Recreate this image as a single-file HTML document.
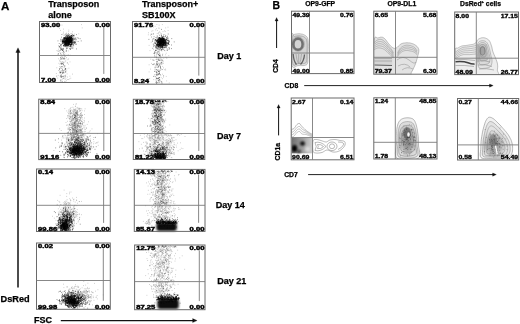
<!DOCTYPE html>
<html><head><meta charset="utf-8"><title>Figure</title>
<style>html,body{margin:0;padding:0;background:#fff;width:520px;height:324px;overflow:hidden}svg{display:block}</style>
</head><body>
<svg width="520" height="324" viewBox="0 0 520 324">
<defs><filter id="soft" x="-5%" y="-5%" width="110%" height="110%"><feGaussianBlur stdDeviation="0.35"/></filter><filter id="soft3" x="-30%" y="-30%" width="160%" height="160%"><feGaussianBlur stdDeviation="0.6"/></filter><filter id="soft4" x="-50%" y="-50%" width="200%" height="200%"><feGaussianBlur stdDeviation="2.5"/></filter><filter id="soft5" x="-50%" y="-50%" width="200%" height="200%"><feGaussianBlur stdDeviation="1.2"/></filter><filter id="soft2" x="-20%" y="-20%" width="140%" height="140%"><feGaussianBlur stdDeviation="0.8"/></filter></defs>
<rect width="520" height="324" fill="#fff"/>
<g font-family="'Liberation Sans', Arial, Helvetica, sans-serif" font-weight="bold" fill="#000">
<g filter="url(#soft)">
<path d="M62.1 81.4h.8M64.2 46.4h.8M65.3 71.9h.8M67.5 55.1h.8M59.5 60.1h.8M68.5 68.2h.8M59.7 45.7h.8M64 52.5h.8M67.1 48h.8M65.5 72.1h.8M59.7 52.4h.8M60.5 62.9h.8M61.4 56.5h.8M62.8 53h.8M67 79.5h.8M58.5 63.3h.8M64.6 68.7h.8M65.1 70.8h.8M65 75.2h.8M64.6 54h.8M68.3 47h.8M64.7 61.8h.8M66 50.5h.8M65 44.8h.8M69.3 78.9h.8M56.4 67.8h.8M67.5 59.7h.8M62.1 49.2h.8M62 72.9h.8M59.6 64.3h.8M56.5 50.6h.8M61.7 81.3h.8M60.6 80.1h.8M64.7 79.2h.8M57.8 75.4h.8M68 64.2h.8M64 55.4h.8M62.1 68.8h.8M60.5 49.8h.8M60.2 67.4h.8M59 46.5h.8M61.1 44.5h.8M63 71.2h.8M62.4 57h.8M58 70.5h.8M62.1 73.6h.8M59.9 75.7h.8M63.6 67.4h.8M69.5 76.2h.8M65.2 69h.8M61.9 79.2h.8M57.3 78.1h.8M58 45.6h.8M57.1 54.2h.8M65.5 58.8h.8M60.3 53.6h.8M63.2 50.7h.8M60.8 77.2h.8M63.3 45h.8M67.9 50.9h.8M60.6 72.9h.8M61.8 52.5h.8M60.2 53.8h.8M66.1 80.8h.8M59.4 73h.8M59 61h.8M58.1 49.2h.8M58.1 54.2h.8M64.6 81.3h.8M72 74.1h.8M59.5 46.7h.8M66.3 70.9h.8M63.9 58.3h.8M59.1 71.4h.8M62 55.2h.8M62.2 48.9h.8M60.6 44.7h.8M69.8 55.2h.8M56.3 76.7h.8M64.3 77.9h.8M64.2 70h.8M61 72.4h.8M63.5 51.4h.8M66.1 57.5h.8M63.5 78.2h.8M64.5 81.5h.8M65.4 60.8h.8M55.9 73.5h.8M68.2 79.5h.8M66.4 55.2h.8M66.5 68.9h.8M58.1 58.8h.8M62.6 61.7h.8M60.2 61.6h.8M60.9 54.6h.8M66.4 44.7h.8M60.2 73.1h.8M62.5 70.4h.8M56.3 75.9h.8M62.4 49.8h.8M63.3 53h.8M60.5 66.7h.8M60.5 79.6h.8M69.6 61.9h.8M58.8 51.6h.8M59.3 66.6h.8M60.2 80.4h.8M67.2 77h.8M70.4 78.2h.8M64.2 59.6h.8M60.5 54h.8M61.5 77.1h.8M66.7 73.9h.8M59.8 76.4h.8M68.1 58.9h.8M68 54.9h.8M63.2 53.1h.8M65.3 77.1h.8M65.6 78.9h.8M66 33.2h.8M81.2 24.6h.8M66.4 33.8h.8M68.4 30.1h.8M72 31.8h.8M61.6 25.1h.8M63 29.1h.8M63 32.1h.8M62.8 33.4h.8M70.5 33.5h.8M58 25.8h.8M78.4 33.8h.8M60.2 30.4h.8M68.3 31.7h.8M74.3 34.1h.8M59.1 28.3h.8M67.3 35h.8M71.9 34.5h.8M71.5 33.5h.8M81.8 27.9h.8" stroke="#000" stroke-opacity="0.3" stroke-width="0.75" fill="none"/>
<path d="M63.8 43.4h.8M57.6 40.9h.8M67.2 38.4h.8M77.7 41.5h.8M70.3 45.2h.8M65.1 42.1h.8M69.8 36h.8M71.6 46.1h.8M66.1 43.7h.8M63.3 39.9h.8M66.3 48.3h.8M78 38.2h.8M67 45h.8M68.6 44.6h.8M70 41.7h.8M69.8 38.5h.8M64.6 38.1h.8M66.4 38.9h.8M69.6 42.6h.8M61.9 41.9h.8M69.6 46.6h.8M61.5 34.5h.8M80.8 40.9h.8M65 44.1h.8M67.9 42.2h.8M61.9 42.5h.8M70.6 41.2h.8M73.1 39.3h.8M76 34.6h.8M66.3 35.3h.8M66 48h.8M65.9 45h.8M66.6 38.5h.8M67.9 44.7h.8M70 38.5h.8M65.6 44.2h.8M69.8 44.8h.8M79.7 38.7h.8M64.2 42.3h.8M68.1 44.6h.8M73.3 45.8h.8M68.8 44.1h.8M75.6 44.2h.8M71.3 42.9h.8M72.1 36.9h.8M68.6 38h.8M64.9 41h.8M68.2 42.2h.8M67.8 36.2h.8M70.6 38.9h.8M67.2 35.5h.8M76.2 48.9h.8M63.2 48.4h.8M69.7 40.4h.8M71.7 35h.8M67.1 40.6h.8M72.8 35.5h.8M58.7 46.8h.8M63.7 42.3h.8M72.5 34.9h.8M66.9 48.1h.8M71.5 46h.8M68.2 38.1h.8M70.3 45.4h.8M72.1 39.6h.8M68.5 41.1h.8M69.5 48.6h.8M67.9 44.7h.8M70.7 39.8h.8M66 43h.8M60 41h.8M70.7 38.4h.8M68.6 38h.8M68.5 40.8h.8M66.7 40.7h.8M61.7 43.8h.8M68.5 41.9h.8M63.5 43.3h.8M72.3 36.7h.8M68.4 45.8h.8M71.1 44.3h.8M58.8 43.5h.8M62.9 40.3h.8M63.9 40.7h.8M69.6 42.5h.8M66 43.4h.8M66 42.6h.8M65.5 44.2h.8M70.4 37.2h.8M69.6 45.3h.8M66.9 43.1h.8M63.3 41.1h.8M70.1 49h.8M71.2 40.7h.8M68.4 36h.8M67.9 41.6h.8M71.1 38.6h.8M66.5 41.6h.8M68.3 43.2h.8M62.3 41.3h.8M69.8 41.3h.8M66.2 40.5h.8M65.3 43h.8M71.1 36h.8M75.5 41h.8M68.1 44.7h.8M60.3 39.3h.8M63.1 42.9h.8M66.5 40.6h.8M68 36.3h.8M62 39.7h.8M71.6 42h.8M63.5 41.1h.8M63 49.3h.8M71.4 43.9h.8M71.5 44h.8M72.9 38.7h.8M74.1 39.1h.8M68.7 44.4h.8M70.2 41.6h.8M60.2 45.6h.8M69.6 37.9h.8M65 34.2h.8M69.9 38.2h.8M70.7 39.4h.8M70 37.1h.8M69.9 49.4h.8M64.3 41.1h.8M65.8 39h.8M75.7 44.2h.8M63.1 37.8h.8M74.6 42.4h.8M73.4 43.3h.8M65 42.7h.8M71 37.5h.8M67.4 45.2h.8M75.9 39.3h.8M64.6 45.1h.8M72.8 37.3h.8M67.3 46.1h.8M67.2 37.9h.8M65.9 40h.8M69.8 41.2h.8M73.9 41.3h.8M63.4 45.9h.8M72.5 41.1h.8M66.5 46.2h.8M61.1 37.2h.8M71.1 37.3h.8M65.1 37.9h.8M61.7 40.7h.8M67.8 43.3h.8M61.3 48.4h.8M70.9 39.9h.8M65.8 50.1h.8M65.7 44h.8M68.5 45.4h.8M67.6 46.3h.8M65.1 42h.8M72.6 48h.8M68.5 38.3h.8M69.3 36.5h.8M74.6 42.8h.8M65.4 40.8h.8M65.8 45.2h.8M60.3 44.3h.8M63.9 38.7h.8M64.7 45h.8M65.1 43.6h.8M74.1 42.4h.8M70.5 45h.8M72.8 41.9h.8M71 41.7h.8M69.7 41.7h.8M71.3 38h.8M74.7 37.7h.8M72 39.2h.8M70.9 48.1h.8M65.3 38.3h.8M65.4 42h.8M76.8 37.8h.8M70.3 36.6h.8M70.9 42.8h.8M74 35.8h.8M71.2 41.2h.8M64.7 43.5h.8M63.7 35.1h.8M71.6 41.9h.8M64.7 38.4h.8M74.4 39.3h.8M74.5 43.7h.8M67.9 45h.8M67.5 41.8h.8M68.2 41.7h.8M72.8 39.6h.8M67.5 41h.8M66.6 42.4h.8M66.2 42.3h.8M69.5 48.7h.8M71.9 48.1h.8M69.5 40.6h.8M73.7 38.6h.8M69.4 37.1h.8M69.8 44.4h.8M71.3 35.7h.8M68.8 40.9h.8M66.1 40.2h.8M65.9 40h.8M72.9 45h.8M61.2 45h.8M67.8 43.8h.8M65.8 45.7h.8M68.6 40.8h.8M63.7 46.4h.8M74.1 43.2h.8M60 72.1h.8M60.6 75.7h.8M64.8 69.4h.8M64.6 56.4h.8M60.7 68.4h.8M61.1 63.3h.8M59.1 46.8h.8M62.1 76.4h.8M59.8 47.7h.8M63.6 72.8h.8M60.8 70.9h.8M61.9 50.5h.8M63.1 64.9h.8M63.5 70.8h.8M61.4 58.1h.8M60.5 81.1h.8M65.1 68.9h.8M63.2 64.1h.8M60 48.4h.8M62 50.4h.8M63.3 76.6h.8M62.9 72.7h.8M65.3 76.1h.8M61 66.7h.8M59.7 72.5h.8M62.4 57.9h.8M62.3 63.9h.8M66.9 62.9h.8M62.2 69.8h.8M58.2 53.8h.8M60.8 46.9h.8M62.2 49.2h.8M60.4 76.9h.8M61.7 62h.8M60.4 49.7h.8M63.4 62.7h.8M61 77.1h.8M61.1 64.3h.8M60.6 59.5h.8M63.2 51.4h.8M59.1 68.6h.8M61.9 63.5h.8M63.3 58.4h.8M62.4 71.1h.8M60 57.4h.8M64.4 66.7h.8M64 55.4h.8M62.4 73.1h.8M65.1 71.9h.8M62.5 72.5h.8M64.2 58.2h.8M60.9 76.3h.8M62.8 78.3h.8M59.2 69.7h.8M63.7 75.9h.8M64.4 65.6h.8M59.9 72.4h.8M59.6 50.5h.8M60.8 74.8h.8M57.7 51.1h.8M63.5 54.7h.8M62.3 66.7h.8M65.8 51.4h.8M60.6 58.5h.8M60.6 63.5h.8M62.7 59.1h.8M61 49.5h.8M61.2 49.2h.8M65 68.7h.8" stroke="#000" stroke-opacity="0.6" stroke-width="0.8" fill="none"/>
<path d="M68.1 41.8h.8M66.2 39.8h.8M69.3 41.3h.8M67.1 39.3h.8M68.5 42.6h.8M64.1 42.1h.8M61.9 41.2h.8M68 40.6h.8M67.8 41.5h.8M68.1 41.2h.8M65 42.9h.8M70 40.3h.8M68.3 37.9h.8M68.6 42.2h.8M68.1 42.8h.8M68.3 42.6h.8M70.5 38h.8M67.8 40h.8M66.2 41.6h.8M71.1 42.2h.8M67.2 36.5h.8M66.6 41.6h.8M71.5 40.9h.8M68.8 44.5h.8M66.5 41.2h.8M66.2 39.3h.8M67.3 40.4h.8M71.3 41h.8M68.1 43.7h.8M68.4 42.3h.8M65.1 43.5h.8M66.1 39.9h.8M70.6 45.3h.8M65.2 41.1h.8M70 41.3h.8M67.5 39.2h.8M67.4 39.9h.8M65.5 43.4h.8M63.6 45.6h.8M64.5 44.9h.8M72.3 42.4h.8M67.4 40.8h.8M66.4 39.5h.8M69.8 38.7h.8M70.6 39.3h.8M70.1 40h.8M66.5 41.9h.8M71 37.8h.8M69.6 36.6h.8M66.6 40.2h.8M64.4 44.9h.8M67.8 41.4h.8M66.5 43.1h.8M66.4 41.6h.8M70.4 38.5h.8M68.5 40.8h.8M68.1 39.6h.8M65.5 44.8h.8M69.9 42h.8M70.7 41.9h.8M68.3 44.7h.8M65.8 44.5h.8M69.9 42.2h.8M63.3 39.4h.8M68.7 38.2h.8M61.7 39.3h.8M64.2 39.4h.8M66.4 39.5h.8M68.1 42.1h.8M64.8 41.2h.8M64.5 40.8h.8M67.4 39.4h.8M69 41.4h.8M71.1 35.9h.8M69.8 39.9h.8M67.7 41.5h.8M65.4 37h.8M64 40.9h.8M67.9 41h.8M68.7 42.7h.8M69.3 40.9h.8M65.9 43.5h.8M64.6 42.6h.8M66.4 38.7h.8M67.5 43.3h.8M68.3 40.8h.8M71 40.3h.8M69.4 44.2h.8M66.1 41.2h.8M65.2 46.6h.8M71.1 41.7h.8M68 40.4h.8M67.1 40.2h.8M68 45.1h.8M65.8 39.5h.8M68.6 43h.8M66.6 41.3h.8M67.4 41.7h.8M63.8 42.8h.8M66.7 44h.8M66.6 43.3h.8M66.7 39.3h.8M71 44.5h.8M67 41.1h.8M65.7 43.2h.8M69.9 37.8h.8M69 41.9h.8M65.2 41.3h.8M68.6 41.5h.8M71 44.2h.8M69.3 40.5h.8M64.2 44.1h.8M61.7 41h.8M70.6 41.5h.8M65.6 38.1h.8M66.2 40.4h.8M66.2 39.2h.8M66.9 38.8h.8M69.9 38.9h.8M66.5 41h.8M63.2 40.1h.8M69.5 39.8h.8M69.4 42.9h.8M62.9 41.9h.8M68.6 41.7h.8M67 38.6h.8M66.4 44h.8M66.9 36.9h.8M71.6 40.6h.8M70.6 38.7h.8M65.9 39.4h.8M70.9 37.9h.8M66.4 37.8h.8M66 44.9h.8M67.1 40.2h.8M65.5 41.7h.8M68.6 43h.8M70.5 37.8h.8M66.6 43.3h.8M68.1 42.6h.8M66.5 39.2h.8M67.6 41.4h.8M68.2 38.3h.8M68.8 36.8h.8M64.4 41.2h.8M65.5 43.4h.8M65.1 40.9h.8M68.4 39h.8M68.3 40.8h.8M63 41.3h.8M65.4 44.4h.8M64.1 42.3h.8M68.1 34h.8M69.1 37.8h.8M65.5 38.7h.8M66.9 45.1h.8M63.7 38.7h.8M66.8 41.6h.8M65.1 42.5h.8M72.1 38.5h.8M69.1 40.2h.8M68.2 40.5h.8M68.3 40.9h.8M64.6 43.1h.8M64 41.7h.8M68.2 41.4h.8M67 40.6h.8M65.9 39.8h.8M66.7 38.8h.8M67.4 37.3h.8M68.9 41.6h.8M66 41.5h.8M69.8 41.2h.8M66.7 38h.8M70.3 42.8h.8M70.4 40.3h.8M65.1 45h.8M67.1 37.8h.8M64.1 41.7h.8M70.3 44.2h.8M71.5 38.9h.8M65.9 39.1h.8M68.9 40.9h.8M70.3 42.5h.8M67.6 38.8h.8M64.5 44.4h.8M63.4 42.7h.8M65.5 40.3h.8M62.1 43.5h.8M66.7 34.9h.8M68.1 42.4h.8M71.2 43.6h.8M70.8 40.3h.8M69.3 42.3h.8M72 43.8h.8M67.4 41.3h.8M69.3 44.1h.8M66 43h.8M70.8 40.8h.8M68.5 39.6h.8M69.4 38h.8M66 42.7h.8M67.4 39.1h.8M67.6 40.4h.8M68 44.1h.8M75.2 42.2h.8M71.3 39h.8M65.6 42.7h.8M62.4 40.6h.8M68 38.8h.8M65.9 39.7h.8M68 42.8h.8M62.9 41.3h.8M69.6 46.6h.8M69.9 39.7h.8M71.7 44.3h.8M66.9 40.8h.8M68.9 39.3h.8M74.2 42h.8M69.9 41.8h.8M63.7 45.1h.8M67.8 42.3h.8M64.2 44.1h.8M65.7 41.5h.8M62.6 41.8h.8M64.4 41.8h.8M65.9 37.2h.8M67 41.5h.8M71.7 40.9h.8M67.7 44.9h.8M67.6 41.1h.8M68.3 38.1h.8M68.6 41.1h.8M67.4 40.1h.8M70 41.5h.8M66.8 43.1h.8M63.4 38.4h.8M65.3 38.8h.8M65 40.4h.8M65.4 43.6h.8M64.2 38.2h.8M69.3 40.1h.8M68.8 40.9h.8M69.3 40.5h.8M71.2 40.4h.8M69.2 41.5h.8M66.3 46.1h.8M68.3 39.1h.8M72.8 35.9h.8M65.8 40.2h.8M68.4 38h.8M66.6 41.8h.8M64.5 37.8h.8M70.3 41.2h.8M66.7 39.6h.8M68.7 39.3h.8M71.5 39.8h.8M70 38.8h.8M69.4 38.8h.8M70 46.2h.8M69.1 39.2h.8M67.9 41.9h.8M63.4 42.9h.8M68.6 38h.8M69.9 40.7h.8M70 44.5h.8M67.1 42.4h.8M66.3 39.2h.8M68.7 42.9h.8M65.3 42h.8M68.2 38.3h.8M67.1 38.9h.8M72.9 44.2h.8M72.4 38.2h.8M65.8 44.9h.8M69.2 44h.8M69.2 42.3h.8M68.4 42.1h.8M70.7 41.4h.8M65.9 41.8h.8M69.2 37h.8M69.9 38.4h.8M66.5 45.1h.8M67.9 43.5h.8M70.2 38.8h.8M67.2 40.2h.8M66.7 42h.8M67.3 40.1h.8M69.2 42.6h.8M71.3 40.8h.8M69.4 39.5h.8M62.1 41.9h.8M70.2 41.9h.8M69.5 40.1h.8M68.7 43.3h.8M63.1 45.3h.8M66.4 44.4h.8M66.3 39.8h.8M67.7 39h.8M64 39.4h.8M70.1 39.6h.8M70.3 39.9h.8M68.2 42.4h.8M69.9 39.2h.8M67 39.4h.8M68 39h.8M70.6 44.2h.8M68 41.2h.8M64.9 37.2h.8M67.9 39.3h.8M62.5 41.4h.8M61.9 42h.8M70.5 37.1h.8M68.2 40.2h.8M68.9 40h.8M68 43.3h.8M66.1 40.1h.8M65.7 38.9h.8M69.3 37.6h.8M69.3 38.3h.8M68.9 39h.8M69.4 37.5h.8M71.1 42.3h.8M64.9 42.1h.8M68.2 35.6h.8M67 39.8h.8M65 41.1h.8M66.7 40.4h.8M69.1 39.5h.8M69.2 41.7h.8M68.7 40.9h.8M67.2 40.8h.8M65.5 41.2h.8M66.4 42.4h.8M67.3 44.3h.8M63.6 37.8h.8M63.9 38.3h.8M68.8 43.3h.8M67.9 37.8h.8M68.6 40.8h.8M71 39.8h.8M69.3 41.9h.8M66.9 39.3h.8M69.9 42.7h.8M65 41.8h.8M68.4 42.1h.8M62.3 41.3h.8M69.3 34.9h.8M67.2 42.1h.8M67.7 41.3h.8M66.7 42.3h.8M68.3 43h.8M64.8 43.4h.8M62.7 41.7h.8M68.7 42.9h.8M66.1 38.4h.8M66.3 45.3h.8M66.7 38h.8M70.6 42.7h.8M71.9 41.9h.8M68.1 40.1h.8M67.1 45.2h.8M69.6 40.8h.8M66 36h.8M70.1 38.7h.8M65.4 39.4h.8M68.8 41.7h.8M67 43.6h.8M65.7 40h.8M70.6 46.8h.8M67.6 44.8h.8M70.5 42h.8M65.8 40.9h.8M71.6 40.2h.8M71.9 42.8h.8M66.6 38.1h.8M70.7 37.5h.8M71.3 40.7h.8M72.9 40.9h.8M68.2 41.4h.8M66.5 41.8h.8M69.8 35.8h.8M68.5 42.8h.8M65.2 45.4h.8M67 43.2h.8M65.5 36h.8M66.2 42.6h.8M71.8 39.7h.8M66.9 38.1h.8M67.6 40.7h.8M64.9 45h.8M71.4 40.6h.8M66.9 45.1h.8M69.4 42.5h.8M69.2 41.4h.8M64.7 38.3h.8M71 35.7h.8M66.9 40.8h.8M63.7 40.2h.8M68.9 41.4h.8M63.5 41.1h.8M66.9 43.2h.8M67.5 42.4h.8M64.2 37.8h.8M67.9 43h.8M72.8 35.6h.8M70.3 40.2h.8M75.2 38.9h.8M71.1 37.1h.8M73 42.4h.8M71.5 39.1h.8" stroke="#000" stroke-opacity="0.9" stroke-width="0.8" fill="none"/>
</g>
<rect x="39.5" y="21.5" width="71" height="61" fill="none" stroke="#6a6a6a" stroke-width="1"/>
<line x1="103.8" y1="26.8" x2="103.8" y2="73.9" stroke="#7a7a7a" stroke-width=".9"/>
<line x1="39.5" y1="55.5" x2="110.5" y2="55.5" stroke="#7a7a7a" stroke-width=".9"/>
<text transform="translate(41.1 26.5) scale(1 0.64)" font-size="7.6" text-anchor="start" stroke="#000" stroke-width="0.6">93.00</text>
<text transform="translate(109.9 26.5) scale(1 0.64)" font-size="7.6" text-anchor="end" stroke="#000" stroke-width="0.6">0.00</text>
<text transform="translate(41.1 81.7) scale(1 0.64)" font-size="7.6" text-anchor="start" stroke="#000" stroke-width="0.6">7.00</text>
<text transform="translate(109.9 81.7) scale(1 0.64)" font-size="7.6" text-anchor="end" stroke="#000" stroke-width="0.6">0.00</text>
<g filter="url(#soft)">
<path d="M148.7 71.9h.8M167.6 27.2h.8M162.3 66.4h.8M159.2 49.9h.8M159.5 47.4h.8M155.7 53h.8M153.5 45.1h.8M156.5 75.7h.8M157 64.2h.8M155.2 47.3h.8M151.4 31.2h.8M156.6 54.3h.8M155.8 77.5h.8M158.1 28.1h.8M148.7 45.4h.8M157.1 52.2h.8M157.5 48.3h.8M152.5 30.7h.8M150.2 35.2h.8M159.9 56.1h.8M154.4 67.3h.8M160.2 67h.8M156.1 64.3h.8M160.8 64.4h.8M156.5 24.5h.8M151.2 37.1h.8M157.6 44.2h.8M156.5 39.4h.8M161 47.3h.8M156 48h.8M156.2 44.4h.8M161.9 24.6h.8M163.2 75.9h.8M161.4 81.4h.8M162.7 60.9h.8M160 40.4h.8M161.5 51h.8M162 78.7h.8M159.8 60h.8M158.3 65.8h.8M158.6 66h.8M168.8 82.9h.8M158.1 63.3h.8M156.9 30.5h.8M156.4 54.3h.8M157.8 79.3h.8M159.1 31.8h.8M152.9 27.1h.8M149.1 27h.8M159.3 28.2h.8M150.8 33.8h.8M159.2 70.3h.8M158.6 60h.8M163.2 67.9h.8M165.5 57.4h.8M159.7 45.2h.8M155.5 71.2h.8M152.7 34.2h.8M154.4 45.6h.8M158.2 48.9h.8M148.7 64.8h.8M158.3 69.7h.8M157.9 58h.8M160.9 60.5h.8M156.5 40.9h.8M158.5 59.6h.8M154.7 74.6h.8M155.9 50.4h.8M150 69.1h.8M158.6 54.5h.8M165 54.8h.8M158.7 60.5h.8M159.6 32.4h.8M153.6 36.9h.8M164.4 34.5h.8M154.5 56.1h.8M161.6 64.1h.8M158.5 66.5h.8M153.7 36.5h.8M162.6 44h.8M158.1 32.7h.8M158.8 63.2h.8M160 49.2h.8M157.9 40.4h.8M156.3 37.5h.8M160.1 80.9h.8M156.2 52.9h.8M155 43.3h.8M151.3 36.9h.8M155 67h.8M155.8 78.7h.8M158.1 33.8h.8M163.3 75.7h.8M150.4 59.2h.8M158.6 78.3h.8M148 80.8h.8M153.3 49.6h.8M155.7 80.5h.8M147.9 34.8h.8M149.6 50.6h.8M158.7 50.6h.8M158.3 38.7h.8M157.5 53h.8M154.4 69.2h.8M167.7 30.5h.8M157.3 52.9h.8M154.1 55.5h.8M165.6 35.8h.8M160.8 62.5h.8M156.3 39.2h.8M163.4 58.3h.8M158.7 58.3h.8M160.9 68.9h.8M159.1 80.1h.8M153.4 79.6h.8M162.4 54.1h.8M158.7 39.8h.8M153.5 38.5h.8M154.6 71.2h.8M162.3 69.6h.8M156.3 71.6h.8M158.2 74h.8M160.9 57.9h.8M158.6 77.8h.8M151.1 63.4h.8M160.9 61.9h.8M162.2 74.2h.8M161.9 63.1h.8M165.3 70.1h.8M159.6 79.8h.8M161.5 47.7h.8M165.2 69.1h.8M156.7 41.9h.8M165.8 53.2h.8M165.8 76.4h.8M161.5 82.4h.8M166.3 80.9h.8M161.8 69.5h.8M154 74.9h.8M163.1 77.1h.8M159.5 60.6h.8M159.9 38.6h.8M158.7 25.1h.8M164.1 69.7h.8M160.5 69.6h.8M154.9 67.9h.8M160.2 58.8h.8M161.3 63.5h.8M154.7 67.1h.8M156 55.9h.8M156.3 63.5h.8M155.3 37.5h.8M159.6 56h.8M162.6 61.7h.8M166.5 58.1h.8M163.4 39.4h.8M162.6 31.6h.8M163.1 63.3h.8M164 30.8h.8M156.3 71.7h.8M161.1 34.9h.8M159.5 70.3h.8M157.4 45.3h.8M156 78.1h.8M155.7 37.5h.8M156.8 33.5h.8M152.4 64.5h.8M160.3 70.4h.8M157.9 45h.8M158.5 52.3h.8M159.5 63.7h.8M161.3 41.7h.8M155.3 47.3h.8M157.5 58h.8M150.8 42.2h.8M148 32.8h.8M149.3 78.5h.8M164.9 31.4h.8M160.1 74.7h.8M164.6 50.8h.8M155.9 75.6h.8M165.3 27.9h.8M166.3 57.8h.8M162.3 45.2h.8M168.7 42h.8M160.8 77.7h.8M154.7 26.3h.8M160.4 75.7h.8M156 28.7h.8M152.2 64.6h.8M152.3 41.1h.8M168.4 55.6h.8M155.6 79.5h.8M157.9 71.8h.8M155 29.9h.8M158.7 42.3h.8M157 53.3h.8" stroke="#000" stroke-opacity="0.3" stroke-width="0.75" fill="none"/>
<path d="M161.2 29.4h.8M155.6 42.8h.8M168.8 44.5h.8M157.4 48.4h.8M162 40.7h.8M166 45.7h.8M166.6 45h.8M158.2 42.2h.8M165.2 41.3h.8M173.8 41.9h.8M159 47.2h.8M160.5 44.4h.8M165 45.7h.8M160.2 44.4h.8M165 45.7h.8M148.5 39.4h.8M162.3 46.3h.8M164.1 42.3h.8M161.6 49.5h.8M168.1 44.1h.8M152.9 44.2h.8M159.9 42.4h.8M165.9 44.6h.8M160.4 46.2h.8M160.1 41.1h.8M161.6 39.2h.8M156.2 47.7h.8M160.5 42.7h.8M160.9 42.9h.8M161.6 43h.8M158.1 46.3h.8M158.6 46.7h.8M153.4 38.8h.8M158.7 44.2h.8M157.1 43.1h.8M152.2 41.1h.8M158.8 44.9h.8M165.2 39.6h.8M168.3 40.6h.8M152.9 33.8h.8M168 42.5h.8M156.9 47.9h.8M161.1 49.6h.8M160.7 33.9h.8M165 41.4h.8M160.5 48.8h.8M160.4 47.2h.8M161.5 39.9h.8M163.6 40.5h.8M165.3 41.9h.8M164.1 39.2h.8M158.2 41.2h.8M159.3 45.6h.8M158.5 44.5h.8M167.9 44.2h.8M165.9 41.7h.8M166.2 45.2h.8M163.3 41.8h.8M159.4 41.9h.8M161.8 44.8h.8M161.8 44.3h.8M154.7 39.9h.8M160.4 41.9h.8M157.9 45.4h.8M162.7 36.6h.8M161.6 38.6h.8M168.7 41.1h.8M160.7 42.6h.8M168.1 43.7h.8M165.1 47.1h.8M157.5 49.3h.8M157.9 46h.8M163.3 40.8h.8M171.2 45h.8M160.6 43.6h.8M165.4 47.2h.8M164 47.5h.8M167.8 38.2h.8M162 48.4h.8M164.3 38.9h.8M160.4 46.8h.8M159.4 42.5h.8M164.9 44.2h.8M158.4 40.6h.8M162.6 43.1h.8M158.8 49.4h.8M160.3 48.1h.8M168.3 40.8h.8M160.5 43.2h.8M158 39.2h.8M159.9 46.1h.8M159.6 37.7h.8M167.8 34h.8M158.8 45h.8M155.7 45.2h.8M162.5 38.7h.8M163.7 43.2h.8M162.5 48.1h.8M163.6 48h.8M162.7 44.7h.8M155.5 47.9h.8M157.8 43.1h.8M162.8 41.6h.8M152.4 39.2h.8M158.1 44.9h.8M157.7 44h.8M157.5 51.3h.8M163.9 50.3h.8M157.3 45.4h.8M157.6 45.1h.8M164.4 36.8h.8M156.8 38.4h.8M155.3 40.1h.8M157.5 37.4h.8M162 44.9h.8M156 40.7h.8M161.6 42h.8M158.6 45.9h.8M165.1 45.4h.8M160.7 50.4h.8M168.9 41.3h.8M161 47.4h.8M158.2 44.4h.8M161.7 40.2h.8M159.3 35.3h.8M171.1 48.6h.8M165.7 47.7h.8M165.8 46.3h.8M157.7 44.5h.8M156.7 44.4h.8M168.9 48.4h.8M159.9 41.1h.8M161.2 46.5h.8M159.9 38.6h.8M163 35h.8M162.1 47.2h.8M162.8 45.8h.8M162.1 39.6h.8M160.6 42.5h.8M166.8 49h.8M158.4 42.1h.8M167.3 44.1h.8M165.2 43.9h.8M161.3 43.2h.8M168.6 42.2h.8M168.6 47.5h.8M161 39.7h.8M160.4 39.4h.8M163.9 45.9h.8M153.9 43.4h.8M157.8 43.2h.8M167.2 36.3h.8M162.3 42.5h.8M153.6 45.3h.8M161.6 40.9h.8M158.5 55h.8M157.6 41.4h.8M159.9 42.5h.8M159.5 37.6h.8M158.1 41.3h.8M160.1 42.9h.8M158.9 44.6h.8M162.3 43.4h.8M159.5 45h.8M165.8 47.1h.8M160.7 43.5h.8M171.4 38.6h.8M162.4 46.2h.8M162.1 45.3h.8M162.3 42.6h.8M159.8 42.7h.8M156.7 45.6h.8M168.7 49.3h.8M166.9 39.1h.8M167.9 40.1h.8M161.3 49.8h.8M157 46h.8M162.7 42.2h.8M157.8 44.4h.8M159.6 46.8h.8M166.6 37.6h.8M159.4 41.6h.8M161.9 42h.8M154.6 40.8h.8M157.6 48.8h.8M155.8 44.2h.8M156.5 41.8h.8M150.9 34.4h.8M156.3 46.7h.8M160.9 36.3h.8M163.6 45.5h.8M160.5 41.5h.8M163.3 47.4h.8M162.1 44.8h.8M161.3 41.4h.8M160.2 41.9h.8M165.4 44.7h.8M154 51.9h.8M156.2 74.5h.8M155.7 69.7h.8M155.6 46.1h.8M160.2 68.3h.8M159.3 53.2h.8M155.9 57.2h.8M156.5 63.4h.8M154.3 53.8h.8M153.5 60.3h.8M156.9 70.6h.8M157.5 74.4h.8M157.8 80.5h.8M159.2 55.4h.8M162.1 55.1h.8M156.3 57.7h.8M158 60.1h.8M159.4 60.2h.8M156.9 65.1h.8M160.1 67.4h.8M157.6 59.4h.8M160.8 46.3h.8M158.2 73.9h.8M155.2 50.4h.8M156.1 78.5h.8M158.1 66.3h.8M161.8 60.5h.8M157.4 64.3h.8M155.1 50.3h.8M159.7 57h.8M158.4 80.8h.8M156.2 81.7h.8M159 55.7h.8M158.7 81h.8M153.4 46.6h.8M159.1 73.3h.8M157.8 47h.8M156.6 62.2h.8M156.6 61.7h.8M161.3 62.5h.8M160.9 81.8h.8M161.5 59.4h.8M155 46.7h.8M156.1 50.2h.8M159.5 74.5h.8M155.9 48.2h.8M153.5 53.4h.8M161.6 83.2h.8M158.5 51.6h.8M158 71h.8M156.6 67h.8M155.9 72.6h.8M160.2 66.3h.8M155.6 65.2h.8M160.4 63.2h.8M156.6 73.3h.8M152.5 59.9h.8M159.9 55.1h.8M153.4 64.6h.8M158.2 78.5h.8M158.4 71.5h.8M157.7 67.5h.8M154.8 76.6h.8M159.5 64.9h.8M154.3 71.4h.8M156.5 64.6h.8M155.8 59.4h.8M156.7 75.1h.8M159.4 48.7h.8M156.1 83.1h.8M158.7 82.5h.8M159 77.6h.8M153.7 63.8h.8M156.7 61.3h.8M158.2 54.4h.8M153.3 76.4h.8M159.1 79.5h.8M159.1 65h.8M157.1 78.4h.8M154.5 57.1h.8M157.5 78.7h.8M156.3 83h.8M158.7 71.5h.8M157.3 82.6h.8M159.1 73.6h.8M156.5 72.4h.8M152.4 48.3h.8M158.6 77.5h.8M154.2 52.9h.8M159.1 72.1h.8M154.8 52.1h.8M157.7 74.7h.8M155.5 82.3h.8M156.5 69.5h.8M157.9 47.5h.8" stroke="#000" stroke-opacity="0.6" stroke-width="0.8" fill="none"/>
<path d="M159.3 42.2h.8M164.5 42.5h.8M161.1 41.3h.8M164 42.7h.8M160.3 39h.8M157.2 44.4h.8M164 43.4h.8M159 45.5h.8M160.4 43.5h.8M158.6 38.1h.8M158 38.9h.8M161.5 42.3h.8M165.5 40.1h.8M159.1 37.5h.8M160.9 41.3h.8M156.3 44.5h.8M162.5 40.1h.8M159.9 40.4h.8M162 46.7h.8M159.2 43.7h.8M165.3 43.6h.8M156.9 41.3h.8M158.5 40.3h.8M159.5 43.2h.8M160.3 44.3h.8M158.7 41.6h.8M161.2 39.9h.8M158.1 42.4h.8M161 45.8h.8M161.1 42.6h.8M162.8 42.2h.8M159.4 42.2h.8M159.8 45.1h.8M164.6 40.9h.8M162.7 49.4h.8M161.3 41h.8M163 43.6h.8M160.9 38.9h.8M162.6 41.1h.8M160.4 39h.8M161.7 42.4h.8M158.3 41.7h.8M155 43.4h.8M163.2 40.2h.8M163.4 38.4h.8M159.5 45.4h.8M160.8 41.8h.8M161.5 39.2h.8M163.4 41.6h.8M162.2 40.4h.8M164.6 43.9h.8M164.1 42.6h.8M161.2 35.8h.8M157.7 42.1h.8M164.1 44.8h.8M164.5 39.1h.8M165.2 40.4h.8M157.9 44.5h.8M166.3 42.4h.8M160.6 41.2h.8M160.7 43.8h.8M158 41.8h.8M157.8 46.8h.8M162.2 39.2h.8M158.9 41.5h.8M162.4 44.1h.8M158.7 40.4h.8M164.3 41.9h.8M164.1 45.1h.8M162.4 42.4h.8M163.2 39.1h.8M163.5 39.1h.8M161.2 45.1h.8M158.7 37.5h.8M162.6 42.9h.8M159.1 44.3h.8M161.1 40.7h.8M155.4 39.9h.8M163.2 44.4h.8M159.4 43.6h.8M166.5 43.3h.8M162.8 38.9h.8M159.7 40h.8M162.7 42.4h.8M162.1 40.8h.8M162 44.4h.8M160.6 41.9h.8M160.3 44.2h.8M160 44h.8M162.6 42.7h.8M165.2 43.6h.8M159.4 46.9h.8M163.5 44.9h.8M165.4 41.2h.8M163.5 42.9h.8M159.9 41.6h.8M159.4 38.4h.8M160.5 39.5h.8M162.6 43.8h.8M162.5 43.2h.8M160.1 42.3h.8M163.4 40.6h.8M160.4 38.4h.8M167.5 43.2h.8M163.2 41.8h.8M162.5 40h.8M163.1 39.3h.8M156.4 41.3h.8M156.4 40.5h.8M165.1 42h.8M161.6 43.6h.8M162.1 41.3h.8M161.4 46.2h.8M160.3 40.2h.8M164 45.9h.8M160.1 41.5h.8M161.5 44.2h.8M163.3 42.3h.8M161.1 42.8h.8M158.3 42h.8M159 45.3h.8M161.2 43.6h.8M164 39.1h.8M163.2 39.7h.8M160.2 42.1h.8M159.6 43.3h.8M163.4 38.1h.8M162.9 38.6h.8M162.7 36.8h.8M162.6 39.9h.8M162.2 44.3h.8M160.8 43.2h.8M162.6 45.4h.8M163.1 41.1h.8M155.9 45.7h.8M162.8 39.6h.8M155.8 41.2h.8M166.3 43.3h.8M160.3 39.2h.8M160.3 44.7h.8M162.6 42.6h.8M159.2 42.1h.8M166.5 37.7h.8M158.6 44.4h.8M165 44.5h.8M159 43.4h.8M159.9 43.1h.8M160.1 39.1h.8M161.4 43.5h.8M160.7 42.5h.8M159.1 41.9h.8M161.4 42.7h.8M161.1 43.5h.8M165.1 42.3h.8M163.2 42.2h.8M162.4 42.6h.8M159.4 40.4h.8M163 42.7h.8M166.6 38.8h.8M158.7 43.3h.8M163.5 43h.8M162.4 44.1h.8M168.2 43.3h.8M160.1 40.6h.8M161.5 39.8h.8M164.8 44.5h.8M156.7 44.4h.8M158.8 39.6h.8M165.5 45.8h.8M163.4 42.9h.8M163.1 42.6h.8M161 43.9h.8M163.1 45.5h.8M164 39.5h.8M161.2 40.3h.8M164.1 42.3h.8M163.8 41.1h.8M163.5 41h.8M156.9 43.7h.8M160.5 45.3h.8M160.7 39h.8M162.8 43.8h.8M160.9 45.1h.8M155.1 39.7h.8M157.7 42.2h.8M161.5 42h.8M159.5 39.8h.8M159.8 47.8h.8M165.4 42.1h.8M159.4 42.8h.8M159.8 44.6h.8M162.9 44.4h.8M163.7 47.3h.8M159.5 45h.8M160.1 42.7h.8M158.8 41.7h.8M157.9 44.5h.8M160.6 43.5h.8M158.6 42.2h.8M164 41h.8M163.4 42.9h.8M159.6 39h.8M162.6 37h.8M160 45.2h.8M162.9 41.7h.8M161.5 45.5h.8M164.1 40.7h.8M156.8 36.1h.8M158.7 38.3h.8M157.5 45.3h.8M162 37.4h.8M163.9 42.6h.8M160.1 44.4h.8M156.6 40.8h.8M157.2 40.9h.8M162.8 38.6h.8M158 41h.8M161.8 41.3h.8M163.2 40h.8M161 40.1h.8M158.6 40.4h.8M162.8 43h.8M161.1 42.4h.8M159.1 38.6h.8M160.9 40.9h.8M161.9 39.5h.8M159.7 40.3h.8M159.2 44.5h.8M160.5 43.5h.8M156.9 42.4h.8M160.5 43.8h.8M161.7 41.6h.8M163.6 41.9h.8M163.2 43.4h.8M161 41.5h.8M163.1 44.3h.8M163.2 40.6h.8M158.1 43h.8M161.8 44.7h.8M160.3 42h.8M162.9 40.5h.8M162.1 46h.8M165.5 42.4h.8M161.4 39.8h.8M162.8 41.8h.8M161.2 41.7h.8M163.1 45h.8M157.9 39.4h.8M159.8 44h.8M161.9 40.5h.8M156.9 40.1h.8M160.2 45.9h.8M164.5 40.7h.8M160.8 40.8h.8M164.5 42h.8M162.1 41.7h.8M162.5 42.3h.8M160.7 47.5h.8M160.7 37.7h.8M158.8 42.6h.8M164.1 44.1h.8M163.8 40.2h.8M160.8 45.9h.8M157.9 43h.8M160.5 39.5h.8M162.9 44.4h.8M158.5 44.3h.8M160 43h.8M157.5 39.9h.8M162.4 45.5h.8M164.5 43.1h.8M156.8 43.3h.8M162.8 42.6h.8M162.2 41.3h.8M160.4 40h.8M166 39.3h.8M159.2 43.5h.8M160.8 43.5h.8M163.9 40.7h.8M158.9 41.7h.8M160.7 39.8h.8M159.7 40.2h.8M158.8 43.3h.8M167.8 41.9h.8M162.1 38.2h.8M160.4 39.5h.8M161.3 41.9h.8M158.8 39.2h.8M161.8 38.6h.8M158.2 42.4h.8M160.7 43.7h.8M160.6 38.9h.8M163.2 39.8h.8M160.8 42.9h.8M166.8 45.7h.8M162.3 46.2h.8M159.5 40.7h.8M156.4 45.9h.8M162 47.5h.8M162.3 42.3h.8M163.4 40h.8M161.8 42.9h.8M165.4 40.3h.8M159.5 41.6h.8M154.5 42.3h.8M163.1 43.3h.8M165.7 39.7h.8M156.9 45h.8M159.7 41.9h.8M164.5 45.3h.8M159.7 38.7h.8M164.9 42.5h.8M167.2 40.5h.8M161.4 37.7h.8M159.4 41.1h.8M161.5 42.9h.8M158.4 42h.8M161.1 39.2h.8M163.2 43.1h.8M161.7 42.7h.8M157.8 39.2h.8M159.6 41.9h.8M157.7 46.5h.8M159.6 41.4h.8M159.2 45h.8M160.5 42.9h.8M161.4 43.8h.8M162.2 41.3h.8M163.8 43.6h.8M162.6 46.3h.8M157.4 42.8h.8M158.3 46.4h.8M159.4 40.1h.8M159.8 40.2h.8M161.5 42h.8M162.9 40.6h.8M157.1 40.3h.8M162.9 38.9h.8M163.6 40.5h.8M163.7 42.9h.8M166.8 50.3h.8M159.6 45.2h.8M161.4 39.2h.8M159.6 41.3h.8M157.1 40.1h.8M160.2 43.4h.8M165.9 43.9h.8M160 41.8h.8M157.3 42.3h.8M162.8 44.6h.8M159.7 44.2h.8M162.3 41.5h.8M161.2 44.7h.8M162.3 39.2h.8M161 39h.8M158.6 39.9h.8M157.6 41.6h.8M159.3 44.1h.8M163.2 41h.8M159.1 44.8h.8M157.9 42h.8M158.7 39.6h.8M159 44.9h.8M161.7 39.2h.8M158.3 41.7h.8M161.9 39.1h.8M162.8 38.9h.8M160 41.2h.8M164.7 43h.8M159.8 42.3h.8M159.6 45h.8M158.1 45.6h.8M162 41.6h.8M163 42.8h.8M160.6 41.8h.8M166.7 42.8h.8M157.5 45.8h.8M162 40.3h.8M161.5 45.7h.8M163.2 44.5h.8M163.5 44.1h.8M165.2 36.1h.8M161.6 44.6h.8M167.6 43.6h.8M160.2 46h.8M164.9 43h.8M162.5 42.4h.8M158.9 41.7h.8M163.3 41.9h.8M165.8 40h.8M161 40.3h.8M163 41h.8M159.4 46.2h.8M161.8 47.3h.8M160.8 42h.8M158.2 41.4h.8M163.4 42.9h.8M162 37.9h.8M160.4 41.9h.8M159.4 43.2h.8M164.5 41.4h.8M164.4 43.2h.8M161.1 42.9h.8" stroke="#000" stroke-opacity="0.9" stroke-width="0.8" fill="none"/>
</g>
<rect x="132.5" y="21.5" width="72.5" height="62.7" fill="none" stroke="#6a6a6a" stroke-width="1"/>
<line x1="198.8" y1="26.8" x2="198.8" y2="75.6" stroke="#7a7a7a" stroke-width=".9"/>
<line x1="132.5" y1="57.3" x2="205" y2="57.3" stroke="#7a7a7a" stroke-width=".9"/>
<text transform="translate(134.1 26.5) scale(1 0.64)" font-size="7.6" text-anchor="start" stroke="#000" stroke-width="0.6">91.76</text>
<text transform="translate(204.4 26.5) scale(1 0.64)" font-size="7.6" text-anchor="end" stroke="#000" stroke-width="0.6">0.00</text>
<text transform="translate(134.1 83.4) scale(1 0.64)" font-size="7.6" text-anchor="start" stroke="#000" stroke-width="0.6">8.24</text>
<text transform="translate(204.4 83.4) scale(1 0.64)" font-size="7.6" text-anchor="end" stroke="#000" stroke-width="0.6">0.00</text>
<g filter="url(#soft)">
<path d="M67.6 117.6h.8M77.6 126.2h.8M80 110.9h.8M74.4 141.9h.8M81.2 121.4h.8M82 132.3h.8M72.4 129.4h.8M73.1 126.5h.8M70.1 117.1h.8M77.2 139.3h.8M77.8 126h.8M77.4 113h.8M70.2 111.8h.8M72 127.1h.8M69.4 129.5h.8M68.7 118.5h.8M69.7 116.9h.8M68.8 139.5h.8M74.3 134h.8M76.7 113.5h.8M77.5 138.7h.8M74.9 110.2h.8M72.4 140h.8M75 139.8h.8M77.2 112.7h.8M73.9 145.7h.8M75.2 142.2h.8M73.8 114.8h.8M73 132.8h.8M75.1 125.7h.8M70.6 113.5h.8M79.1 115.8h.8M68.9 115.8h.8M76.8 133.5h.8M69.7 129.7h.8M80.9 144.9h.8M78.4 119.6h.8M71.8 126.3h.8M73.2 122.1h.8M70.6 122.5h.8M74.8 130.2h.8M76.6 137.9h.8M85 134h.8M69.7 112.4h.8M79.9 118.5h.8M72.7 131.8h.8M76.1 136.9h.8M78.4 141h.8M77.1 121.7h.8M76.7 125.4h.8M74.2 109.8h.8M75 127.7h.8M75.6 119.6h.8M79.7 128h.8M69.3 130.8h.8M73.1 114.5h.8M70.1 110.9h.8M71.2 135.1h.8M71.9 135.4h.8M79.3 145.5h.8M83.4 127.1h.8M80.3 110.6h.8M70.4 110.9h.8M75.3 144.9h.8M70.6 135.9h.8M76.7 114.3h.8M80 124.1h.8M77.3 115.4h.8M78.4 137.5h.8M74.4 135.8h.8M67.3 143.2h.8M67.3 133h.8M74.6 123.4h.8M77.2 142.6h.8M80 122.6h.8M73.6 136h.8M75.3 116.3h.8M76 118.5h.8M79.2 131h.8M74.7 119.2h.8M70.7 140.7h.8M79.2 127.6h.8M76.6 143.3h.8M76.5 130.9h.8M70 129.9h.8M75 127.3h.8M68.3 115.4h.8M67.2 121.3h.8M74.1 142.1h.8M73.3 133.7h.8M77.2 137.3h.8M80.6 123.8h.8M74.9 115.7h.8M82 138.2h.8M72.7 123.9h.8M78 137.6h.8M70.1 110.6h.8M75.5 121.4h.8M73.8 132.7h.8M74.2 143.4h.8M77.3 115.6h.8M67.6 145.3h.8M75.5 133.6h.8M71.8 115.6h.8M75.5 108.6h.8M76.5 143.3h.8M73.6 133.7h.8M73.5 135.5h.8M70.5 123.7h.8M77.1 111.3h.8M72.4 126.2h.8M76.7 132.5h.8M69.4 118.5h.8M80.3 144.5h.8M71 137.4h.8M79.5 108.7h.8M73.3 119.2h.8M77.1 142.2h.8M74.4 136.4h.8M77.6 138.5h.8M75 115.2h.8M79.9 141.5h.8M77.6 133h.8M77.7 123.4h.8M81.5 134h.8M72.3 117.3h.8M80.1 142.1h.8M75.3 111h.8M69.2 118.2h.8M76.9 135.3h.8M74.2 123.9h.8M81.6 141.6h.8M73.1 139.4h.8M75.2 133.9h.8M75.9 121.7h.8M67.6 124.7h.8M77 120.6h.8M71.1 119.9h.8M80.5 108.5h.8M81.5 117.8h.8M75 134.4h.8M68.8 128.6h.8M75.7 120.6h.8M75.7 120.4h.8M77.8 114.8h.8M73.8 110.9h.8M70.4 113.9h.8M74.4 131.6h.8M71.4 143.3h.8M81.9 134.1h.8M72.2 121.1h.8M72.5 129.4h.8M74.8 113.1h.8M70.2 111.1h.8M73.3 110.4h.8M74.5 129.5h.8M73.1 130.3h.8M74 113.9h.8M79.8 143.8h.8M76.7 113.3h.8M69.8 127.4h.8M73.3 132.7h.8M77.9 109.2h.8M72.5 118.3h.8M75.3 128.2h.8M74.9 133.7h.8M77.1 133.9h.8M74.3 133.1h.8M74.4 110.8h.8M71.7 110.2h.8M76.4 140.7h.8M71.4 113.6h.8M81.8 121.8h.8M74.9 139.9h.8M74.1 109.7h.8M78.1 140.6h.8M74.7 132.8h.8M75.3 122.7h.8M74.8 117.1h.8M72.2 127.8h.8M71.4 139.3h.8M72.3 115.7h.8M79.4 117.4h.8M72.6 127h.8M73.4 138.8h.8M73.3 123.8h.8M77.7 123.6h.8M82.7 144.6h.8M71.4 128.3h.8M77.1 137.9h.8M75.5 133.6h.8M73.8 128.8h.8M77 124.5h.8M70.1 132.9h.8M78.2 139.6h.8M75.9 113.5h.8M71.1 118.3h.8M81.2 116h.8M78.3 138.8h.8M79.5 120.3h.8M69.3 125h.8M73.9 127.5h.8M73 144.4h.8M77.4 108.1h.8M80.3 115h.8M67.6 141h.8M75.1 125.4h.8M74.5 122h.8M78.9 143.9h.8M74.8 112.1h.8M70.1 108.6h.8M74.2 142.5h.8M71 139.2h.8M72 128.4h.8M75.2 118.1h.8M73.1 137.6h.8M76.1 114h.8M69.1 124.2h.8M84 114.5h.8M79.9 123.5h.8M77.8 108.2h.8M70 125.5h.8M66.6 125.2h.8M71.6 145.3h.8M74.1 122.4h.8M83.7 128.2h.8M80.1 113.7h.8M73 118.7h.8M79.7 116.7h.8M79.8 145h.8M75.1 112.8h.8M79.7 132.4h.8M76.3 139.6h.8M72.5 143.8h.8M70.4 134.8h.8M74.5 114.9h.8M78.9 143h.8M69.7 127.6h.8M68.7 128.1h.8M77.1 141.9h.8M64.4 108.6h.8M82.1 135.3h.8M73.3 136.9h.8M77.8 133.5h.8M82.2 115.4h.8M69.4 142.7h.8M70.9 117.1h.8M83.7 120.3h.8M73.9 139.7h.8M74.5 143h.8M75.9 118h.8M79.1 126.2h.8M80.2 140.3h.8M75.4 128.4h.8M73.7 116.7h.8M74.9 122.1h.8M76.2 132h.8M80.1 135.5h.8M75.5 119.7h.8M82.1 115.2h.8M71.7 137.7h.8M77.1 119.5h.8M81.8 117.3h.8M80 119h.8M76.3 116.8h.8M71.6 113.1h.8M72.2 122.6h.8M74.4 115.2h.8M76.2 132.6h.8M74 111.9h.8M69.3 121.6h.8M72.1 144h.8M77 125.4h.8M78.2 141.9h.8M69.6 116.7h.8M73.6 137.9h.8M68.5 111.3h.8M72.8 144.1h.8M88.8 144.6h.8M75.2 134.3h.8M73.7 115.7h.8M72.7 136.8h.8M70.3 138.6h.8M67.8 132.9h.8M74.8 137.5h.8M73.9 117.6h.8M80.7 137.7h.8M68.6 116.6h.8M76.7 127.2h.8M80.2 123h.8M67.4 116.1h.8M77.6 117.8h.8M68.7 141.6h.8M77 110.3h.8M80.7 126.7h.8M75 126.3h.8M76.1 112.2h.8M72.3 111.2h.8M76.1 124.6h.8M79.4 121.6h.8M74.3 117.8h.8M74.5 117.7h.8M76.5 116.7h.8M78.2 132.2h.8M68.6 145.1h.8M75.2 119.6h.8M72.3 123.2h.8M76.9 134.5h.8M79 119.7h.8M76.2 112.8h.8M80 132.7h.8M71.2 121.5h.8M73.4 108.1h.8M71.2 120.5h.8M75.2 141.4h.8M75.4 110h.8M74.2 141.9h.8M70.3 131.3h.8M74.7 139.6h.8M73.3 129.3h.8M77.4 135h.8M74 141.7h.8M79.5 114.5h.8M75.9 112.2h.8M67.8 129.7h.8M74.3 126.2h.8M69.4 127.8h.8M78.8 121.7h.8M80.6 145.2h.8M74.9 131h.8M76.7 131.2h.8M69.4 109.1h.8M66.3 118.5h.8M72.8 118.7h.8M74 145.7h.8M69.1 113.2h.8M75.4 127.2h.8M76.2 135.8h.8M77.5 131.6h.8M81 136.9h.8M78.2 121.7h.8M73.6 114.2h.8M75.4 116.7h.8M77.3 128.9h.8M70.9 127.8h.8M80.2 123.4h.8M78.5 142.9h.8M74.1 123.2h.8M72.5 116.1h.8M89.8 130.8h.8M78.3 130.1h.8M78.7 137.8h.8M82 129.3h.8M78.8 108.3h.8M75.8 126.4h.8M77.7 115h.8M71.5 116.9h.8M77.8 137.3h.8M69 144.6h.8M76.7 141.1h.8M77.2 116.9h.8M69 124.2h.8M82.5 140.7h.8M70.5 140h.8M79.1 110.2h.8M73 118.6h.8M76.2 130.5h.8M72.5 115.4h.8M84.7 108.8h.8M79 116.4h.8M82.1 128.6h.8M78.1 135.2h.8M77.8 136.1h.8M75.6 129.5h.8M74.1 130.7h.8M77.4 127.8h.8M75.7 138.2h.8M74.5 132.7h.8M69.7 133.9h.8M73.9 142.3h.8M77.4 112.5h.8M73.2 109.5h.8M76.4 128.2h.8M74.5 125h.8M71.1 142.5h.8M71.6 119.7h.8M72.2 133.7h.8M74 134.4h.8M74.1 117.1h.8M79.4 108.3h.8M70.9 123.9h.8M67.1 115.7h.8M77.8 115.2h.8M73.3 125.5h.8M74.6 114.8h.8M85 129.3h.8M80.8 131.4h.8M77.4 125.9h.8M78.8 129.4h.8M75.6 115.5h.8M78.8 129.9h.8M72.7 140.4h.8M72.3 140.2h.8M73.3 112.2h.8M81.3 120.3h.8M81.2 135.3h.8M72.7 130.5h.8M79.6 122.7h.8M74.5 139.7h.8M79.3 142h.8M73.9 129.4h.8M78.8 117.5h.8M74.7 144.6h.8M74 126.3h.8M75 121.1h.8M75.7 112.8h.8M72.9 143.8h.8M69.8 134.2h.8M81.7 110.7h.8M73.6 114.9h.8M68 143.1h.8M66.3 110.9h.8M64.2 133.7h.8M72.7 129.6h.8M80.4 127h.8M68.8 134.3h.8M73.9 120.8h.8M68 131.8h.8M79.4 141.3h.8M76.6 129.8h.8M76.4 127.9h.8M80.4 131.2h.8M81.6 115.1h.8M79.2 120.7h.8M72.9 135.2h.8M70 129.6h.8M71.1 112.5h.8M68.3 141h.8M82.2 123.6h.8M74.4 117.4h.8M75.7 113.7h.8M75.9 143.1h.8M83 135.8h.8M73 119.8h.8M79.8 115.3h.8M76.3 140.4h.8M74.6 113.6h.8M67.7 127.8h.8M78.7 133.4h.8M72.2 143.6h.8M73.4 134.1h.8M76 112.1h.8M75.5 127.8h.8M79.6 142.6h.8M72.5 118.3h.8M75.8 111.3h.8M76.2 110.2h.8M75.3 139.7h.8M77.8 143.5h.8M74.2 125.5h.8M79.9 119.6h.8M72.4 123.1h.8M69.5 114.8h.8M75 124.6h.8M79.8 125.9h.8M73.1 128.3h.8M72.7 112h.8M73.8 145h.8M75.8 131.8h.8M74.5 129.8h.8M76.4 139.4h.8M68.4 109.9h.8M81 130.3h.8M77.4 122h.8M71.8 132.4h.8M80.5 143.7h.8M76.9 110.6h.8M80.9 114.6h.8M70.6 121.3h.8M81.7 128.3h.8M75.3 139.5h.8M67.1 135.9h.8M78.1 128.9h.8M74 115.3h.8M71.2 127.1h.8M74.3 124.7h.8M67.6 112.3h.8M77.4 142.8h.8M74.3 140h.8M74.1 131.3h.8M80.7 117.4h.8M75.3 129.9h.8M72.6 120.3h.8M71.4 132.6h.8M74.9 109.4h.8M79.3 130.9h.8M72.9 129.3h.8M71.1 143.2h.8M78.8 129.7h.8M75.4 137.7h.8M82.1 122h.8M81.4 109h.8M72.1 119h.8M83.7 122.7h.8M79.5 109.7h.8M76.5 133.1h.8M75.8 103.6h.8M76.8 135.3h.8M81.9 131.6h.8M68.4 126.1h.8M80.1 120.7h.8M78.5 123.7h.8M76.4 134.8h.8M72.8 153.7h.8M76.7 131.1h.8M72.7 128.6h.8M74.8 114.9h.8M69.1 130.6h.8M75.6 104.4h.8M66.4 125.2h.8M75.7 133.5h.8M70.4 133.3h.8M74.6 123.4h.8M75.4 136.9h.8M78.5 136h.8M72.9 125.4h.8M70.8 123h.8M74.2 123.8h.8M79.2 131.8h.8M79.4 129.2h.8M80.8 129h.8M80.3 132.5h.8M79.3 127.4h.8M70.4 115h.8M84.8 131.5h.8M78 126.5h.8M73.9 153.8h.8M71 127.4h.8M75.8 117.8h.8M70.3 121.7h.8M74.5 123.6h.8M79.7 117.4h.8M77.8 141.2h.8M80 117.7h.8M62.7 135.6h.8M78.2 122.7h.8M81.8 124.4h.8M76.5 118.7h.8M77.4 124.1h.8M73.7 137.7h.8M77 114.5h.8M79.1 135.5h.8M72.3 124.5h.8M76.2 125.8h.8M76.6 133.8h.8M73.8 146.7h.8M72.8 123.1h.8M84.9 149.5h.8M76.2 126.3h.8M71.2 138.3h.8M76.8 120.4h.8M77.8 140.3h.8M79.1 147.9h.8M81.2 132h.8M75.9 133h.8M81.5 135.7h.8M80.7 130h.8M79.4 138.9h.8M75.3 116.3h.8M83.8 133.2h.8M74 130.1h.8M74.9 112.7h.8M75.2 115.2h.8M76.9 127h.8M81.1 126.9h.8M77.7 125.3h.8M74.3 115.4h.8M80.5 129.5h.8M73.4 129.9h.8M74.1 121.5h.8M77.1 138.9h.8M74.8 115.2h.8M73.2 144.2h.8M72.3 138.7h.8M74.9 134.7h.8M75.5 113.8h.8M74.1 147h.8M75.4 133.1h.8M74.5 126.8h.8M77.5 132.3h.8M86 127.9h.8M75.2 122h.8M70.1 113.5h.8M79 111.3h.8M82.3 135.7h.8M74.7 117.6h.8M76.1 128.2h.8M81.1 121.3h.8M74.3 127.5h.8M74.8 122.4h.8M68.3 113.3h.8M73 126h.8M80.5 148.8h.8M83.7 131.6h.8M84.5 127h.8M73.6 148.8h.8M71.2 124.3h.8M74.8 141.2h.8M73.3 135.1h.8M74.2 117h.8M77.1 129.5h.8M70.8 120.2h.8M72.5 136.7h.8M78.1 130.2h.8M78.2 123.8h.8M78.2 122.6h.8M70 121.7h.8M77 128.9h.8M80.8 112.9h.8M75 131.6h.8M71.7 130.3h.8M74.2 117.9h.8M81.1 115.6h.8M80.5 124.3h.8M71.8 120.1h.8M72.7 120.4h.8M77.2 111.3h.8M81.6 135.6h.8M82.3 119.2h.8M65.6 122.5h.8M75.3 130.8h.8M73.7 127.3h.8M76.7 114.1h.8M84.2 118h.8M77.2 137.8h.8M72.5 128.1h.8M83.4 125.6h.8M80.7 130.7h.8M77.1 134.6h.8M75 126.2h.8M80.4 130.5h.8M78.3 117.4h.8M76.1 139h.8M80.1 131.2h.8M73.7 122.6h.8M78 140.9h.8M76.3 139.9h.8M74.7 138.9h.8M71.6 129.8h.8M71.3 134.1h.8M78.6 119.6h.8M72.7 124.2h.8M69.4 119.8h.8M72.2 135.2h.8M82.3 124.1h.8M74.8 130.1h.8M73.7 125.6h.8M79.8 130.2h.8M75.7 123h.8M82.7 122.6h.8M76.6 118.9h.8M73.4 129h.8M74.3 132.9h.8M76.4 115.7h.8M65.7 137.1h.8M73.4 141.4h.8M76.1 121.3h.8M78.6 125.7h.8M76.1 119.8h.8M78.9 138h.8M73.7 144.2h.8M73.5 130.4h.8M68.7 110.8h.8M85.5 140.9h.8M81.2 112.9h.8M77.1 131.9h.8M76.4 130.8h.8M71.9 126.7h.8M70.9 125h.8M77.7 121.1h.8M74.8 124.2h.8M76.1 136.4h.8M77.1 131.7h.8M69.6 124.8h.8M79.7 120.4h.8M74.1 119.4h.8M82 124h.8M72.8 133.6h.8M81 132.5h.8M80.5 130h.8M75.5 124.1h.8M73.8 122.7h.8M77.7 127.1h.8M76.4 133.5h.8M75.8 115.8h.8M72.5 118h.8M67.5 129h.8M70.6 116.5h.8M71.2 135.9h.8M74.6 137h.8M75.6 124.1h.8M78.6 133.4h.8M76.5 118.7h.8M74 117.4h.8M74.9 128.9h.8M82.7 140.7h.8M79.1 136.6h.8M77.1 153h.8M82.9 151.8h.8M77.7 131.7h.8M80.7 129.7h.8M77.4 119.1h.8M80.2 129.2h.8M79.7 126h.8M68 132.5h.8M81.2 116.5h.8M71.6 125.3h.8M74.9 112.7h.8M83.9 137.1h.8M73.2 111.7h.8M77.6 145.9h.8M79.7 138.4h.8M71.8 130.1h.8M69.3 145.8h.8M78.6 109.1h.8M67.7 132.3h.8M76.6 125.2h.8M78.8 146.1h.8M77.6 111.8h.8M75.3 116.2h.8M72.4 130.9h.8M75.2 118.4h.8M75.9 120.6h.8M78.4 125.8h.8M77.7 125.5h.8M79.3 126.7h.8M75.9 122.8h.8M76.6 112h.8M88 121.8h.8M76.4 123.6h.8M73.8 131.5h.8M73.7 124h.8M69.7 119.6h.8M70.7 144.1h.8M69.9 118.2h.8M76.8 140.7h.8M68.3 113.9h.8M76.5 130.9h.8M69.6 111.7h.8M71.6 134.6h.8M75.7 134.6h.8M75.4 127.6h.8M78.7 126.8h.8M77 119.6h.8M73.2 132.1h.8M74.8 121.1h.8M78.9 132.7h.8M75.9 121h.8M79.9 150.3h.8M72.2 113.9h.8M72.4 119.4h.8M70.2 117.2h.8M79.7 135.5h.8M82.6 134.5h.8M73.7 137.6h.8M73.1 124.7h.8M70.6 138.8h.8M80.4 123.6h.8M74.5 128.1h.8M76.8 135.4h.8M76.2 131.4h.8M69.1 125h.8M67.8 143.8h.8M82.2 134.2h.8M80.9 145.8h.8M80.1 113.4h.8M74.9 106.6h.8M72.2 116.5h.8M75.8 131.2h.8M71.7 125.2h.8M77.1 126.3h.8M75.1 106.1h.8M73.9 134.8h.8M77 114.4h.8M74.6 130.1h.8M71.5 133.8h.8M72.2 124.7h.8M75.4 147.7h.8M74.4 122.5h.8M79.1 123.4h.8M76.7 107.4h.8M77.2 127.5h.8M70 139.9h.8M74.8 125.9h.8M69.9 113h.8M73.3 114h.8M78 135.5h.8M73 113.2h.8M74.1 118.1h.8M76.6 129.3h.8M73.9 128.3h.8M80.5 143h.8M73.5 134.1h.8M74.8 118.1h.8M81.6 131.2h.8M76.5 130.8h.8M75.1 118.2h.8M83.8 135.7h.8M77 136.3h.8M81.6 125.8h.8M78.5 124.7h.8M78.7 125.3h.8M86.8 124.4h.8M78.1 131.8h.8M74.3 136.1h.8M75.4 123.9h.8M75.8 120.9h.8M81.2 133.3h.8M80.2 115.5h.8M77 120.7h.8M76.2 139.1h.8M77 126h.8M80.9 136.7h.8M84.1 110.9h.8M77.3 123.9h.8M71.9 128.7h.8M70.6 107.5h.8M71.8 125.3h.8M84.2 121.1h.8M70.6 109.8h.8M74.2 125.5h.8M76.5 114.6h.8M72.4 107.2h.8M76.6 113.5h.8M63.5 138.1h.8M78.1 130.8h.8M77.4 118.3h.8M80.6 118.2h.8M84.4 129.7h.8M67.5 135.5h.8M84.7 125.3h.8M80.6 125.7h.8M73 104.4h.8M81.4 123.6h.8M77.5 117.4h.8M71.7 137.7h.8M74.1 124h.8M70.1 129.5h.8M79.3 123.5h.8M75 116.7h.8M87.9 138.1h.8M75.5 151.9h.8M74.9 132.5h.8M69.3 139.6h.8M91 143.1h.8M74.9 146.8h.8M87.2 137.2h.8M88.2 147h.8M80.3 127.6h.8M78.3 150.2h.8M74.5 155.7h.8M77.3 135.7h.8M81.5 143.6h.8M83.5 140.5h.8M87.3 138.5h.8M77.8 134.3h.8M70.3 143.1h.8M71.5 139.1h.8M75.1 143.4h.8M83 146.5h.8M85.1 143.1h.8M72.4 132.3h.8M74 137h.8M62.1 151.8h.8M62 144h.8M81.3 140.4h.8M97.7 142h.8M70.6 152.5h.8M70.3 133.2h.8M68.7 138h.8M77.2 143.9h.8M64.5 144h.8M94.9 137.5h.8M75.8 146.1h.8M86.6 137.8h.8M69 135.7h.8M85.7 147.3h.8M59.3 128.8h.8M66.8 132.7h.8M80.1 143.2h.8M92.7 146.7h.8M77.8 149.1h.8M69.6 133.4h.8M77.1 147.6h.8M63.7 147.3h.8M83.8 138.8h.8M78.2 140.2h.8M77.5 146.8h.8M70.3 148.2h.8M83.9 147.4h.8M60.8 130.5h.8M82.4 138.3h.8M71.2 137.2h.8M65.9 140.1h.8M71 137.9h.8M80.7 134.7h.8M86 128.3h.8M97.2 133.6h.8M81.6 147.4h.8M76.8 146.4h.8M75.9 131.1h.8M79.6 148.8h.8M72.3 131.5h.8M71.9 143.8h.8M79.3 148.6h.8M81.4 145h.8M60.5 155.5h.8M77.2 147.1h.8M74 140.9h.8M77.3 151.5h.8M89.2 145.6h.8M93 139.5h.8M81.1 139.1h.8M87.4 142.1h.8M84.8 152.4h.8M60 155.2h.8M79.5 139.9h.8M61.2 140.1h.8M58.1 142.4h.8M75.5 153.1h.8M74.2 148.5h.8M86.4 154.6h.8M74.9 146.6h.8M64.5 135.1h.8M74.7 141.8h.8M67 139.4h.8M82.7 139.1h.8M75.7 136.5h.8M88.2 152.9h.8M78.6 141.2h.8M90.6 144.9h.8M71.4 133.7h.8M72.1 155.5h.8M76.9 140.6h.8M87.8 140.5h.8M80.1 135.6h.8M66.7 137.4h.8M78.8 137.9h.8M60.9 144.9h.8M75.6 140.3h.8M71.9 128.1h.8M90 139h.8M81.3 150.6h.8M86.2 143.2h.8M77.1 143.9h.8M84.4 145.6h.8M73.3 144.8h.8M80.1 146.3h.8M78.7 150.4h.8M78.6 147.5h.8M77.3 138.5h.8M69.2 141h.8M81.4 149.8h.8M76.3 138.8h.8M72.8 149.9h.8M77.9 138.9h.8M83.1 133.9h.8M77.9 141.7h.8M75.9 134.9h.8M85 152.3h.8M66.1 142.7h.8M82.3 155.9h.8M73.6 136.2h.8M77 154.4h.8M77.6 143.6h.8M91.6 128.9h.8M59.2 147.6h.8M83.4 133.5h.8M81.2 142.3h.8M78.8 137h.8M73.3 136.6h.8M77.4 140.6h.8M90.8 145.9h.8M64.1 144.6h.8M88.7 143.7h.8M85.9 141.8h.8M82.8 136.2h.8M83.5 133.5h.8M87.6 132.7h.8M59.6 145.3h.8M75.6 142.7h.8M80.5 141.8h.8M69.7 143.3h.8M79.8 145h.8M93.3 137.5h.8M77.6 145.4h.8M73.3 134.6h.8M72.3 148.5h.8M74.8 145.8h.8M71 144.7h.8M71.5 136.8h.8M77.9 142.3h.8M89.1 132h.8M81.2 151.9h.8M88.2 139.6h.8M71.4 139h.8M79.5 143.2h.8M79.9 145.7h.8M68.2 135.1h.8M66.9 133.7h.8M76.2 143.9h.8M97.8 145.3h.8M77.1 150.7h.8M71 144.1h.8M85 146.8h.8M80.3 139.9h.8M66.8 141.1h.8M72.1 146.2h.8M75.9 145.5h.8M63.8 148h.8M70 132.4h.8M65.7 138.1h.8M86.2 146.4h.8M67.4 142.5h.8M76.1 132.4h.8M68.9 129.5h.8M69.9 125.7h.8M70.5 136.2h.8M70.5 136.9h.8M86.5 139.9h.8M79 146.6h.8M84.4 146.2h.8M72.5 135.3h.8M70.6 139.1h.8M77 141.5h.8M86 141.4h.8M91.7 148.3h.8M73.1 147.3h.8M53.5 150.5h.8M80.4 144.4h.8M63.2 157.5h.8M74.9 141.1h.8M86.2 140.8h.8M70 146h.8M68.7 146.6h.8M78.1 148.9h.8M67.1 149.6h.8M79.4 154.1h.8M71.7 153.4h.8M82.8 146.8h.8M71 145.4h.8M82.5 136.9h.8M67.5 137.3h.8M89 143h.8M84.7 143.8h.8M78 143.4h.8M73.6 149.5h.8M78.4 143.4h.8M65.7 143.9h.8M71.5 138.9h.8M85.5 135.3h.8M75.4 145.9h.8M86.4 138.8h.8M79.6 143.8h.8M67.8 128.9h.8M61.2 145.7h.8M77.8 133.8h.8M71.8 139.5h.8M74.1 141.8h.8M95 137.2h.8M78.2 137.3h.8M71.9 136.6h.8M75.1 138.6h.8M79.8 143.3h.8M69.7 153.8h.8M67.4 144.2h.8M94.7 137.6h.8M87.8 150.7h.8M79.8 130.7h.8M88.6 142.6h.8M72.5 149.8h.8M71.1 148.5h.8M72.5 145.3h.8M68.2 139.6h.8M69.5 137.6h.8M78.5 140.9h.8M78.5 149.9h.8M76.1 130.6h.8M74.6 142.5h.8M85.3 148.3h.8M84.8 140.6h.8M82.3 133.2h.8M87.6 144.7h.8M81.1 139.7h.8M77.4 137.9h.8M81.6 133.9h.8M84.9 145.3h.8M93.5 141.8h.8M76.2 143.2h.8M77.3 141.3h.8M68 135.2h.8M72.4 140.2h.8M67.3 134.9h.8M74.7 146.5h.8M75.4 146.2h.8M84.9 146.7h.8M73.6 139.5h.8M61.8 137.8h.8M80.8 135.3h.8M88.1 150.8h.8M74 147.6h.8M65.4 135.6h.8M74 142.1h.8M75.5 136.7h.8M93.1 143.8h.8M79.3 146.2h.8M78.4 140.6h.8M72.5 132h.8M89.2 136.4h.8M63.4 137.1h.8M63.9 154.2h.8M80 150.6h.8M88.9 145.5h.8M81.7 137.6h.8M76.3 138.3h.8M77.3 137.7h.8M87.3 146.7h.8M76.1 131.8h.8M82.6 147.4h.8M76.4 134.3h.8M80.5 148.4h.8M61.3 145.5h.8M62.2 142.5h.8M91.3 142.6h.8M80.9 140h.8M76.9 156.4h.8M87.9 140.1h.8M73.9 142.1h.8M94.9 143.3h.8M86.1 139.8h.8M66.6 150.1h.8M76.4 137.2h.8M71.4 137.9h.8M72.1 132.6h.8M86.8 144.3h.8M84.9 139.9h.8M79.8 143h.8M86.6 147h.8M79.9 138h.8" stroke="#000" stroke-opacity="0.3" stroke-width="0.75" fill="none"/>
<path d="M79.4 154.7h.8M79.3 147.5h.8M63.7 154.4h.8M81.4 148.4h.8M76.6 147.3h.8M84.4 141.7h.8M86.6 148h.8M78 140.4h.8M75.1 150.5h.8M68.1 140.6h.8M78.8 143h.8M81.7 141.9h.8M87 143.5h.8M77.2 149h.8M71.1 153.3h.8M78.4 150h.8M66.3 139h.8M59.3 146.9h.8M75.8 151.4h.8M86.9 146.5h.8M75.5 150.1h.8M87.2 143.7h.8M81.3 146.6h.8M75.1 151.9h.8M72.1 142.5h.8M81.6 147.7h.8M75.5 147.1h.8M80.5 146h.8M82.2 149.9h.8M86.9 154.2h.8M82.8 146.8h.8M78 144.9h.8M95.8 146.7h.8M80.9 154.6h.8M69 145.2h.8M85.7 151.5h.8M66.5 151.3h.8M80.1 142.4h.8M73.9 142.9h.8M80.3 149.7h.8M74.6 158.1h.8M79.6 148.2h.8M74 146.8h.8M69.6 140.9h.8M76.6 139.6h.8M82.8 153.4h.8M54.9 140.1h.8M79.1 148.9h.8M78 150h.8M82.2 152.2h.8M89 148h.8M82.9 139.7h.8M76.5 141.8h.8M80.8 141.4h.8M76.6 148h.8M78.6 153.3h.8M83.5 134.6h.8M86.2 145.4h.8M73.7 155h.8M75.6 141h.8M68.7 148.2h.8M83.2 155.4h.8M76.2 145.5h.8M87.9 145.6h.8M86.8 149.1h.8M78.9 146.7h.8M79.3 145.6h.8M73.1 149.4h.8M77.9 146.6h.8M76.1 146.7h.8M88.7 147.8h.8M73.5 146.4h.8M81.7 146.9h.8M76.4 146.6h.8M78.4 149.8h.8M80.2 139.7h.8M70.4 134.7h.8M84.8 147.7h.8M76.6 140.2h.8M72.3 144.9h.8M83.3 156.2h.8M74.3 149.7h.8M79.1 144h.8M68 146.3h.8M76.2 150.3h.8M71.3 152.3h.8M79.9 143.9h.8M67 151.1h.8M73 151.8h.8M82.3 147.8h.8M77.3 152.8h.8M79.8 143.2h.8M78.6 148.8h.8M71.3 140.7h.8M84.6 144.7h.8M78.8 140.4h.8M78.3 143.7h.8M96.5 142.8h.8M71.1 152.6h.8M79 152.2h.8M73.9 142.9h.8M75 145.6h.8M82.8 147.5h.8M85.9 146.5h.8M79.6 148.3h.8M76.6 156.2h.8M72.9 145.1h.8M75.1 150.7h.8M79.9 152.5h.8M68.7 149.1h.8M76.2 146.4h.8M78.4 138.1h.8M79.1 148.6h.8M81.1 146.7h.8M74.8 154.3h.8M82.6 144.4h.8M83.7 147.2h.8M72.9 150h.8M71.4 140.1h.8M85.6 138.8h.8M80.8 140.3h.8M74.5 137h.8M76.6 147.7h.8M71.5 147.5h.8M83.7 144.3h.8M79 142.2h.8M79.8 151h.8M80.1 154.8h.8M70.9 153.2h.8M84.4 149h.8M85.8 140.7h.8M79.1 145.3h.8M75.6 138.5h.8M83.4 148.9h.8M71.8 154.8h.8M76.7 146.3h.8M80.5 148h.8M78.9 151.6h.8M79.5 152.2h.8M69.8 148.2h.8M75.1 148.5h.8M77.2 144.8h.8M75.2 152.6h.8M73.9 141.8h.8M81.2 152.7h.8M75.7 148.6h.8M72.1 147h.8M84.5 151.9h.8M78.4 146.6h.8M67.1 149.5h.8M80.4 153.1h.8M90.3 149.8h.8M83.6 142.5h.8M85.2 152.2h.8M86.2 151.3h.8M80.4 155.2h.8M73.3 151.2h.8M84.4 144.2h.8M70.2 150.1h.8M78.3 151h.8M75.3 146.7h.8M70.4 152h.8M89.9 141.4h.8M82.4 152.5h.8M74 146.2h.8M71 144.2h.8M78.6 151.2h.8M78.3 152.2h.8M86.8 153.9h.8M73.1 156.7h.8M80.6 148.7h.8M89.8 135.9h.8M67.5 151.6h.8M87.2 150.5h.8M83 156.8h.8M76.6 140.3h.8M74.3 156h.8M80.9 151.9h.8M81.5 149.9h.8M83.9 142.5h.8M75.4 152.3h.8M73.1 146h.8M85.4 155.6h.8M81.4 149.5h.8M81.3 148.6h.8M82.9 153.2h.8M96.5 153.6h.8M73.2 149.8h.8M79.4 149.4h.8M83 140.4h.8M83 148.3h.8M88.4 139.8h.8M72.3 151.4h.8M73.9 146.2h.8M63.6 146.1h.8M79.1 151.5h.8M76 149.3h.8M73 157.8h.8M72.4 154.3h.8M78.2 155.4h.8M79.9 147.1h.8M77.3 146.3h.8M82.6 147.8h.8M86.3 150.2h.8M83.2 144.5h.8M75.3 153.2h.8M68.7 150h.8M78.4 145.8h.8M78.4 143h.8M69.7 155.1h.8M73.3 137.9h.8M84 144.4h.8M55.3 147.9h.8M83.7 150h.8M81.6 143.3h.8M81 149h.8M65.2 146.4h.8M73.1 150h.8M71.4 157.5h.8M70.3 148.9h.8M94.6 149.3h.8M72.2 151.3h.8M84.1 152.5h.8M65.2 149.3h.8M64.2 157.6h.8M82.1 150.6h.8M70.2 156.2h.8M76.3 139.6h.8M86.8 155.8h.8M85.9 150.9h.8M72.1 152.9h.8M89.8 152.3h.8M84.4 152.9h.8M68.2 140.2h.8M73.2 148.7h.8M80.7 147.1h.8M77.4 147.7h.8M78.4 151.1h.8M81 148h.8M79.5 146h.8M83 145.8h.8M79.6 144.5h.8M75.6 149.1h.8M70.4 148.5h.8M78.8 151h.8M85.9 146.7h.8M65 147.6h.8M65.9 141.9h.8M73.7 145.1h.8M77.3 139.6h.8M81 146.5h.8M89.7 143h.8M84.3 144.9h.8M84.5 143.4h.8M82.6 146.1h.8M72.5 147.5h.8M80.9 150.3h.8M88.1 152.4h.8M60.8 146.3h.8M65 146.4h.8M81.9 141.6h.8M70.2 149h.8M76 156.2h.8M80 150.9h.8M89.2 145.8h.8M79.5 153.4h.8M86.7 148.1h.8M73.3 144.5h.8M68.8 148.9h.8M86.7 136.5h.8M63.8 155.3h.8M67.4 149.9h.8M69.7 152.2h.8M83 149.1h.8M72.7 147.1h.8M76.4 148.7h.8M74 151.6h.8M78 151.4h.8M70.2 156.2h.8M80.2 150.6h.8M81.9 153.8h.8M82.7 149.5h.8M76.8 140.1h.8M79.4 146.8h.8M65.9 148.6h.8M86 142h.8M71.7 151.5h.8M79.5 149.4h.8M80.9 147h.8M78.8 145h.8M77.8 146h.8M68.3 150.7h.8M79.5 143.6h.8M76.6 143.2h.8M89.2 144.3h.8M80.8 147.1h.8M87.2 149.1h.8M78.6 154.4h.8M71.8 148.5h.8M73 155h.8M89.8 148h.8M84.8 151h.8M76.7 155.8h.8M79.6 139.6h.8M80.3 148.2h.8M90.3 148.4h.8M76.8 150.6h.8M79.7 141.4h.8M78.9 146.8h.8M70.8 143.6h.8M72.6 145.2h.8M73.6 148.7h.8M85.2 142h.8M68.1 139.3h.8M85.3 155.1h.8M68.1 140.3h.8M79 153.9h.8M84.7 149.4h.8M82.5 150.1h.8M74.5 158h.8M78.1 142.9h.8M75.1 140.8h.8M78.2 154h.8M69.9 154.1h.8M70.6 144.2h.8M75.9 142.1h.8M70 147.2h.8M76.9 151.5h.8M85 152.9h.8M73.9 157.2h.8M75.9 157.6h.8M75.2 157.8h.8M84.6 147.7h.8M79.4 149.5h.8M73.1 147.5h.8M81.2 143.7h.8M82.8 149h.8M83.1 152.9h.8M81.8 144h.8M76.5 152.2h.8M77.8 150.7h.8M71.2 155.3h.8M74.4 150.5h.8M78 153.1h.8M65.8 146.9h.8M70.3 151.2h.8M87.5 137.3h.8M86.2 150h.8M81.9 156.7h.8M75 149.5h.8M72.8 147.2h.8M74.7 145h.8M71 144.9h.8M79.8 155.9h.8M81.3 137.7h.8M80.6 144.2h.8M69.3 143.1h.8M89.8 140.5h.8M74.1 154.3h.8M82.5 139.9h.8M77.4 145.9h.8M74.3 146.9h.8M87.7 139.2h.8M75.7 150.8h.8M69.9 145.3h.8M69.5 149.2h.8M74 152.4h.8M84.8 148.7h.8M75.6 149.8h.8M85.1 149.6h.8M82.1 141.1h.8M78.3 148.2h.8M79.5 147.3h.8M81.3 146.1h.8M79.6 145h.8M74.9 151.8h.8M72.3 146.6h.8M76.5 154.7h.8M73 154.6h.8M84.1 151.9h.8M71.4 142.3h.8M83.8 142.1h.8M81.9 145.8h.8M88.2 152.7h.8M69 150h.8M78.4 147.9h.8M86.8 139.7h.8M73.1 157.1h.8M69.7 148.6h.8M68.6 143.5h.8M83.2 153.2h.8M63.6 149.5h.8M74.6 154.3h.8M82.7 152.5h.8M71.2 148.8h.8M69.9 152.9h.8M70.2 147.3h.8M81 145.5h.8M87.2 145.1h.8M61.9 143.4h.8M74.8 150.3h.8M73.2 151.2h.8M70 152.6h.8M58.2 138.8h.8M90 149.2h.8M84.9 154.1h.8M75.2 151.5h.8M81.3 139.9h.8M86.5 155h.8M73.7 145.3h.8M79.2 151.7h.8M75.2 147.8h.8M82 150.5h.8M85.7 149.6h.8M72.1 139.4h.8M83.3 146.6h.8M75.6 146.9h.8M60.7 146.3h.8M72 157.7h.8M80.9 147.2h.8M79 152.1h.8M72.9 147.2h.8M78.4 138.3h.8M77.5 153.5h.8M74.2 146.9h.8M69.7 142.9h.8M63.6 154.2h.8M70.3 150.2h.8M80.1 145h.8M78.2 147.8h.8M74.6 148.6h.8M78.2 143.1h.8M69.2 143.9h.8M78.7 155.4h.8M87.7 149.9h.8M84.2 148.9h.8M85.3 149h.8M80.5 146.8h.8M69.9 148.3h.8M73.9 153.2h.8M90.1 146.7h.8M59.3 151.5h.8M82 139.6h.8M76.2 147.9h.8M62.3 151.8h.8M80.8 149.5h.8M70.7 144.6h.8M73.6 150.8h.8M80.4 137h.8M89.2 149.1h.8M74.1 148.8h.8M65.5 149.2h.8M61.3 143h.8M87 154.8h.8M75.5 143.2h.8M79.2 151.5h.8M63.5 155.8h.8M67.2 145h.8M73.3 152h.8M82.8 150.1h.8M81.5 150.7h.8M62.2 136.2h.8M77.4 147h.8M76.8 149.4h.8M76.2 143h.8M67.6 138.3h.8M68.6 146.8h.8M85.6 139.1h.8M72.8 148h.8M83.6 149.2h.8M71.2 152.7h.8M82 145.5h.8M74.8 140.5h.8M77.2 152.7h.8M84.5 151.2h.8M83.3 145.1h.8M74.5 154.4h.8M80.8 144h.8M82.5 148.7h.8M74.2 150.2h.8M89.2 148.9h.8M73.1 149.9h.8M69.3 149.3h.8M75.6 153.1h.8M93.3 147h.8M72 150.5h.8M73.6 151h.8M78.1 136.9h.8M85.6 145.1h.8M73.5 148.7h.8M80.8 152h.8M77.7 142.3h.8M84.5 145.9h.8M74.1 158.5h.8M83.6 142.6h.8M72.6 138.1h.8M83.1 152.1h.8M79.3 146h.8M70.6 146.4h.8M73.9 151.7h.8M79.4 141.4h.8M73.5 157.3h.8M71.1 148.9h.8M73.4 154.6h.8M77.2 145.8h.8M83.2 151.6h.8M68.7 156.2h.8M75.9 142.6h.8M78.5 144.9h.8M73.7 144.8h.8M77 145.5h.8M66.1 150.8h.8M74.1 154.3h.8M78.8 154.8h.8M79.9 134h.8M75.1 149.2h.8M74.8 154.6h.8M82.3 148.6h.8M74.9 153.7h.8M82.6 151.1h.8M91.2 146.9h.8" stroke="#000" stroke-opacity="0.6" stroke-width="0.8" fill="none"/>
<path d="M81 149.9h.8M74.5 150.8h.8M86 156.3h.8M71.7 149.1h.8M70.9 147.3h.8M78.2 147.1h.8M72.2 150h.8M79.4 149h.8M75.3 153.4h.8M78.4 151.7h.8M77 148.4h.8M80.6 152.6h.8M72.7 155h.8M72.2 154.5h.8M76.9 147.6h.8M71.9 149.9h.8M76.1 148.2h.8M78.1 145.8h.8M69.1 152.1h.8M73.9 149.9h.8M82.6 154.3h.8M81.1 154.1h.8M77.6 148.5h.8M79.2 153.2h.8M77.2 149.6h.8M70.4 153.2h.8M77.3 146.2h.8M80.4 154.5h.8M82.7 146.8h.8M74.6 147.3h.8M81.3 152.9h.8M73.9 153h.8M76.2 153.3h.8M77.6 151.2h.8M74.6 150.6h.8M76 153.7h.8M77 153.1h.8M82.1 148.1h.8M76.7 145.2h.8M75.6 149.7h.8M73.2 150.1h.8M76.9 145.1h.8M77 148.1h.8M77.1 156.2h.8M74 148.6h.8M74 149.6h.8M71.7 152.7h.8M72.5 148.9h.8M73.7 152.9h.8M69 149.7h.8M74.7 147h.8M69.5 148.1h.8M75 149.7h.8M74.6 148.4h.8M72.8 154.3h.8M77 149.9h.8M73 153.1h.8M70.6 152.9h.8M72.9 151.9h.8M81.8 151.5h.8M73.8 150.5h.8M74.4 146.8h.8M71.9 150.9h.8M77.7 144.5h.8M76 151.9h.8M76.3 147.1h.8M79.8 146.1h.8M68.2 151.9h.8M77.4 150.8h.8M73 149.6h.8M70.7 151.2h.8M78 148h.8M72.3 149.1h.8M76.1 150.4h.8M70.1 142.2h.8M77.6 153.1h.8M76 151.5h.8M77.6 148.7h.8M79.8 148.6h.8M74.4 150.9h.8M70.2 155.7h.8M78.4 149.9h.8M70.3 150h.8M74.6 152.3h.8M69.6 148h.8M78.6 149.3h.8M73.7 148.5h.8M68.3 155.3h.8M76 153.8h.8M72.4 151.2h.8M82.4 148.5h.8M78.5 150.1h.8M72.6 151.6h.8M69.7 148.2h.8M78.4 148.1h.8M76.5 149h.8M68.5 151.4h.8M76.1 150.7h.8M75.9 150.1h.8M76.2 154.4h.8M75.8 148.6h.8M72.9 150.4h.8M76.3 154.6h.8M77.4 152h.8M77.7 148.6h.8M71.2 153.2h.8M76.2 151.2h.8M78.2 149h.8M66.8 151.5h.8M79.1 152h.8M73.2 147h.8M71.5 144h.8M75.9 148.2h.8M78.3 155.1h.8M80.8 154.8h.8M76.4 151.1h.8M74 148.2h.8M79.1 148.9h.8M71.8 154h.8M75 154.6h.8M78.1 149.9h.8M77.5 151.3h.8M72.5 152.4h.8M75.4 150.9h.8M74.7 153.5h.8M74.9 147.8h.8M77.6 146.6h.8M72.9 153h.8M69.4 153.4h.8M74.5 147.7h.8M77.4 152.2h.8M74 150.1h.8M79.5 152.3h.8M75.9 148.1h.8M72.6 148.9h.8M75.1 149.4h.8M68.7 152h.8M78 150.4h.8M85.5 153h.8M79 147.4h.8M78.1 149.1h.8M76.6 151h.8M80.8 153.3h.8M75.5 149.1h.8M78.6 147.8h.8M73 150.9h.8M71 151h.8M79.7 148.4h.8M78.6 150.9h.8M74.6 149.1h.8M69.9 149h.8M74.1 155.7h.8M79.9 146h.8M79.5 150.8h.8M75.2 152h.8M75.5 151.1h.8M72.9 151.4h.8M73.4 151.7h.8M79.8 151.1h.8M77.3 152.2h.8M80.6 147.4h.8M75.8 148.8h.8M80.8 150.3h.8M75.6 150.2h.8M78.1 146.9h.8M74.9 152.9h.8M71.6 149.9h.8M73.5 152.4h.8M74.8 150.8h.8M78 148.1h.8M75.5 150.3h.8M83.1 150.4h.8M76.4 148.3h.8M80.5 150.7h.8M76.8 146.9h.8M79.2 147.9h.8M72.3 152.9h.8M70.2 156h.8M81.5 146.2h.8M82.7 150.4h.8M75.7 150.3h.8M75.9 154.9h.8M76.5 145h.8M72.3 149.8h.8M74 148.3h.8M79.6 149.9h.8M84.6 147.3h.8M79.4 150.4h.8M74.1 154.8h.8M76.7 147.8h.8M75.6 153.6h.8M72.4 155.1h.8M79 149.4h.8M83.8 154.3h.8M75.6 149.4h.8M71.2 153.7h.8M76.8 150.8h.8M76.8 146.2h.8M75.8 148.4h.8M81.8 152.2h.8M79 155.8h.8M82.1 152.1h.8M74 149.9h.8M72 148.9h.8M80.2 153h.8M74.2 145.1h.8M73.5 148.1h.8M70.1 153.2h.8M77.8 157.2h.8M75.9 149.2h.8M74.1 153.3h.8M77.3 148.9h.8M73.4 154h.8M83.4 148.5h.8M79 155.6h.8M74.1 150h.8M71.9 150.5h.8M71.1 148.1h.8M73.5 152.8h.8M78.4 148h.8M74.3 152.7h.8M77.4 150.3h.8M73 154.1h.8M79.5 146.2h.8M83.7 146.3h.8M79.6 152h.8M78.5 154.6h.8M87.3 150h.8M72.4 151.2h.8M72 150.1h.8M74.9 142.6h.8M76.6 151.4h.8M72.6 150.7h.8M80.8 153.4h.8M78.4 149h.8M77 148.1h.8M80.8 145.9h.8M75.6 146.7h.8M69.9 151.7h.8M86.4 154.4h.8M76.6 149.3h.8M77.6 153.6h.8M70.2 145.2h.8M83.9 150.6h.8M82.8 150.6h.8M82.3 152.6h.8M79 148.8h.8M67 154.7h.8M80.1 151.7h.8M80.7 152.6h.8M77.4 149.1h.8M80.5 152.4h.8M72.2 152.4h.8M81.8 154.6h.8M67.5 149.2h.8M81.6 151.8h.8M74.7 151h.8M80.4 149.5h.8M79.6 145.1h.8M78.2 149.2h.8M72.6 152.2h.8M84.2 149.4h.8M79.3 154.1h.8M80.6 152.8h.8M78.8 153.5h.8M74.7 153.1h.8M74 152h.8M72.1 150.5h.8M75 150.3h.8M77 149.9h.8M75 144h.8M80.7 148.1h.8M75.3 148h.8M78.9 154.1h.8M83.4 153.6h.8M82 153.8h.8M80.1 152.7h.8M81.2 154.1h.8M77.8 153.2h.8M80.9 152.9h.8M80.6 155.6h.8M74.9 153.7h.8M78.6 152.4h.8M71.4 153h.8M77.3 152.8h.8M77.9 152.6h.8M82.1 150.6h.8M80.1 154.1h.8M76.5 153.1h.8M77.2 148.5h.8M84.1 149.7h.8M76.4 148.6h.8M73.1 150.8h.8M73.9 155h.8M72.1 150.8h.8M73.5 146.5h.8M82.5 143.4h.8M81.9 145.6h.8M77.7 157.6h.8M67.9 147.1h.8M81.8 150.6h.8M74.5 150.7h.8M82.4 148.8h.8M77.6 154.3h.8M84.2 148h.8M77.6 148.7h.8M74.5 150.3h.8M76.2 150.5h.8M83.9 148.8h.8M84 148.8h.8M80.1 153.2h.8M82.8 150h.8M76.1 149.7h.8M83.1 147.5h.8M75.9 148.9h.8M76 153h.8M78.7 148.1h.8M76.2 150.9h.8M75 150.6h.8M76.5 147.4h.8M78.2 149.8h.8M72.9 149h.8M73.7 155.4h.8M80.4 151.2h.8M75.7 151h.8M87.3 152.6h.8M79.7 157.3h.8M86.9 150.5h.8M77.5 154.8h.8M74.7 150.8h.8M73.6 151h.8M75.3 152.4h.8M75.9 148.8h.8M75.4 150.3h.8M74.9 153.7h.8M72.2 152.6h.8M71.8 151.6h.8M73.2 148.8h.8M78.6 153.7h.8M71.6 147.7h.8M89.4 149.2h.8M75.6 151.2h.8M80.1 146.5h.8M77.7 150.4h.8M74.3 148.1h.8M67.6 154.5h.8M70.9 149.9h.8M82.9 148.7h.8M79.3 150.4h.8M75.1 154.9h.8M75.2 146.6h.8M74.4 152.8h.8M77.1 151.8h.8M74.1 149.4h.8M78 152.2h.8M79.4 153.4h.8M80.6 144.6h.8M74.6 150.3h.8M77.5 154.4h.8M75.2 149.7h.8M80.2 151.7h.8M82.1 151.2h.8M73 150.9h.8M66.6 152.8h.8M76.1 154h.8M85.2 151.9h.8M80.3 151.7h.8M77.7 151.3h.8M77.2 153.9h.8M70.4 150.4h.8M78.9 147.8h.8M76 148.5h.8M78.6 153h.8M82.3 151.5h.8M74 151.6h.8M69.9 153.4h.8M78.5 151.9h.8M81.1 149.8h.8M76.4 146.9h.8M80.9 148.6h.8M73.3 150.1h.8M83 157h.8M78.3 149.4h.8M73 152.1h.8M79.3 153.2h.8M73.6 145.8h.8M79.7 156.6h.8M75.5 145.2h.8M71.7 146.1h.8M77.4 152.7h.8M72.2 150h.8M73.3 147.3h.8M71.6 151.5h.8M67.2 156.9h.8M73 150.5h.8M72.4 152.1h.8M70.9 151.4h.8M76.1 153.4h.8M72.2 149h.8M76.3 157h.8M74.2 151.7h.8M79.1 150.7h.8M77.6 151.3h.8M74.3 150.1h.8M79.5 151.4h.8M78.7 153.7h.8M67.6 152.7h.8M71.7 152.7h.8M81.2 153.2h.8M76.4 152.5h.8M76.9 151h.8M79.2 148.1h.8M68.9 153.7h.8M74.5 156.9h.8M75.1 153.6h.8M83.3 147.9h.8M76.6 148h.8M80.4 149.1h.8M72.7 154.9h.8M73.2 151.2h.8M79.7 148.2h.8M76.3 142.8h.8M77.8 154.5h.8M78.1 148.1h.8M70.8 154.6h.8M75.2 148.2h.8M72.5 146.4h.8M80.9 144.7h.8M78 157.1h.8M83.7 151.7h.8M78.6 144.7h.8M75.4 146.4h.8M80.7 151.4h.8M77.4 148.3h.8M78 151.8h.8M78.5 156.6h.8M76.9 146.4h.8M79.8 150.7h.8M70.6 148.9h.8M69.5 150h.8M75.2 144.6h.8M79.1 149.3h.8M80.6 150.6h.8M76 152.1h.8M79.5 150.9h.8M74.5 148.2h.8M74.9 148.9h.8M77.3 150.9h.8M77.6 155.2h.8M67.1 152h.8M80.7 147.2h.8M78.3 149.1h.8M77.3 147.9h.8M75.5 150.2h.8M78.9 150.1h.8M74.5 147.3h.8M74.6 149.3h.8M74.4 149.4h.8M77.8 152h.8M73.4 147.6h.8M78.7 150.2h.8M74.6 152.4h.8M76.3 155.6h.8M70.3 150.5h.8M70.8 150.8h.8M66.6 146.3h.8M78 151.6h.8M81 152.1h.8M78.9 147.1h.8M85.4 152.1h.8M84.2 143.1h.8M77.2 144.9h.8M75.1 151.1h.8M73.3 150.4h.8M71.5 153.1h.8M74.7 149.6h.8M81 150.3h.8M69.1 152.7h.8M65.1 152.4h.8M76.6 149.4h.8M73.7 148.1h.8M81.5 149.5h.8M82.7 149.6h.8M81.8 150.9h.8M74.4 149.4h.8M73.2 144.2h.8M71.2 149.8h.8M70.4 149.9h.8M74.8 152.5h.8M81.6 149.3h.8M73.6 157h.8M80.6 152.2h.8M79.2 147.4h.8M76.8 150.4h.8M77.6 150.4h.8M73.1 152.4h.8M68.7 147.3h.8M74.5 155.8h.8M72.9 149.7h.8M77.1 143.7h.8M65.3 153.7h.8M80.5 153.1h.8M80.6 147.9h.8M75.4 153.6h.8M73.2 146.5h.8M75.5 153.8h.8M78.5 152.4h.8M76.3 154.5h.8M79.7 142h.8M75.8 155.2h.8M78.6 150h.8M73.6 151.5h.8M78.9 151.9h.8M71.8 150.1h.8M72.3 152.6h.8M80.3 148.2h.8M73.3 148.4h.8M86.4 151h.8M76.4 153.6h.8M85.9 153.2h.8M70.6 150.7h.8M74.6 149.5h.8M76.1 145.9h.8M74.1 148.2h.8M74.4 148.4h.8M75.5 150.3h.8M75.9 151h.8M76.9 147.2h.8M69.1 148.9h.8M80.4 148.1h.8M73.4 153.2h.8M80.9 148.4h.8" stroke="#000" stroke-opacity="0.9" stroke-width="0.8" fill="none"/>
</g>
<rect x="38.7" y="99.2" width="71.8" height="60.4" fill="none" stroke="#6a6a6a" stroke-width="1"/>
<line x1="103.8" y1="104.5" x2="103.8" y2="151" stroke="#7a7a7a" stroke-width=".9"/>
<line x1="38.7" y1="133.4" x2="110.5" y2="133.4" stroke="#7a7a7a" stroke-width=".9"/>
<text transform="translate(40.3 104.2) scale(1 0.64)" font-size="7.6" text-anchor="start" stroke="#000" stroke-width="0.6">8.84</text>
<text transform="translate(109.9 104.2) scale(1 0.64)" font-size="7.6" text-anchor="end" stroke="#000" stroke-width="0.6">0.00</text>
<text transform="translate(40.3 158.8) scale(1 0.64)" font-size="7.6" text-anchor="start" stroke="#000" stroke-width="0.6">91.16</text>
<text transform="translate(109.9 158.8) scale(1 0.64)" font-size="7.6" text-anchor="end" stroke="#000" stroke-width="0.6">0.00</text>
<g filter="url(#soft)">
<path d="M158.2 105.3h.8M159 124.8h.8M155.2 110.8h.8M153 122h.8M154.3 106h.8M160.2 111.9h.8M153.1 127.4h.8M161.5 103.5h.8M151.4 106.1h.8M158.4 110.4h.8M159.8 107.9h.8M161.8 128.4h.8M155.9 130h.8M154.7 128.4h.8M152.3 115.4h.8M160.7 121.9h.8M157 119.8h.8M155.8 122.2h.8M155.9 121.3h.8M158.4 131.5h.8M157.6 122.4h.8M161.7 102.1h.8M149.7 125.8h.8M160.5 119.4h.8M155.5 127h.8M157.2 112.1h.8M156.3 107.9h.8M157.1 117.7h.8M160.2 108.5h.8M158.3 120.4h.8M152.3 119h.8M157.2 123.8h.8M157.1 101.8h.8M158.8 127h.8M157.6 105h.8M157.2 116.7h.8M161.2 114.8h.8M153.5 133.4h.8M165.3 127.3h.8M155.4 131.1h.8M153.7 109.8h.8M160.3 117.5h.8M161.3 129.9h.8M162 129.3h.8M162.7 120.6h.8M159.2 117.6h.8M157.7 109.3h.8M158.8 118.5h.8M157.5 129.6h.8M155.5 124.7h.8M163.3 128.1h.8M164 120.9h.8M157.5 104.2h.8M156.7 107.2h.8M155.7 114.9h.8M151.4 130.3h.8M155.1 116.7h.8M155.6 131.9h.8M157.4 116.8h.8M153.9 125.2h.8M150.6 123.9h.8M159.8 101.4h.8M163.7 115.3h.8M149.8 119.9h.8M157 133.4h.8M160.6 127.9h.8M153.3 108.9h.8M152.3 110.7h.8M157.6 117.1h.8M156.7 112.9h.8M155.2 113.1h.8M163.4 119.7h.8M162.9 102.6h.8M159.9 115.1h.8M157.3 103.4h.8M156.3 101.5h.8M160.7 129.1h.8M156.7 103h.8M162.9 122.7h.8M162 126.5h.8M155.4 103.7h.8M160.3 103.6h.8M163.2 102h.8M159.9 129.9h.8M154.2 116.8h.8M156.6 105.9h.8M156.4 133.3h.8M158 121.3h.8M157.7 130.2h.8M156.3 104.2h.8M160.7 120.2h.8M162.5 126h.8M155.6 115.7h.8M152.3 117.3h.8M159 102.7h.8M157.7 108.1h.8M159.2 109.5h.8M155.2 115.6h.8M158.7 101.5h.8M154.4 103.9h.8M161.6 120.4h.8M163.7 133.5h.8M154.3 109.5h.8M148.3 118.4h.8M155.9 117.4h.8M155.8 126.5h.8M158.4 118.6h.8M157.8 117.9h.8M159.5 102.4h.8M167.5 101.5h.8M155.7 115.6h.8M156.4 105.1h.8M159.3 111.5h.8M151.1 105.9h.8M160.6 127.2h.8M155.5 110.7h.8M152.6 122.4h.8M154.7 120.5h.8M159.6 124.1h.8M160.8 110h.8M162.3 106.3h.8M159.3 129.7h.8M155.2 117.3h.8M159.8 124.6h.8M157.5 115.6h.8M166.2 101.9h.8M150.4 105h.8M163.6 105.9h.8M160.6 102h.8M159.3 124.6h.8M157.5 132.7h.8M155.8 114.3h.8M154.3 133h.8M152.2 104.7h.8M165.2 112.5h.8M161.2 120.8h.8M160.2 122.3h.8M159.1 101.9h.8M150.9 130.5h.8M156.8 133.8h.8M158.3 110.7h.8M162 110.8h.8M154.2 121.8h.8M158.8 114.8h.8M157 118.2h.8M158 129.5h.8M155 122.2h.8M159.2 104.9h.8M158.2 111.9h.8M151.1 129.5h.8M162.2 131.8h.8M165.8 111.1h.8M154.7 103.6h.8M162 126.8h.8M154.4 108.2h.8M156 108.4h.8M164.2 114.6h.8M158.6 103.7h.8M163.4 123.4h.8M159 129.3h.8M161.5 112.1h.8M157.3 123.2h.8M163.1 105.4h.8M164.4 112.9h.8M160.4 106.1h.8M155.9 104.4h.8M156.6 110.1h.8M154.5 113.1h.8M160.1 101.8h.8M159.8 122.2h.8M155.4 122.2h.8M161.3 110.5h.8M155.9 115.3h.8M164.5 110h.8M160.9 104.3h.8M163.7 132.5h.8M155.4 131.8h.8M154.4 116.2h.8M151.4 128.1h.8M160.3 117.7h.8M153.9 132.6h.8M162.8 121.2h.8M158.5 129.4h.8M160.7 119.5h.8M153.4 119.5h.8M155.9 121.7h.8M158.7 128.7h.8M160.6 105.1h.8M153.4 124.6h.8M159.2 124.6h.8M155 134h.8M160.9 112.6h.8M157.2 123.7h.8M156.9 113.2h.8M159.6 120.6h.8M162.2 101.3h.8M157.1 128.1h.8M162.4 107.3h.8M154.4 117.1h.8M159 106.4h.8M154 132.2h.8M158.8 124.9h.8M154.7 129.4h.8M158.1 126h.8M160.2 130.6h.8M154.5 122.6h.8M151.7 103.8h.8M157.4 103.3h.8M159.9 125.7h.8M158.8 110.5h.8M154.7 124.6h.8M161 115.4h.8M157 129.1h.8M160.7 112.2h.8M154.8 104h.8M159.6 128.6h.8M162.2 110.9h.8M155.6 114.1h.8M156.9 126.6h.8M160.2 109.3h.8M159.9 132h.8M159.3 101.9h.8M157.5 126.1h.8M152.4 129.2h.8M158 121.6h.8M153.3 107.4h.8M158.3 104.5h.8M149.6 126.4h.8M163.1 125.1h.8M164.8 126.8h.8M159.5 133.3h.8M154.9 121h.8M156.9 132.3h.8M161.1 133.5h.8M160.3 120.4h.8M155.5 126.5h.8M162.2 106.4h.8M160.5 134h.8M159.9 117.4h.8M156.7 117.6h.8M157.9 123.6h.8M155.4 129.2h.8M158.6 110.1h.8M155.6 125.8h.8M162.1 128.5h.8M158.1 114.1h.8M158.7 115.5h.8M159.1 130.1h.8M159.1 112h.8M152.8 127.6h.8M162.5 130.4h.8M158.3 113h.8M156 111.4h.8M154.5 107.2h.8M155.5 107.7h.8M155.7 129.4h.8M158 110.2h.8M154.9 109.9h.8M158.3 122.5h.8M158.4 110.4h.8M155.5 110.3h.8M165.8 131.7h.8M157.5 133.7h.8M159.1 126.2h.8M158.3 126.9h.8M157.3 113.3h.8M160.3 112.5h.8M162.8 128h.8M157.6 118.4h.8M154.8 107.9h.8M159.8 111.7h.8M150.2 125h.8M158.4 113.8h.8M157.2 127.7h.8M159 108.4h.8M152.5 101.1h.8M156.3 105.7h.8M154.2 104.5h.8M155.9 107.2h.8M159.9 133.3h.8M157.1 122.5h.8M155.7 115.3h.8M162 105.7h.8M157.9 127.7h.8M150.6 122.1h.8M154.1 109.7h.8M159.3 116.8h.8M159.4 129h.8M158.6 132.7h.8M158.7 132.4h.8M154.6 120.3h.8M157.4 118.5h.8M153.5 114.8h.8M154.8 101.3h.8M154.5 110.7h.8M154.7 128.2h.8M156.5 112.9h.8M156.9 122.7h.8M154.9 133.4h.8M161.5 127.2h.8M156.1 111.5h.8M163.1 108.8h.8M161.2 131.5h.8M153.4 108h.8M160.8 124.6h.8M152.7 122.1h.8M162.8 119.6h.8M158.8 111.3h.8M154.1 133.1h.8M149.8 126.4h.8M156.2 114.6h.8M152.8 106.4h.8M161.5 114.5h.8M153.2 102.5h.8M156.8 107.1h.8M159.3 108.8h.8M157.6 106.2h.8M158.5 118.7h.8M156.7 105.8h.8M160.1 104h.8M154.2 103.3h.8M159.5 130.2h.8M153.3 103.6h.8M158.1 132.7h.8M153.5 131.7h.8M156.8 117.9h.8M159.6 130.2h.8M161.9 101.8h.8M151.1 125.9h.8M154.8 118.5h.8M154 121.2h.8M161.8 134h.8M154.4 106.3h.8M160 111.2h.8M155.7 123.7h.8M152.4 106.9h.8M157.9 131.4h.8M153.4 106.4h.8M160.1 114h.8M160.4 125.7h.8M162.2 129.6h.8M153.9 127h.8M163.1 128h.8M160.9 114.4h.8M151.1 113.4h.8M165.3 119h.8M163.4 106.8h.8M153.8 118.7h.8M158.6 119.3h.8M152.7 111.6h.8M157 105.8h.8M158.1 104h.8M159.7 112.8h.8M154.5 118.8h.8M157.4 133.5h.8M154.2 107.5h.8M158.8 101.7h.8M159.8 110.9h.8M157.7 116.5h.8M161.5 120.1h.8M160.1 112.1h.8M158.8 131.2h.8M161.6 108.1h.8M153 109.7h.8M157.3 109.5h.8M151.2 132.9h.8M157.4 116.8h.8M155.8 112.6h.8M160.4 102.7h.8M155.9 113.7h.8M155.2 127.5h.8M157.1 128.7h.8M157 132.4h.8M159.3 107.6h.8M154.3 102.3h.8M152.1 106.9h.8M151.8 103.3h.8M161.6 129.5h.8M153 110.5h.8M155.8 128.6h.8M153.5 110.5h.8M160.6 104.4h.8M155.4 110h.8M161.8 121.2h.8M155 133.1h.8M158.5 122h.8M160.2 127.5h.8M160.9 117.9h.8M153.2 131.5h.8M156.2 129.3h.8M157.2 133.6h.8M151 128.9h.8M160 124h.8M158.9 128.4h.8M159.3 130.5h.8M152.5 123.4h.8M158.1 103.6h.8M159 115.5h.8M161.1 132.9h.8M155.6 123.8h.8M159.9 114.2h.8M164.5 130.3h.8M155.9 112.9h.8M156 113.9h.8M156.3 118.7h.8M152.2 123.3h.8M156.2 119.8h.8M163.3 112h.8M154.2 119.6h.8M156.8 112.6h.8M161.7 123.1h.8M159.5 119.4h.8M158.3 104.5h.8M156.3 121.8h.8M157.1 132h.8M157.5 121.6h.8M159.9 103.4h.8M157.8 119.2h.8M160.8 106.4h.8M150.8 114.8h.8M160.4 106.4h.8M155.6 131.3h.8M157.5 126.5h.8M156 119.8h.8M159.8 110.8h.8M157.1 104.4h.8M159.7 124.4h.8M154.6 109h.8M158.2 131h.8M161.9 130h.8M161.5 106.4h.8M156.2 133.9h.8M158 133h.8M156.2 103.6h.8M157.1 117.9h.8M157.6 110.6h.8M161.8 121.8h.8M159.6 128.7h.8M162.7 109.7h.8M163 103.3h.8M153 113.1h.8M158.6 107.6h.8M155.9 124.4h.8M151.8 110.7h.8M153.7 120.8h.8M155.7 104.6h.8M163.4 109.9h.8M157.8 126.3h.8M156.9 128.4h.8M157.4 119.2h.8M154.9 120h.8M158.1 102.9h.8M157.2 120.5h.8M151.7 120.3h.8M155.6 108.3h.8M169.4 124.9h.8M159.8 105.2h.8M157.2 118.6h.8M159.9 104.1h.8M154.1 128.9h.8M157.8 114.3h.8M160.6 132.8h.8M151.8 115.8h.8M154.9 126.6h.8M156.1 117.6h.8M156.5 102.6h.8M155.7 111.5h.8M158.5 120.4h.8M161.1 127.2h.8M158.7 103.1h.8M161.1 117.8h.8M161.2 126.5h.8M155.4 108.2h.8M158.5 112.4h.8M156.2 110.5h.8M159.8 125.4h.8M156.3 110.5h.8M156.9 131h.8M163.5 128.4h.8M156.9 119.1h.8M152 133.3h.8M158 111.5h.8M158.6 101.4h.8M155.7 123.5h.8M157.8 127.8h.8M161.1 132.1h.8M155.7 106.6h.8M156.9 102.1h.8M155 120.5h.8M158.7 114.1h.8M157.1 108.6h.8M154.3 123.1h.8M157 118.3h.8M164 121.2h.8M151.5 131.4h.8M152.7 129.4h.8M158.7 106.8h.8M152.7 103.1h.8M164.4 122.3h.8M152.3 101.3h.8M153 107.9h.8M155.7 131.3h.8M161.3 113.9h.8M160.4 125.2h.8M159.6 122.7h.8M158.6 104.7h.8M162.1 125.6h.8M151.2 125.8h.8M158.5 101.5h.8M162.6 132.6h.8M153.8 104.4h.8M158.7 116.7h.8M161.8 116.9h.8M161.9 116.5h.8M157.1 133.8h.8M164.1 106.7h.8M159.3 127.7h.8M161.3 130h.8M153.8 105.8h.8M154.9 101.1h.8M154.9 109.5h.8M163.8 102.5h.8M149.4 103.2h.8M151.1 128.3h.8M160.4 101.9h.8M158.1 109.8h.8M147.2 103.5h.8M156.2 105.7h.8M156.5 118.9h.8M161.8 131h.8M150.8 129.8h.8M155.7 104.7h.8M161.3 128.5h.8M160.2 129.7h.8M154.3 109.2h.8M156.6 107.8h.8M152.4 113.1h.8M162.3 126.7h.8M156.1 133.7h.8M162 118.8h.8M160.4 114.4h.8M154.5 112.9h.8M157.1 115.8h.8M159.8 109.1h.8M159.1 124.3h.8M162.9 120.2h.8M161.5 112.5h.8M158.7 124.3h.8M160 126.8h.8M155.1 107.2h.8M155.5 113.9h.8M159.7 121.6h.8M158.8 125.6h.8M153.7 103.2h.8M157.3 104.5h.8M154.8 126.7h.8M155.6 126.1h.8M162.1 108h.8M154.3 113.8h.8M155.3 123.5h.8M159.6 117.8h.8M157.9 126.8h.8M158.2 107.8h.8M152.6 114.9h.8M157.5 111.9h.8M156.3 128.6h.8M154.8 111.9h.8M155.6 125h.8M156.6 115.4h.8M160.5 107h.8M164.2 121.7h.8M158 106.3h.8M162.8 104.9h.8M158 129.3h.8M152.4 130.6h.8M157.8 112.5h.8M162.1 113h.8M162.5 120.9h.8M154.5 121.4h.8M165.4 120.3h.8M155.1 109.8h.8M155.1 127.1h.8M155.8 111h.8M162.7 129.8h.8M159 132.1h.8M160.8 110h.8M149.9 121h.8M157.4 124.3h.8M157.2 108.5h.8M160.1 132.8h.8M156 115.7h.8M161.8 117.9h.8M155.2 112.6h.8M152.8 114.1h.8M151.9 103.9h.8M162 132h.8M160.3 130h.8M154.9 126.4h.8M161.5 133.9h.8M157.1 129.6h.8M152.4 144.6h.8M163.5 154.2h.8M153.8 150.3h.8M156.7 157.9h.8M162.1 149.8h.8M159.7 157.2h.8M160.9 151.7h.8M153 144.8h.8M165.8 134.2h.8M151.7 151.7h.8M166.7 144.3h.8M156.4 154.7h.8M150.9 155.2h.8M159.5 154h.8M151.9 147.2h.8M156 149.2h.8M159 149.4h.8M166.3 144.7h.8M166.4 143.6h.8M163.9 157.5h.8M158 134h.8M148.3 154.8h.8M158.4 137.1h.8M157.7 136.7h.8M159.2 152.5h.8M156.1 134.4h.8M156.1 149.9h.8M166.4 139.8h.8M149.8 154.6h.8M160.2 147.6h.8M170 139.5h.8M154.2 148h.8M152.5 151.6h.8M158.4 154.4h.8M157.5 134.5h.8M162.2 156.2h.8M170.7 153.8h.8M159.2 139.6h.8M164.5 148.4h.8M155.6 146.6h.8M156.4 148.5h.8M162.5 139.9h.8M154.9 156.2h.8M169.5 150.9h.8M157 147.6h.8M158.9 156.7h.8M152 142.9h.8M156.8 146.9h.8M152.3 149.2h.8M156.3 148.8h.8M146.3 142h.8M160.1 148.3h.8M173.8 144.3h.8M145.5 151.4h.8M173.7 142.7h.8M159.2 144.8h.8M167.1 148.1h.8M152.3 138.5h.8M176 147.1h.8M151.7 155.1h.8M159.5 150.7h.8M172.3 146h.8M150.1 137.1h.8M141.8 147.8h.8M159.6 143.9h.8M154.1 143h.8M152.5 151.2h.8M152.9 157.4h.8M148.6 146.4h.8M171.1 138.5h.8M169.7 150.3h.8M149.4 144.8h.8M159.3 154.4h.8M156.5 152.1h.8M168.8 142.6h.8M153.5 153.8h.8M172.9 146.8h.8M160.1 151h.8M153.9 135.5h.8M159.4 140.7h.8M155.5 154.5h.8M177.9 134.5h.8M161.3 150.5h.8M156.3 156.2h.8M160.9 154.2h.8M171.8 137.7h.8M152.5 137.1h.8M146.8 143h.8M170.5 135.4h.8M164.9 148.7h.8M156.5 149.8h.8M159.5 150.4h.8M168.8 153.8h.8M138.5 141.7h.8M170.2 134.4h.8M158.7 138.3h.8M165.4 153.7h.8M159.7 137.6h.8M184.6 136.5h.8M155.2 150.5h.8M168.8 148.6h.8M139.4 156h.8M160.4 153.5h.8M166.3 155.1h.8M147.8 155.6h.8M143.9 134.3h.8M160.8 156.8h.8M168.1 140.3h.8M169.5 136.2h.8M154.6 155.7h.8M162.8 141.1h.8M148.8 137.5h.8M174 147.6h.8M155.5 153.8h.8M170.2 141.8h.8M157.9 154.6h.8M157.4 157.2h.8M173 146.8h.8M153.1 139.5h.8M170.4 141.2h.8M157.2 138h.8M153 144.6h.8M153.4 143.5h.8M169 141h.8M159.4 143.7h.8M157.2 140.3h.8M148 154.6h.8M169.4 156h.8M168.4 144.4h.8M162.6 136.8h.8M166.2 141h.8M155.8 157.5h.8M161.3 152.1h.8M160.9 135.6h.8M155.5 142.4h.8M161.9 135.6h.8M154.2 147.5h.8M154.8 143.5h.8M150 144.7h.8M161.1 140.8h.8M154.2 136.2h.8M156 152.8h.8M171.1 142.3h.8M159.7 135.7h.8M159.7 138.9h.8M147.7 135.2h.8M155.8 155h.8M167.9 138.1h.8M164.4 156.5h.8M160.4 157.3h.8M158.6 136.9h.8M160.5 153h.8M163.2 139.2h.8M157.4 151.1h.8M140.1 157.2h.8M175.7 145.1h.8M169.1 139.2h.8M158.8 149.8h.8M171.3 148.6h.8M149.6 139.8h.8M170.3 146.9h.8M161.5 146.2h.8M167.1 143.9h.8M157.2 142.9h.8M161.2 156.1h.8M164.7 149.8h.8M168.4 143.9h.8M164.1 147.5h.8M163.5 149h.8M155.3 154.9h.8M173.7 144.8h.8M161.7 153.5h.8M158.2 137.8h.8M157.4 151.5h.8M150.4 150.9h.8M154.1 134.3h.8M147.8 149.5h.8M161.6 135.8h.8M159.3 155.8h.8M161.7 147.3h.8M150 137.6h.8M156.6 151.6h.8M154.9 140.5h.8M167.9 135.7h.8M148.1 147.5h.8M147.8 153.2h.8M170.3 151.1h.8M162.9 153.3h.8M147.4 151.1h.8M170.8 143.2h.8M171.9 139.2h.8M169.1 142.1h.8M143.5 154h.8M161 134.6h.8M153.1 135.9h.8M157.9 156.1h.8M147.3 134.2h.8M173.9 147.3h.8M154.4 155.5h.8M162.2 146.5h.8M166.4 151.9h.8M164.9 134.7h.8M163.3 151.7h.8M156.9 148.8h.8M161.8 149.2h.8M158.2 140.6h.8M141.8 148.6h.8M168 152.3h.8M155 154.3h.8M155.8 135.9h.8M156.7 155.3h.8M148.9 151.1h.8M150.3 147.1h.8M145.5 151.7h.8M163.7 151.9h.8M169.4 147.2h.8M160.6 154.6h.8M150.8 155h.8M170.4 153.4h.8M157.4 139.3h.8M147.2 143.3h.8M144.9 156.1h.8M161.4 147.6h.8M171.5 138.1h.8M156.9 153.4h.8M154.9 138.2h.8M157.8 157.1h.8M153.2 149.8h.8M155.6 156.8h.8M162 141.5h.8M154.2 155.2h.8M167.4 141.4h.8M152.1 135.8h.8M165.6 152.1h.8M162.7 156.4h.8M156.9 156.2h.8M157.6 137.2h.8M157.4 147.3h.8M173.4 150h.8M153.5 141.5h.8M169.5 151.5h.8M168 143h.8M157.2 154.8h.8M172.9 147.5h.8M140.9 144.3h.8M161.9 146h.8M161 143.9h.8M160.1 145.6h.8M166.6 150.8h.8M156.7 141.9h.8M158.5 134.6h.8M169.1 150.3h.8M159 144.8h.8M151.7 154.7h.8M164.5 134.5h.8M159.3 152.4h.8M155.4 141.2h.8M164.4 153.6h.8M153.8 141.7h.8M152.1 136.9h.8M157.9 149.5h.8M158.4 139.1h.8M160.4 153.2h.8M150.3 147.3h.8M173.7 154.4h.8M165.4 150.2h.8M161.1 144.9h.8M161.8 148.5h.8M139.9 135.3h.8M167.3 136.4h.8M151.8 140h.8M164 146.3h.8M150.4 155.5h.8M167.8 134.2h.8M155.7 140.3h.8M158.2 136.2h.8M172.2 153.7h.8M167.9 155.2h.8M148.9 147.3h.8M154.4 139.3h.8M161.5 153.8h.8M158.1 142h.8M166.4 148.8h.8M154.5 153.1h.8M144.9 142.1h.8M152.6 139.1h.8M158.5 135.7h.8M164.3 156h.8M165.9 134.9h.8M169.9 153.7h.8M161.8 156.5h.8M158.3 144h.8M165.8 137.2h.8M159.1 150.5h.8M156.2 138.7h.8M156.2 144.5h.8M167.4 141.9h.8M171.8 151.5h.8M170.5 152h.8M147.2 148.8h.8M168.7 146.2h.8M151 151.8h.8M157.2 138.3h.8M164.6 138.9h.8M149.3 138.1h.8M150.1 138.6h.8M153.9 144.9h.8M173.5 137.4h.8M168.6 156.2h.8M152.8 135.7h.8M161.1 156.4h.8M161 153h.8M162.4 147.3h.8M154.3 146.6h.8M171.5 153.1h.8M156.9 141.9h.8M166.5 153.5h.8M146.5 144.4h.8M163.1 153.3h.8M161.1 146.4h.8M170.8 157.4h.8M139.2 148.8h.8M164.4 149.4h.8M166.5 139.6h.8M157.8 158h.8M170.5 135.5h.8M176.8 134.6h.8M167 142.5h.8M166.4 157.6h.8M170.8 140.3h.8M163.5 135.7h.8M169.8 141.7h.8M164.8 152.4h.8M154.5 153h.8M151.6 135.9h.8M169.4 144h.8M164.8 144.3h.8M154.6 138.2h.8M160.2 137.6h.8M171.7 141.7h.8M146.2 143.2h.8M152.7 148.5h.8M165.6 149.7h.8M166.6 148.7h.8M150.6 144.1h.8M152 138.2h.8M161.3 136.7h.8M171.2 137.3h.8M160.1 151.6h.8M141.4 138.6h.8M168.2 145.4h.8M159.8 139.9h.8M156.3 140.4h.8M150.7 151.9h.8M169.5 152.9h.8M162.1 146.9h.8M163.2 149h.8M162.8 149.2h.8M163.5 153.2h.8M166.7 134h.8M173.7 140.5h.8M151.5 153.1h.8M159.4 158h.8M156.3 150.8h.8M173.4 153.8h.8M157.7 138.4h.8M147.1 134.9h.8M159.7 156.5h.8M154.1 139.8h.8M154 140.6h.8M156.4 149.2h.8M149.5 146.4h.8M144.5 154.3h.8M175.6 139.8h.8M159 138.2h.8M152.5 135.9h.8M165 153h.8M170.6 149.7h.8M146 150.3h.8M156.4 140.4h.8M162.2 138.8h.8M153.2 151.5h.8M163.6 153.2h.8M150.1 140.9h.8M154.6 141.6h.8M159 153h.8M163.4 153.3h.8M160.3 138.1h.8M154.5 140.3h.8M157 152.2h.8M143 151h.8M177.1 143.1h.8M156.7 153.2h.8M157.6 150.6h.8M162.1 144.5h.8M164.5 145.9h.8M162.7 139h.8M154.5 143.7h.8M146.7 136.7h.8M158.6 146.4h.8M153.6 135.8h.8M155.5 134.2h.8M159.9 157.1h.8M161.9 137.3h.8M170.3 141.7h.8M158.8 155.2h.8M146.1 136h.8M164.6 147.8h.8M167.4 146h.8M146.8 148.1h.8M164.8 149.7h.8M161.4 145.9h.8M155.6 155.6h.8M161.3 149.4h.8M163 137.7h.8M164.7 147.9h.8M169.1 135.3h.8M159.8 140.3h.8M159.9 155.7h.8M179.3 135.3h.8M151.4 142.2h.8M157.7 135.6h.8M157.1 155.4h.8M166.1 135.4h.8M168.8 147.5h.8M149.3 145.1h.8M169.8 155.2h.8M150.4 135.1h.8M180.8 134.4h.8M154.6 153.8h.8M168.8 138.4h.8M157.8 144.5h.8M165.6 155.9h.8M153.9 141.6h.8M161 139.1h.8M160.1 153.8h.8M160.7 153.3h.8M166.3 157.9h.8M156.4 153h.8M157.3 148.4h.8M149.4 139h.8M158.8 152.1h.8M156 147.3h.8M167 144.1h.8M165.3 148.1h.8M154.1 137.7h.8M163.5 156.4h.8M170.5 142.9h.8M158.3 156.3h.8M150.5 152.7h.8M179.7 149.6h.8M164.4 140.8h.8M165.6 150.8h.8M180 142.8h.8M153.5 156h.8M162.4 142.7h.8M144.8 154.6h.8M163.9 135.1h.8M163.1 153.4h.8M153.7 146h.8M153.1 148.4h.8M158.5 148.9h.8M158.1 157.6h.8M172.6 148.9h.8M158 156.7h.8M158.7 151h.8M158.5 144.8h.8M147.1 156.1h.8M156 152.2h.8M149.1 150.8h.8M161 156h.8M142.4 138.6h.8M150.9 138.3h.8M162 148.5h.8M143.1 142.4h.8M147.5 137.7h.8M167.9 140.5h.8M149.3 135h.8M159.9 154h.8M162.4 136.9h.8M151.4 134.7h.8M146.4 147.3h.8M172.2 140.3h.8M155.5 137.6h.8M164.1 146.5h.8M153.8 144h.8M162.9 143.3h.8M149.4 149.8h.8M148.9 138h.8M151.6 145.7h.8M154.9 156.1h.8M154.9 142.7h.8M157.3 151.6h.8M163.4 143h.8M155.6 139.8h.8M167.4 143.4h.8M154.6 135.7h.8M165.2 140.9h.8M170.4 141.4h.8M173.9 153.9h.8M144 154.4h.8M173.8 152.4h.8M145.8 145.9h.8M171.3 135.7h.8M159.8 150.5h.8M162.7 146.1h.8M152.4 153.4h.8M167.4 145.6h.8M165.4 135.1h.8M155.5 146.5h.8M155 137h.8M166.8 155.4h.8M168.2 135.2h.8M166.1 144.4h.8M156.9 137.3h.8M160 147.5h.8M167.5 135.2h.8M166.7 157.5h.8M169 149.6h.8M161.1 154.1h.8M154.3 143.1h.8M162.3 142.3h.8M163.6 143.8h.8M155.7 134.6h.8M163.5 150.7h.8M153.2 147h.8M162 148.8h.8M155.1 141.4h.8M176.9 135.3h.8M169.5 150h.8M162.1 154h.8M149.4 143.6h.8M150.1 143.8h.8M165.5 140.2h.8M158.7 139.4h.8M162.4 151.9h.8M147.3 146.9h.8M147.9 157.7h.8M160.9 148.7h.8M158.3 138.2h.8M149.3 140.3h.8M153.5 150.2h.8M166.2 142.5h.8M156.5 150.9h.8M164.6 149.7h.8M173.2 152.8h.8M162.6 148.4h.8M161 145.9h.8M155.2 146.1h.8M169.7 140.3h.8M148.4 138.8h.8M151.2 154h.8M159.8 150.3h.8M148.2 147.8h.8M167.8 153h.8M154.9 136.2h.8M164.2 148.4h.8M157.5 154.2h.8M157.9 147.7h.8M160.1 155h.8M144.2 137h.8M151.2 156.8h.8M156.2 141h.8M177.7 150.8h.8M166.5 157.1h.8M165.7 147.4h.8M151.6 140.8h.8M167.1 157.5h.8M169.9 140.2h.8M166 151.2h.8M180.9 148.2h.8M149.2 146.4h.8M151.3 152.7h.8M157.8 156.2h.8M152.1 156.9h.8M160.4 152.7h.8M164.1 153.8h.8M159.8 134.7h.8M160.7 142.9h.8M163.2 147.5h.8M166.1 145.4h.8M154.7 156.4h.8M154.6 156h.8M169.5 145.6h.8M157.2 156.1h.8M153.3 142.5h.8M162.2 153h.8M157.1 137.2h.8M160.9 157.8h.8M159.4 144.9h.8M165 157.4h.8M167.2 140.1h.8M153.3 140.7h.8M150.2 140.7h.8M172.7 141h.8M154.4 136.1h.8M147.5 152.9h.8M144.7 146.3h.8M159.6 146.3h.8M154.8 140.4h.8M145.3 145.6h.8M152.3 145h.8M151.4 134.4h.8M167.9 141.2h.8M161.8 138.1h.8M159.8 141.2h.8M149.7 144.3h.8M158.4 157.7h.8M165.2 143h.8M161.2 155.4h.8M168.3 151.8h.8M160.5 157.7h.8M165.4 153.6h.8M163.5 156.6h.8M155.3 137.5h.8M170.6 152.8h.8M162.8 142.4h.8M166.5 143.4h.8M151.4 136.7h.8M151.2 137.4h.8M158.4 150.3h.8M153.4 139.3h.8M164.8 149.5h.8M163.1 142.5h.8M169.7 149.2h.8M164.6 149h.8M150.8 139.2h.8M167.5 155.8h.8M154.7 151.1h.8M154 147.6h.8M160.4 148.9h.8M159.8 149.6h.8M168.2 142.5h.8M182.5 148.6h.8M163.3 137.7h.8M171.5 157.7h.8M158.2 150.8h.8M162.6 152.4h.8M155.7 151.9h.8M156.5 154.4h.8M170.6 145.1h.8M163.5 140.1h.8M163.4 134.8h.8M153.5 146.4h.8M173.5 137.7h.8M158.5 145.1h.8M154.7 135.5h.8M159.7 152.6h.8M165.3 142.6h.8" stroke="#000" stroke-opacity="0.3" stroke-width="0.75" fill="none"/>
<path d="M157.3 145.7h.8M168 149.8h.8M158.2 151.4h.8M163.1 155.2h.8M158.4 156.5h.8M154.1 154.8h.8M155.6 154.8h.8M155.4 150.3h.8M167.2 147.5h.8M152.6 154.3h.8M157.6 150.3h.8M160 148.3h.8M158.8 154h.8M152.7 151.4h.8M149.4 153.1h.8M172.9 149.6h.8M165 152.9h.8M151.2 153.6h.8M157.1 151.1h.8M158.7 152h.8M155 150.1h.8M162.4 149.6h.8M154.6 149.8h.8M157.1 152.7h.8M156.3 151.2h.8M154.9 157h.8M159.5 150.7h.8M160.6 151.8h.8M168.1 154h.8M165.5 149.3h.8M150.8 149.2h.8M166.4 148h.8M154.6 156.4h.8M157.6 151.2h.8M161.1 152.3h.8M155.1 151.8h.8M162.6 147.8h.8M157.8 147.4h.8M163.1 154.5h.8M165.5 145.7h.8M155.9 150.1h.8M170.9 147.7h.8M164.8 150.9h.8M166.5 142.2h.8M156.6 156.9h.8M154.8 156.8h.8M156.2 156.5h.8M154.8 151.3h.8M165.4 152h.8M150.3 151.1h.8M162 147.8h.8M158.9 150.3h.8M150.8 153.8h.8M152.7 149h.8M165.8 147.5h.8M162.3 156.7h.8M164.4 153.9h.8M159.8 153.8h.8M156.2 148h.8M161.4 150h.8M149.7 158.4h.8M162.3 154.1h.8M151.2 151.4h.8M160.5 149h.8M168 143.8h.8M162.8 144.4h.8M150.3 146.8h.8M155.2 148.3h.8M150.7 148.3h.8M153.4 150.6h.8M156.7 142.2h.8M156.1 151.5h.8M158.3 146.3h.8M160.5 145.4h.8M162.2 155.7h.8M149.6 154.4h.8M156.9 156.7h.8M147.8 154.7h.8M157.2 155.3h.8M154.9 144h.8M155.4 150.8h.8M156 156.5h.8M171 153.1h.8M148.6 155.7h.8M163.1 153.1h.8M158.1 152.7h.8M162.6 154.1h.8M154.1 149.2h.8M163.1 145.9h.8M158.1 150h.8M162 151.7h.8M163.7 147.9h.8M160.2 154.4h.8M158 154.1h.8M155.1 155.8h.8M155.6 148.8h.8M157.8 151.4h.8M153.8 154.8h.8M157.7 154h.8M150.2 146.3h.8M157.7 153.8h.8M162.7 148.7h.8M161.4 149.5h.8M161.4 147.4h.8M165.8 153.2h.8M160 149.5h.8M159.8 148.7h.8M166.6 146.5h.8M157.4 153.1h.8M157.6 149.8h.8M160.4 149.6h.8M157.9 142.4h.8M163.3 150.7h.8M153.1 158.2h.8M156.9 149.1h.8M153.8 155.9h.8M160.3 151.5h.8M147.4 148.1h.8M154.3 142.7h.8M157.2 147.7h.8M151.2 151.1h.8M158.9 144.5h.8M163.9 146.5h.8M166.1 152.9h.8M157.4 152.9h.8M155.2 151.3h.8M167.5 149.3h.8M162.9 148h.8M158.3 155.5h.8M151.8 152.9h.8M146.6 147h.8M156.1 155.1h.8M162.4 147.9h.8M149.8 153.3h.8M165.9 156.6h.8M155.2 150h.8M157.1 154.3h.8M158.9 147.9h.8M163 155.1h.8M155.1 150.6h.8M157.9 145h.8M159.2 154.3h.8M169.2 152.4h.8M156.9 151h.8M161.8 154.8h.8M153.7 152.4h.8M162.1 143.6h.8M166 150.8h.8M163.3 151.4h.8M160.1 155.1h.8M157 147.1h.8M162.7 147.8h.8M166.8 152.1h.8M156.5 150.5h.8M162.8 154.6h.8M157.6 155.4h.8M159.7 155.1h.8M154.9 157.7h.8M154.7 155.5h.8M162.2 148.3h.8M154.7 151h.8M160.8 157h.8M163.5 149.2h.8M155.8 151.4h.8M163 152.8h.8M164.1 149.1h.8M149 150h.8M159.1 151h.8M152.8 150.8h.8M156.1 148.2h.8M166.2 151.7h.8M165.7 147.4h.8M154 151.8h.8M151.7 153.8h.8M162.8 149.5h.8M146.4 149.2h.8M155.5 147.3h.8M162.9 152.1h.8M164.7 154h.8M149.1 152.7h.8M163.1 152.1h.8M166.9 150.1h.8M162.7 147h.8M158.9 149.7h.8M153.4 146.7h.8M159.2 121.6h.8M157.5 132.2h.8M157.9 115h.8M158.5 104h.8M160.1 118.7h.8M158.3 119.9h.8M153.4 117.5h.8M158.5 124.4h.8M159.3 113.6h.8M158.1 116.4h.8M153.2 104.9h.8M159.7 131h.8M161.6 110.8h.8M161.8 132.1h.8M154.7 122.6h.8M162.5 119.1h.8M160.8 112.8h.8M156.1 126.1h.8M156.6 119.5h.8M157.4 109.3h.8M157.3 110.1h.8M159.9 115.3h.8M153.9 110.2h.8M157.8 106.6h.8M159.9 114.9h.8M159.7 109.2h.8M155.4 127.7h.8M154.9 122.8h.8M154.5 102.9h.8M161.6 116.4h.8M151.7 121.8h.8M160.5 129.7h.8M162.3 121.7h.8M156.8 118.9h.8M153.4 124.8h.8M159.4 121.3h.8M154.6 124h.8M155.3 129.3h.8M155.2 113.5h.8M156.1 109.1h.8M154.2 115.7h.8M149.3 136h.8M158.2 120.8h.8M154.3 119.9h.8M154.2 112.7h.8M160.9 118.4h.8M153.6 131.4h.8M152.6 113.2h.8M156.4 111.5h.8M160.4 115.5h.8M159.8 116.7h.8M156.6 120.8h.8M158.3 123.2h.8M156.4 104.7h.8M156.1 110.8h.8M163.4 115h.8M152 121.8h.8M158.6 121.8h.8M163.9 110.6h.8M154.8 120.6h.8M161 110.4h.8M158.4 127h.8M159.1 103.7h.8M160.9 116.9h.8M158.6 110.2h.8M162.6 132h.8M154.1 124.7h.8M156.9 103.5h.8M158.6 114.7h.8M157.9 107.4h.8M157.4 122.8h.8M152.3 131.8h.8M161.6 119.5h.8M163.6 110.8h.8M154 112.5h.8M154.7 134.5h.8M157.2 117.5h.8M158.2 132.2h.8M157.9 129.3h.8M156.4 130.6h.8M158 116.5h.8M158.6 135.7h.8M158.8 119.4h.8M157.2 125.4h.8M159 121.4h.8M159.1 110.4h.8M154.9 109.1h.8M155.9 116.2h.8M155.9 122.8h.8M154 115.9h.8M159.8 133h.8M157.2 128.7h.8M161.4 109h.8M157.8 108.7h.8M155.8 121.7h.8M153 122.8h.8M158.7 110.7h.8M151.7 118.3h.8M154.7 116.3h.8M153.8 106.7h.8M154.4 111h.8M157.1 146h.8M158.8 107h.8M157.1 118.6h.8M157.7 116.9h.8M160.5 125.3h.8M155.3 116h.8M152.7 123.7h.8M154.8 131.3h.8M154.1 103h.8M154.3 120.9h.8M160.2 110.2h.8M160 113.3h.8M155.3 115.2h.8M157.9 104.5h.8M162.1 110.2h.8M154.7 109.8h.8M154.9 123.8h.8M154.4 129.1h.8M157 109.8h.8M154.9 105.7h.8M152.4 128h.8M159.7 109.2h.8M155.5 131.9h.8M154.7 119.7h.8M158.5 116h.8M156.3 114.8h.8M152.8 121.7h.8M150.8 118.6h.8M152.3 116.3h.8M152.3 121.8h.8M156.3 116.1h.8M157.1 122.6h.8M156.5 109.2h.8M147.2 126h.8M154.8 108h.8M152.8 116.3h.8M157.3 116.9h.8M158.8 116.7h.8M162.4 132.3h.8M154.9 121.7h.8M159.8 123.5h.8M157.5 127h.8M154.9 112.2h.8M154.3 130.6h.8M155.7 117.5h.8M160.7 115.3h.8M160.6 117.6h.8M156.8 122.6h.8M159.6 133.2h.8M154.5 110.2h.8M149.9 125.2h.8" stroke="#000" stroke-opacity="0.6" stroke-width="0.8" fill="none"/>
<path d="M155.8 156.8h.8M160.2 158.2h.8M155.3 156.9h.8M163.3 158.4h.8M155.3 153.7h.8M160.4 157.9h.8M163.6 154.8h.8M159.8 153.2h.8M156 156.4h.8M161.1 158.3h.8M160 158.4h.8M156.2 158h.8M163 155h.8M162.2 152.6h.8M155 155h.8M161.3 155.1h.8M157.9 157.7h.8M159 154.8h.8M165.4 156.6h.8M157.6 158.3h.8M159.4 155.8h.8M155.5 156.6h.8M159.3 151.8h.8M161 155h.8M164.2 156h.8M165.3 156.6h.8M152.8 154.4h.8M158.3 157h.8M162.6 155.8h.8M161.6 157.7h.8M157.7 151.1h.8M164.4 156.4h.8M164.3 155.2h.8M156.2 158.4h.8M156.4 154.7h.8M160.3 153.4h.8M156.6 154.1h.8M157.9 157.5h.8M160.8 156.5h.8M158.9 157.8h.8M159.1 155.9h.8M157.6 156h.8M155 157.9h.8M155 153.6h.8M163.7 158h.8M153.4 155.2h.8M162.5 153.7h.8M160.1 155.9h.8M154.6 154.5h.8M158.9 156h.8M160.1 154h.8M157 154.8h.8M156.7 151.7h.8M158 156.1h.8M156.2 155.3h.8M157 155.6h.8M155.5 157.2h.8M158.4 157.2h.8M158.5 153.7h.8M163 156.9h.8M162.8 157.4h.8M157.3 157.4h.8M154.2 155.1h.8M163.3 158.2h.8M156.8 155.2h.8M165.2 158.2h.8M159.2 158.4h.8M153.8 154.5h.8M164.3 158.3h.8M160.6 154.7h.8M160.4 158.3h.8M163.7 155.5h.8M157.5 155.4h.8M159.2 156.6h.8M163.1 153.5h.8M157.3 158.3h.8M156.9 156.6h.8M156.1 157.9h.8M156.6 151.8h.8M155.1 155.7h.8M157.6 156.9h.8M153.9 150.4h.8M158.3 154.2h.8M157.5 156.6h.8M156.6 158.4h.8M155.6 153.2h.8M160.1 157.6h.8M164 157.9h.8M164 154h.8M159.5 156.8h.8M163 153.7h.8M163 157.4h.8M161.7 155.6h.8M164.3 158h.8M161.5 158.3h.8M157.8 152.8h.8M163.3 152.8h.8M160 155.9h.8M151.3 154.5h.8M164.2 156.8h.8M164 158.4h.8M153.4 157.6h.8M160.3 158.3h.8M158.5 158.3h.8M154.3 155.9h.8M153.6 158h.8M155.7 151.2h.8M157.3 156.8h.8M159.8 156h.8M160.9 157.5h.8M162.3 156.9h.8M166.1 154.8h.8M158.6 155.7h.8M157.4 158.1h.8M157.9 157.5h.8M155.4 158.5h.8M156.8 157h.8M164.1 151h.8M165.3 155.1h.8M165 153.5h.8M162.1 154.5h.8M160.9 156.4h.8M163 157.3h.8M162.2 155.2h.8M164.9 157.7h.8M163.2 157.6h.8M159.3 158.1h.8M162.5 153.4h.8M156.4 156h.8M159.8 157h.8M161.3 157.8h.8M163.4 156.9h.8M161.2 156.9h.8M160 158.4h.8M159.2 152.7h.8M162.9 154.4h.8M161.5 158.1h.8M155.9 157.6h.8M154.5 157h.8M157.4 153.3h.8M160 157h.8M163.6 157.8h.8M164.9 157.9h.8M157.1 155h.8M156.6 157.4h.8M160.5 156.7h.8M157.2 154.3h.8M161.1 158h.8M161.1 157.4h.8M158.6 156.3h.8M163.7 157.9h.8M154.5 156h.8M156.9 157.8h.8M158.8 158.2h.8M154.9 155.9h.8M157.7 155.3h.8M162.6 155.5h.8M157.8 153.6h.8M164 156.6h.8M158.8 158.4h.8M161 157.4h.8M164.4 155.7h.8M163 154.9h.8M159 155.6h.8M163.1 155.1h.8M160.2 157.9h.8M158.3 154.1h.8M161.1 156.9h.8M160 153.8h.8M155.4 153.5h.8M161.4 157.8h.8M166.5 155.6h.8M160.9 157.5h.8M162.7 155.9h.8M157.2 157.7h.8M163.8 154.6h.8M157.7 153.1h.8M157.3 151.2h.8M160.1 155.6h.8M157.6 153.6h.8M162.9 156.4h.8M165 157.9h.8M162.1 155.5h.8M157.5 157.2h.8M163.3 154h.8M159.7 155.9h.8M164.6 157.9h.8M158 156.6h.8M162.6 156.3h.8M163.4 154.5h.8M159.5 155.7h.8M162.7 157.7h.8M158.1 156.9h.8M162.5 156.6h.8M155.5 157.8h.8M155.2 155.9h.8M156.9 157.3h.8M158.6 157.8h.8M161.4 155.3h.8M160.6 157.2h.8M156.1 157.4h.8M157.6 155.7h.8M155.9 157.1h.8M161 157.2h.8M160.1 155.4h.8M161.2 157.1h.8M163.8 155.1h.8M162.8 156.8h.8M161.6 153.7h.8M162.3 157.7h.8M165.3 155.5h.8M154.1 153.6h.8M158.9 154.8h.8M156.3 156.3h.8M160.6 155.9h.8M157.7 158.5h.8M162.5 158.5h.8M159.4 157.9h.8M161 157.3h.8M160 156.4h.8M156 149.5h.8M154.6 157.4h.8M161 157.9h.8M155.3 156.4h.8M156.9 155.3h.8M163.8 158.5h.8M163.3 155.2h.8M154.2 157.3h.8M160.1 157.4h.8M155.1 155.5h.8M162.4 156.5h.8M162.3 157.5h.8M161.9 157.9h.8M163.2 158h.8M161.2 153.9h.8M158.2 157h.8M162.1 153.6h.8M155.3 154.6h.8M155.9 158.2h.8M155.2 154.2h.8M162 151.3h.8M154 157.1h.8M155.6 154.4h.8M163.7 154.1h.8M160.3 158.2h.8M159.1 157.4h.8M156 156.3h.8M160.2 156.4h.8M162.5 156.3h.8M157.2 154.1h.8M158.7 158.4h.8M163.4 158.2h.8M159 155.7h.8M159.1 153.2h.8M160.9 154.8h.8M160.5 157.6h.8M158.4 157.7h.8M154.7 156h.8M162.5 154.8h.8M159.8 157.6h.8M160.2 154.8h.8M164.9 157.3h.8M161.3 158.1h.8M160.5 157.7h.8M157.1 153.5h.8M161.9 156.9h.8M158.6 155h.8M163.1 158.2h.8M156.8 158.3h.8M154.9 151.5h.8M158.5 155.2h.8M160.6 154.2h.8M162.3 101.1h.8M159.2 101.6h.8M162.1 101.4h.8M154.5 100.5h.8M162 101.1h.8M156.8 101h.8M159.2 100.8h.8M158.7 100.7h.8M158.3 101.6h.8M155 101.5h.8M156.2 101.4h.8M155.2 100.8h.8M165.9 101.2h.8M158.4 101.4h.8M157.2 101.6h.8M164.7 101.1h.8M159.5 101.1h.8M157.8 101.8h.8M163.1 100.3h.8M155.1 101.5h.8M164.9 100.8h.8M155.1 101.6h.8M164.4 100.5h.8M155.6 101.8h.8M154.5 101.1h.8M157.2 100.5h.8M165 100.9h.8M162.1 101.6h.8M158.3 101.6h.8M158 100.7h.8M162.8 101.5h.8M159.1 100.8h.8M160.3 100.9h.8M155.6 101.6h.8M162.1 101.8h.8M163.4 101.4h.8" stroke="#000" stroke-opacity="0.9" stroke-width="0.8" fill="none"/>
</g>
<rect x="133.3" y="99.3" width="71.5" height="60.2" fill="none" stroke="#6a6a6a" stroke-width="1"/>
<line x1="198.8" y1="104.6" x2="198.8" y2="150.9" stroke="#7a7a7a" stroke-width=".9"/>
<line x1="133.3" y1="133.5" x2="204.8" y2="133.5" stroke="#7a7a7a" stroke-width=".9"/>
<text transform="translate(134.9 104.3) scale(1 0.64)" font-size="7.6" text-anchor="start" stroke="#000" stroke-width="0.6">18.78</text>
<text transform="translate(204.2 104.3) scale(1 0.64)" font-size="7.6" text-anchor="end" stroke="#000" stroke-width="0.6">0.00</text>
<text transform="translate(134.9 158.7) scale(1 0.64)" font-size="7.6" text-anchor="start" stroke="#000" stroke-width="0.6">81.22</text>
<text transform="translate(204.2 158.7) scale(1 0.64)" font-size="7.6" text-anchor="end" stroke="#000" stroke-width="0.6">0.00</text>
<g filter="url(#soft)">
<path d="M64.6 212.5h.8M69.4 218.3h.8M66.7 210h.8M67.1 208.9h.8M76.4 205.7h.8M70.9 215.8h.8M68.1 208.8h.8M65.7 213.1h.8M65.5 213.6h.8M68.6 212.4h.8M70.2 219.4h.8M65.5 219.4h.8M68.3 211.7h.8M70.3 221.7h.8M66.5 204.1h.8M71.7 221h.8M62.7 214.2h.8M70.2 200.8h.8M71.7 219.3h.8M71.9 223.9h.8M62.9 220.6h.8M78.9 201.5h.8M66.2 219.1h.8M64.5 204h.8M69.4 215.9h.8M64.4 216.4h.8M72.3 220.9h.8M69.9 207.5h.8M66.4 201.2h.8M62.8 215.8h.8M70.5 214.7h.8M67.8 203.1h.8M61.7 207.9h.8M65 211.2h.8M78.3 220.8h.8M62.9 210.8h.8M65.2 211.2h.8M65.3 202.5h.8M73.4 218.8h.8M70.9 215.4h.8M70 212.6h.8M58.3 215.5h.8M67.9 206.8h.8M57 221.6h.8M62.9 213.5h.8M64.4 224.8h.8M60.6 221h.8M55.6 220.2h.8M65.4 201.1h.8M68 214.2h.8M60 216.8h.8M67.6 217.6h.8M61 210.1h.8M63.1 215.4h.8M65.2 208.6h.8M74.4 211.4h.8M73 219.7h.8M64.3 203.6h.8M68.7 218.7h.8M73.4 217h.8M69.8 210.9h.8M73.2 206.6h.8M69.2 217.4h.8M59.1 213h.8M70.5 224.7h.8M75.6 212.6h.8M66.2 211.9h.8M68.9 219.9h.8M62.7 213.6h.8M64.9 210h.8M65.3 225.8h.8M76.2 223.6h.8M59.7 216.6h.8M79.4 217.3h.8M64.4 218.4h.8M66.5 212.3h.8M69 217.6h.8M67 214.6h.8M62.8 214.5h.8M71.3 215.3h.8M67 206h.8M73.3 207.7h.8M71.1 212.6h.8M71.7 221.1h.8M66.3 196.4h.8M57.9 208.8h.8M63.3 216.5h.8M77.4 218.8h.8M67.2 223h.8M66.9 220h.8M69.6 203.1h.8M72.5 225.5h.8M66.2 219.5h.8M70.3 213.2h.8M66 220.9h.8M64.7 211.5h.8M72 220.4h.8M75.4 211.3h.8M61.4 221.4h.8M60.4 212.3h.8M66.8 225.2h.8M68 207.5h.8M67.7 222.9h.8M59.1 206.9h.8M72.8 215.6h.8M63 213.6h.8M68.2 207.9h.8M65.1 223.6h.8M69.4 221.6h.8M67.7 211.5h.8M69.4 209.3h.8M69.7 213h.8M66.5 213.2h.8M63.3 223.1h.8M60.6 216.2h.8M61.8 220.3h.8M66.8 216h.8M70.2 217h.8M68.8 217.1h.8M69.6 212.1h.8M66.5 213.4h.8M64.4 211.6h.8M74.3 206.2h.8M76 211.7h.8M70.9 214.9h.8M67 218.2h.8M76.1 214.2h.8M67.7 211.6h.8M77.7 221.9h.8M73.3 215.1h.8M58.8 217.8h.8M59.3 211.1h.8M72.6 211.4h.8M64.6 202.1h.8M71.3 217.4h.8M65.6 217.1h.8M60.1 209.3h.8M68.8 220.2h.8M67.7 207.5h.8M65.5 221.6h.8M65 216.4h.8M70 211.6h.8M68 204.1h.8M65.1 215.1h.8M70.9 222.7h.8M65.6 217.7h.8M67.3 210.1h.8M64.1 214.5h.8M67.9 210.3h.8M81 214.7h.8M71 213.2h.8M81.2 201.4h.8M66.2 215.9h.8M73.6 214.5h.8M63.1 224.2h.8M71 213.3h.8M66.6 213.3h.8M68.6 204.5h.8M68.5 211.2h.8M70.2 216.8h.8M62.8 222.9h.8M71.5 209.4h.8M62.8 210.7h.8M69.5 222.3h.8M63.5 210.1h.8M70.3 214.5h.8M67.6 214h.8M66.3 225.2h.8M72.5 212.8h.8M73.8 226h.8M70.1 216.6h.8M65.5 215.5h.8M68.9 222.6h.8M63.3 205h.8M65.4 217h.8M58.2 213.5h.8M63.9 208h.8M68.4 221.7h.8M61.3 216.1h.8M67 218.6h.8M67.8 211h.8M72 217.3h.8M62.9 202.8h.8M64.4 215.9h.8M71.4 211.3h.8M65.9 203.9h.8M65.6 215.4h.8M64.9 214.1h.8M63.1 209.3h.8M69 205.4h.8M67.8 221.7h.8M65 211.7h.8M63.7 206.9h.8M64.9 207h.8M66.6 211.3h.8M62.3 214.7h.8M72.4 219.2h.8M66.3 214.4h.8M62.6 213h.8M70.7 219h.8M74 205.5h.8M75 216.7h.8M74.9 214.5h.8M73.4 214.3h.8M62.5 216.3h.8M65.1 214.2h.8M70 219h.8M70.6 220.2h.8M60.2 221.3h.8M63.6 215h.8M65.6 207.6h.8M71.7 208.4h.8M64.9 223.1h.8M56.8 204.4h.8M72.1 212h.8M71.3 214.3h.8M65.2 218.6h.8M64.2 211.1h.8M68.6 207.9h.8M60.7 204.6h.8M72 225.9h.8M73.2 210.6h.8M65.1 208.5h.8M67.5 220.6h.8M67.2 214.3h.8M52.2 216.3h.8M61.8 213h.8M69.3 215.2h.8M71.1 223.6h.8M56.7 205.2h.8M75.5 217.4h.8M64.2 212.9h.8M67.7 220.8h.8M66.1 214.5h.8M61.3 223.3h.8M69.8 211.8h.8M61.3 214.5h.8M71.9 228.4h.8M76.9 212.4h.8M65.7 208.8h.8M69.9 210.1h.8M70.5 216.6h.8M69.8 208.9h.8M73.3 213.5h.8M61.9 214.5h.8M68.6 215.1h.8M72.3 222h.8M78.7 214.2h.8M73.6 199.2h.8M76.8 214.6h.8M73.9 213.4h.8M70.4 218.6h.8M64.9 211.4h.8M53.9 218.2h.8M67.1 213.5h.8M73.7 216.9h.8M69 203.4h.8M68.6 213.1h.8M72.6 211.8h.8M62 213.4h.8M76.8 209.6h.8M74.1 213.8h.8M58.1 218.6h.8M79.2 217.6h.8M62.7 213.5h.8M70.5 200.6h.8M71.8 217.6h.8M62.9 211.2h.8M67.5 225.2h.8M65.3 210.3h.8M72.5 211h.8M62.8 214h.8M71.8 215.7h.8M66.1 223.5h.8M74.6 205.2h.8M62.3 209.3h.8M66.8 215.9h.8M67.5 215.3h.8M70 207.1h.8M57.3 216.6h.8M73.9 216h.8M65.9 218.2h.8M66.3 207h.8M66 219.5h.8M69.5 219h.8M65.5 218.2h.8M74.8 212.9h.8M65.5 222.3h.8M68.4 207.9h.8M65.9 222.8h.8M69.7 226.1h.8M71 216.5h.8M73 211.3h.8M73.1 214.4h.8M66.8 217.3h.8M65.7 208.2h.8M63.7 218.1h.8M69.4 215.5h.8M71.4 209.6h.8M66 224.7h.8M63.4 222.7h.8M66.7 218.1h.8M69.1 213.5h.8M68.5 220.7h.8M64.7 209.3h.8M72.1 212.6h.8M67.2 213.9h.8M66 204.2h.8M67.5 212.2h.8M61.5 211.6h.8M69.1 225.4h.8M65.4 223h.8M65.8 217.8h.8M66.8 219.5h.8M68.7 212.7h.8M60.6 220.9h.8M60.8 211.4h.8M76.5 216.5h.8M68.4 215.8h.8M69.2 213h.8M69.7 214.1h.8M66.4 217.8h.8M71.1 217.1h.8M72.6 226.2h.8M76.2 215.7h.8M62.8 221.9h.8M68.6 219.7h.8M66.4 220.2h.8M62.8 216.1h.8M61.7 227.1h.8M66.9 202.7h.8M74.2 220.9h.8M74.7 208.5h.8M69.9 223h.8M67.3 217.5h.8M67.1 213.4h.8M74.7 210.6h.8M68.4 218.7h.8M68.4 220.2h.8M58.8 222h.8M62.6 214h.8M66.6 218h.8M67.3 212.7h.8M71.5 227.5h.8M65.3 211.3h.8M65.4 208h.8M62.4 212.4h.8M71.6 212.2h.8M64.3 214.6h.8M75.4 215.4h.8M60.2 211.9h.8M63.8 210h.8M57.9 212.1h.8M65.3 211.2h.8M62 217.3h.8M64.1 201.8h.8M63.2 219.8h.8M73.7 208.4h.8M67.3 218.4h.8M72.4 212.3h.8M69.4 212.5h.8M59.5 220.5h.8M67.7 217.5h.8M67.1 209.9h.8M65.7 217h.8M62 224.1h.8M78.8 201.6h.8M72.4 212.5h.8M70.9 216.1h.8M67.2 220.3h.8M68.5 223.8h.8M69.6 206.6h.8M67.3 215.1h.8M65.4 207.9h.8M77.3 214.7h.8M67.9 205.5h.8M70.7 214.4h.8M73.2 225.1h.8M65.1 210.9h.8M73.6 221.5h.8M69.6 219.4h.8M66.6 215h.8M68.1 202.6h.8M71.6 219.7h.8M63.8 211.9h.8M69.5 219.4h.8M68.2 212.5h.8M70.1 215.9h.8M63.4 213.3h.8M66.4 219h.8M62 210.4h.8M66.3 215.3h.8M79.2 214.1h.8M73.1 219.7h.8M74.2 225.3h.8M70.8 209.5h.8M66.5 223.9h.8M66.4 193.6h.8M59.4 202.3h.8M72.2 198h.8M76.3 200.5h.8M69.3 198.7h.8M69.5 202.9h.8M58.7 201.4h.8M59.9 204.6h.8M57.3 200.4h.8M74.8 202.1h.8M77.2 203.2h.8M76.2 200h.8M69.9 204.6h.8M70.6 192h.8M69.3 192.2h.8M76 197.4h.8M73.4 201.1h.8M66.7 199.7h.8M66.3 203.7h.8M73 199.6h.8M59.7 195.3h.8M69.2 193.8h.8M63.7 204.8h.8M70.2 199.7h.8M63.7 190.1h.8" stroke="#000" stroke-opacity="0.3" stroke-width="0.75" fill="none"/>
<path d="M64.5 219.5h.8M65.7 220h.8M68.3 223.2h.8M66.7 219.6h.8M64.6 220.5h.8M67.9 221.9h.8M63.4 220.8h.8M70.3 216.2h.8M68 219.8h.8M79.8 224.2h.8M65.7 220.5h.8M59.7 218.5h.8M64.4 221h.8M59.9 219.8h.8M55 212.6h.8M68.7 227.1h.8M72.6 214.6h.8M69.6 222.6h.8M64.2 226.5h.8M66.2 222.2h.8M59.5 223.5h.8M57.3 227.8h.8M64.3 214.4h.8M66.8 214.9h.8M65.7 219.7h.8M69.1 218.7h.8M70.3 220.7h.8M66 223.2h.8M66.6 214.4h.8M68 213.2h.8M67.3 220.7h.8M65.8 215.6h.8M69.3 220.3h.8M68.7 217.4h.8M62.8 221.4h.8M69.4 214.5h.8M63.3 218.5h.8M64.5 218.8h.8M69.6 224.5h.8M65.6 225.2h.8M69.4 218h.8M62.8 224.4h.8M73.6 209.3h.8M63.2 224.9h.8M62.5 225.3h.8M66.4 214.8h.8M63.8 222.9h.8M62.1 223.9h.8M66.7 219.5h.8M67 219.2h.8M70.9 219.7h.8M71.5 220.9h.8M66.1 220.8h.8M66.7 216.9h.8M58.6 222.6h.8M65.7 228.6h.8M72.4 214.2h.8M65.7 211.9h.8M74.3 217.6h.8M67.7 222.7h.8M62.1 225.3h.8M71.1 220.8h.8M66.1 224.3h.8M69.3 225.3h.8M62.1 216.4h.8M63.4 207.6h.8M60.5 220.1h.8M63 216.8h.8M68.9 222.7h.8M68.7 220.2h.8M63.9 216.7h.8M66.5 212h.8M62.2 223.9h.8M68.8 220.7h.8M61.8 230.1h.8M71.2 216.8h.8M61.1 220.8h.8M67.9 227.2h.8M66.6 222.3h.8M59.4 219.7h.8M64.4 216.1h.8M66.4 226.2h.8M63.3 224.4h.8M73.9 208.3h.8M63 216.8h.8M65.3 229.5h.8M65 219.6h.8M66.1 219.5h.8M62.9 220h.8M65.2 210.6h.8M67.8 220.7h.8M58 219.7h.8M66.1 216.6h.8M59.8 225h.8M61.6 220.2h.8M71.4 221.7h.8M65.1 230.4h.8M65.7 226h.8M63.6 220.5h.8M64.4 217.6h.8M66.9 216.9h.8M73.6 211.5h.8M65.8 224.3h.8M67.5 223.4h.8M63.9 219.9h.8M64.6 216.1h.8M66.2 215.8h.8M69.7 218.2h.8M62.1 224.9h.8M64.8 222.8h.8M66.2 210.3h.8M71.1 226h.8M59.9 225.4h.8M64.6 221.6h.8M69.7 218h.8M60.6 225.1h.8M59 219.3h.8M70.7 222.6h.8M63.9 226.9h.8M73.3 220.4h.8M64.9 226.7h.8M58 214.8h.8M65.5 222.5h.8M65.4 220.9h.8M69 226.3h.8M70.2 220.3h.8M65.6 228.3h.8M67.1 227.5h.8M63.7 220.8h.8M67.1 218.8h.8M73 213.6h.8M68.8 215.6h.8M66.6 217.2h.8M65.8 221.3h.8M62.4 215h.8M62.8 221.1h.8M67 220.9h.8M65.5 226.6h.8M71 220h.8M70.1 217.1h.8M60.5 220.7h.8M66.8 218h.8M67.5 213.1h.8M61.2 219.3h.8M63.1 222h.8M67.4 230.1h.8M59.5 217.5h.8M69.4 213.8h.8M63.4 218.8h.8M70.1 215.9h.8M63.1 212.3h.8M66 220.9h.8M69.6 230.3h.8M67.4 216.7h.8M65.2 215.6h.8M65.1 219.4h.8M55.6 223.9h.8M73.5 219.1h.8M63.1 225.5h.8M60.5 221h.8M66.3 218.1h.8M63.2 224.2h.8M62.1 218.1h.8M62.8 223.4h.8M64 216.7h.8M66.7 211h.8M58.2 222.3h.8M66.7 214.1h.8M65.9 221.9h.8M67.6 217.2h.8M72.7 216.2h.8M71.2 215.6h.8M68.4 227.5h.8M73.6 220.3h.8M59.2 225.1h.8M62.7 215.6h.8M63.2 216.4h.8M68.3 221.8h.8M68 225.2h.8M70 230.1h.8M66.1 219.6h.8M61.9 219h.8M65.5 222.2h.8M60.4 219h.8M64.7 218h.8M63.1 222.7h.8M61.8 223.3h.8M61.2 226.8h.8M68.3 227.6h.8M62.3 214.5h.8M60.5 219.8h.8M68 214.9h.8M69.6 224.6h.8M63.4 208.4h.8M62.4 220.3h.8M71.4 222h.8M65.2 228.8h.8M71.4 222.8h.8M62.7 223h.8M63.9 216.2h.8M67.4 226.4h.8M72.6 224.8h.8M69.8 220.1h.8M59.8 217.8h.8M67 218h.8M72.8 227h.8M64.7 229.6h.8M68 229.1h.8M62.2 220h.8M67.4 214.8h.8M66.3 225.5h.8M66.8 219.6h.8M61.7 213h.8M65.6 228.6h.8M64.5 220.7h.8M69.6 224.6h.8M59.9 214.9h.8M70.7 216.7h.8M66.8 217.1h.8M63.2 215.5h.8M67.7 221.1h.8M65.2 219.2h.8M68.5 214.9h.8M62.3 224.6h.8M60.2 229.1h.8M64.5 222h.8M70.6 220.8h.8M67.5 224.5h.8M62.2 224.3h.8M69.3 223.4h.8M70.8 218.6h.8M70.1 224.5h.8M65.5 215.9h.8M58.7 226h.8M59.3 227.3h.8M62.3 217.9h.8M62.9 223h.8M69.4 217.3h.8M64.3 217.8h.8M62.3 219.5h.8M60.2 222.1h.8M65.7 218.3h.8M69.5 216.4h.8M67.2 219.8h.8M69.7 217.1h.8M69.9 229.1h.8M59.7 220.7h.8M61.4 225.9h.8M70.8 219.5h.8M66.5 227.6h.8M66.3 220.4h.8M59.2 217.5h.8M66.6 222.1h.8M65.5 225h.8M62.6 228h.8M63.8 226.1h.8M63.3 222.3h.8M64.3 229.5h.8M61.5 217.9h.8M71.2 225.1h.8M65.4 219.7h.8M60.6 219.7h.8M66.9 227.1h.8M69.1 228.3h.8M67 217.5h.8M64.2 228.7h.8M65.9 228.1h.8M59.4 218.6h.8M62.4 222.3h.8M62.5 214.4h.8M65.2 209.5h.8M63.2 223.2h.8M62.1 219.3h.8M67.2 217.2h.8M71.4 222.7h.8M63 227.8h.8M68.8 220.5h.8M63.7 216.9h.8M62.5 219.7h.8M70.8 222h.8M65.3 223.2h.8M64.4 214.7h.8M59.8 228.3h.8M64.5 229.2h.8M68.6 219.3h.8M65.1 221.6h.8M65.2 225.7h.8M66.1 224.3h.8M72.8 213.3h.8M70.2 218h.8M66.4 219.4h.8M63.8 214.2h.8M69 219.9h.8M58.3 224.6h.8M71.8 223.4h.8M66.7 220.8h.8M63.1 208.4h.8M70.1 224.4h.8M63.9 211.9h.8M69 213.8h.8M61.2 226.8h.8M68.4 221.5h.8M63.3 220.8h.8M60.3 223.1h.8M66.9 216.5h.8M58.6 214.4h.8M64.9 204.2h.8M63.5 228.3h.8M65.2 222.1h.8M63.3 212.3h.8M66.9 226.6h.8M66.7 220.9h.8M69 222.7h.8M70 218.8h.8M58.3 223.6h.8M66.5 224.8h.8M68.6 220h.8M60.8 212.7h.8M79 219.3h.8M64.2 224.4h.8M61.7 220.6h.8M64.7 223.5h.8M69 220h.8M71.2 218.5h.8M63.9 221.4h.8M53.9 211.6h.8M67.1 211.7h.8M65.9 222.7h.8M66.6 225.1h.8M70.9 221.4h.8M67.1 220.5h.8M66.7 216.8h.8M69.6 224.8h.8M66.9 221h.8M61 216.9h.8M62.8 223.5h.8M65.4 209.2h.8M63.9 215.9h.8M68.9 228.4h.8M66.8 215.9h.8M64.7 219.9h.8M61.4 222.6h.8M66.6 225.6h.8M62 221.2h.8M60 222.6h.8M65.8 219.4h.8M69.4 214.7h.8M72.1 223.6h.8M63 218.4h.8M69.7 221.3h.8M67.1 219.6h.8M70.1 225.8h.8M65.7 221.8h.8M69.7 215h.8M64.1 219.8h.8M69.8 227.3h.8M66.6 227.1h.8M66.3 221.9h.8M56.5 216.7h.8M61.2 223.7h.8M66.1 215.7h.8M64.6 226.6h.8M62.1 220.1h.8M64.4 216.1h.8M68.6 214.2h.8M68.5 221.4h.8M60.5 218.8h.8M65.9 221.4h.8M68.8 223.8h.8M69.6 217.6h.8M64.9 206.9h.8M65.2 221.4h.8M63.7 219h.8M58.7 217.7h.8M63.2 222.3h.8M67.4 218.8h.8M65 223h.8M62 226.4h.8M73.8 223.1h.8M70.3 227.7h.8M60.2 222.8h.8" stroke="#000" stroke-opacity="0.6" stroke-width="0.8" fill="none"/>
<path d="M60.8 227.4h.8M65.4 225.4h.8M64.6 227.7h.8M66.9 228.1h.8M63.9 226.2h.8M63.3 227.4h.8M63.1 224.5h.8M65.7 224.4h.8M65.2 223.2h.8M67.3 224.9h.8M60.1 225.8h.8M65.6 228.3h.8M62.6 224.5h.8M63.8 229.7h.8M60.9 229.5h.8M63.9 227.2h.8M66.4 224.1h.8M60.8 228.2h.8M63 229.2h.8M67.9 225.3h.8M63.6 223.8h.8M58.4 226h.8M66 229.2h.8M62.6 226h.8M63.3 223.9h.8M65.3 226.3h.8M64.4 227.8h.8M62.5 224.6h.8M63.5 226.6h.8M63.1 225.5h.8M65.8 225.7h.8M66.4 222.8h.8M65.5 228.1h.8M66 228h.8M61.7 222.5h.8M59.9 225.4h.8M66 226.8h.8M61.5 221.9h.8M63 224.9h.8M70.9 219.6h.8M62.4 227.7h.8M66.9 230.1h.8M56 225.3h.8M66.4 228.2h.8M60.1 223.4h.8M60.1 226.8h.8M63.7 225h.8M60.3 230.3h.8M66.1 230.1h.8M65.3 220.4h.8M62.9 218.4h.8M60 223.8h.8M64.6 223h.8M62.4 225.2h.8M65.7 230.4h.8M63.1 225.3h.8M69.1 226.6h.8M64.8 223.5h.8M66.3 221.5h.8M66.1 221.3h.8M64.4 226.8h.8M62.3 229.6h.8M61.4 225.4h.8M71.9 229.8h.8M63.8 225.5h.8M60.5 225.6h.8M59.6 224h.8M69.1 225.8h.8M62.4 229.4h.8M66.8 225.9h.8M61 225h.8M62.7 218.7h.8M65.1 228.6h.8M61.4 228.3h.8M64.3 230.5h.8M61.3 226.2h.8M62 224h.8M65.6 223.9h.8M64.2 221.6h.8M65.8 220.9h.8M64.4 228.2h.8M62.1 221h.8M60.3 219.9h.8M69.1 219.9h.8M67.8 227.4h.8M63.8 224.2h.8M62 224.2h.8M60.9 228.2h.8M62.5 225.7h.8M64.3 226h.8M61.6 228.5h.8M58.1 224.4h.8M58.5 228h.8M63.9 222.7h.8M69.7 222.1h.8M61.6 227.8h.8M64.3 227.4h.8M63.1 229h.8M65 230.2h.8M60.1 228.8h.8M65.6 220.2h.8M65.6 220.9h.8M63.8 225.1h.8M59.3 220.1h.8M67.2 225.8h.8M72 226.6h.8M64.3 227.7h.8M68.8 225.4h.8M61.6 226.3h.8M67.3 230.2h.8M64.9 226h.8M69 225.7h.8M67.6 217h.8M62.3 225.9h.8M61.5 226h.8M67.3 225h.8M63.9 229.5h.8M65.6 229.4h.8M65.8 225.4h.8M64 222.9h.8M62.8 220.5h.8M61.8 220.1h.8M61.1 224.9h.8M61.9 221.4h.8M65.3 225.3h.8M67 225h.8M63.4 228.5h.8M63.4 227h.8M66.3 216.2h.8M68.2 229h.8M63.9 228.1h.8M68 223.2h.8M66.2 227.9h.8M62.2 223.1h.8M64.1 224.3h.8M60.4 227.3h.8M66.4 222.5h.8M68 220.1h.8M67.2 223.4h.8M64 224.2h.8M64.8 222.2h.8M62.2 224.4h.8M65.6 229.9h.8M68.7 220.8h.8M66 227h.8M67 225.5h.8M63.6 228.3h.8M62.1 224.2h.8M67.5 226.5h.8M64.3 226.4h.8M63.5 225.5h.8M58.7 226.4h.8M66.5 223.9h.8M65.5 224h.8M62.4 224.7h.8M64.2 223.3h.8M68.4 228.8h.8M62 222.9h.8M63.6 228.5h.8M63 228.8h.8M63.7 227.7h.8M66 230.3h.8M60.5 227.2h.8M64 229.3h.8M64.2 222.7h.8M64.6 226.8h.8M61.3 230.4h.8M62.6 222.9h.8M64.5 224.1h.8M63.6 226.9h.8M65 230h.8M61.3 226.4h.8M64.9 227.1h.8M58.2 222.8h.8M65.1 228h.8M63.8 228.2h.8M63.6 226h.8M62.8 228h.8M62.8 226.9h.8M67.8 230.2h.8M59.9 230.5h.8M62.8 227.2h.8M64.5 227.1h.8M62.5 228.1h.8M67.1 224.4h.8M64.2 228.8h.8M63.2 227.3h.8M63.4 225.1h.8M57.5 220.6h.8M63 226.2h.8M58.7 222.4h.8M67.2 227.8h.8M63.8 230.3h.8M64 224.3h.8M59 219.6h.8M64.1 229.2h.8M59.7 221.4h.8M64 228.3h.8M66.2 229.9h.8M61.8 225.6h.8M66.4 222.9h.8M64.1 228.9h.8M65.3 224.7h.8M57.5 228.6h.8M65.1 227.5h.8M67.6 224.5h.8M63.5 223.5h.8M61.7 219.8h.8M55.5 230.1h.8M64 223.9h.8M64.9 225.3h.8M64.5 227.2h.8M61.4 225.7h.8M63.4 228.4h.8M67.7 229.2h.8M63.8 223.8h.8M58 221.3h.8M64.7 220.6h.8M67.9 226.8h.8M63.9 224.8h.8M71.9 229.8h.8M65.8 227.1h.8M66.5 224.2h.8M61.9 224.7h.8M65.1 221.1h.8M66.6 224h.8M65.4 222.8h.8M65.1 227.7h.8M59.8 227h.8M65.1 226.2h.8M72.7 228.7h.8M64.8 230.3h.8M61.9 225.1h.8M64.7 229.1h.8M63.1 226.6h.8M64.4 222.3h.8M66.8 224.6h.8M69.3 229.9h.8M66.4 224.5h.8M63.1 224.8h.8M64.3 224.9h.8M62.5 226.4h.8M66.7 229.3h.8M65.1 229.9h.8M69.4 221.6h.8M65.5 228.9h.8M67.5 228.6h.8M66.9 221.3h.8M61.3 227.9h.8M58.2 224.3h.8M66.6 226.8h.8M61.7 223h.8M65.1 226.5h.8M60.8 227.4h.8M63.9 225.3h.8M60.6 222.6h.8M64.9 221h.8M58.2 220.4h.8M60.2 226.4h.8M64.5 223h.8M62.2 229.1h.8M66.1 228.9h.8M65 226.5h.8M65.6 225.8h.8M62.2 225.9h.8M63.2 223.6h.8M65.9 227.9h.8M64.5 227.5h.8M69 219.1h.8M63.3 226.2h.8M66.5 226.5h.8M63.3 225.7h.8M65.1 224.7h.8M65 225.8h.8M66.1 227.1h.8M67 226.6h.8M63.7 228h.8M66.7 224.8h.8M61.8 230.4h.8M62.7 227.4h.8M62.9 226.9h.8M60.5 221.7h.8M63.4 228.8h.8M61.5 228.3h.8M68 230.1h.8M63.3 223.3h.8M69.5 230.1h.8M64 226h.8M64.9 224.1h.8M65.4 226.4h.8M57 225.6h.8M60.2 220.9h.8M70.6 224.6h.8M63.6 225.2h.8M58.9 227.7h.8M62.5 230.2h.8M66.6 226.4h.8M59.9 228.6h.8M66.9 228.2h.8M63.3 228.1h.8M61.9 226.9h.8M61.6 222.4h.8M62.6 224.5h.8M65.3 225.1h.8M62.1 227h.8M64.5 223.3h.8M61 230.2h.8M63.3 229.9h.8M61.7 225.6h.8M60.5 227.7h.8M69.8 225.7h.8M63.5 226.5h.8M65.9 221.8h.8M66.2 222.8h.8M60.5 224.9h.8M68.3 224.1h.8M65.4 223.2h.8M67.4 226.7h.8M64.6 226.7h.8M65.7 228.8h.8M65.3 226.9h.8M65 228.3h.8M63.7 223.9h.8M62.1 224.7h.8M64.2 226.1h.8M68.8 226.9h.8M57.3 230.1h.8M67.2 226.1h.8M69.2 217.8h.8M65.9 224.1h.8M63.3 224.1h.8M67.3 222h.8M61.2 228.5h.8M57.3 224h.8M61.4 225h.8M64.1 228h.8M59.1 218.8h.8M66.2 222.7h.8M60.5 229.1h.8M60.7 226.9h.8M64.5 224.8h.8M70.7 221.6h.8M71.4 222.8h.8M67.1 228.1h.8M62.4 229.8h.8M62.4 224.4h.8M64.2 226.3h.8M64.4 223.8h.8M65.8 224.4h.8M62.8 225.5h.8M59.5 222.9h.8M61.6 226h.8M66.8 225.9h.8M62 230.3h.8M63.2 223.6h.8M63.5 227.6h.8M63.9 227.2h.8M64 227.7h.8M66.4 225.4h.8M64.1 227.2h.8M63.5 223.8h.8M71.8 221.9h.8M60.9 225.8h.8M67.7 225.8h.8M63.9 226.8h.8M61.9 227.9h.8M57.9 227.3h.8M66.2 223.1h.8M63.2 226h.8M63.4 226.9h.8M66.2 226.8h.8M62.4 224.9h.8M66.2 222.3h.8M67.6 227.7h.8M61.1 226.1h.8M61.1 225h.8M64.3 226.7h.8M64.2 225.7h.8" stroke="#000" stroke-opacity="0.9" stroke-width="0.8" fill="none"/>
</g>
<rect x="36.5" y="169" width="73.8" height="62.5" fill="none" stroke="#6a6a6a" stroke-width="1"/>
<line x1="103.6" y1="174.3" x2="103.6" y2="222.9" stroke="#7a7a7a" stroke-width=".9"/>
<line x1="36.5" y1="205.3" x2="110.3" y2="205.3" stroke="#7a7a7a" stroke-width=".9"/>
<text transform="translate(38.1 174) scale(1 0.64)" font-size="7.6" text-anchor="start" stroke="#000" stroke-width="0.6">0.14</text>
<text transform="translate(109.7 174) scale(1 0.64)" font-size="7.6" text-anchor="end" stroke="#000" stroke-width="0.6">0.00</text>
<text transform="translate(38.1 230.7) scale(1 0.64)" font-size="7.6" text-anchor="start" stroke="#000" stroke-width="0.6">99.86</text>
<text transform="translate(109.7 230.7) scale(1 0.64)" font-size="7.6" text-anchor="end" stroke="#000" stroke-width="0.6">0.00</text>
<g filter="url(#soft)">
<path d="M152.8 192h.8M156.8 184.4h.8M162.6 197.8h.8M163.8 175.9h.8M162 194h.8M153.5 194.6h.8M166.1 203.1h.8M160.3 189.3h.8M153.7 184.5h.8M166.1 184.5h.8M160.3 200.7h.8M151.9 185.2h.8M147.9 190.3h.8M160 173.8h.8M157.7 203.7h.8M162.1 181.2h.8M161.5 198.9h.8M157 195.5h.8M162.9 172.1h.8M161.9 200.1h.8M155.7 172.1h.8M164.6 185.7h.8M161.8 180.4h.8M159.9 187.9h.8M162.5 183.8h.8M156.9 203.6h.8M156.9 193h.8M160.3 204.8h.8M156.2 201.2h.8M168.2 192.1h.8M162 195.8h.8M164.3 188.1h.8M169.5 196.1h.8M167.9 172.5h.8M171 190.9h.8M156.7 183.3h.8M168.9 187.2h.8M158.9 181.3h.8M159.9 186.2h.8M161.9 202.3h.8M161.3 203.4h.8M160.8 175.9h.8M162.4 180.6h.8M168.4 204.1h.8M150.3 175h.8M153.9 176.1h.8M154.6 185.5h.8M162.4 190h.8M161.5 183.7h.8M162.9 180.1h.8M170.2 178.6h.8M161.1 175h.8M154.1 175.9h.8M163.1 193.9h.8M169.8 187.2h.8M170.6 203.3h.8M160.7 198.2h.8M161.7 175.6h.8M162.6 171.4h.8M163.9 192.4h.8M160.3 204.3h.8M158.7 176.6h.8M168.6 187.3h.8M168.5 175.1h.8M161.1 193.1h.8M158.2 196.8h.8M158 197.3h.8M155.4 198.3h.8M155 171.8h.8M159.7 180.4h.8M157.5 174.2h.8M162.4 185.9h.8M158.5 176.4h.8M156.5 185.7h.8M159.1 176.2h.8M148.8 172.7h.8M162.8 173.2h.8M159.8 193.5h.8M167.7 200.7h.8M158.8 187.8h.8M160.3 200.4h.8M156.6 203.8h.8M171.1 195.5h.8M162.3 195.8h.8M166.9 186.3h.8M159.4 173.6h.8M163.8 196.8h.8M156.4 203.2h.8M158 191h.8M159.5 179.7h.8M156.6 197.5h.8M164.5 189.7h.8M165 176.2h.8M166.7 196.6h.8M156.5 189.5h.8M158.1 196.6h.8M160.7 196.8h.8M164.1 187.7h.8M154.8 196.7h.8M159.6 182.2h.8M165.9 196.5h.8M161.4 175.5h.8M160.4 176.4h.8M155.4 196.3h.8M159.3 203.8h.8M164.3 173.2h.8M165.8 203.8h.8M152.7 174.4h.8M162.8 201.7h.8M159.1 189.5h.8M156.3 184.8h.8M169.8 186.8h.8M164.1 193.7h.8M155.6 173.9h.8M155.9 202.5h.8M161.7 184.5h.8M153.6 183.1h.8M159.8 187h.8M163.2 190h.8M154.4 171.9h.8M161.6 180.5h.8M162.9 195.1h.8M157.6 180.3h.8M162.6 202.3h.8M164 197.9h.8M162.8 176.6h.8M157.5 179h.8M164.9 188.6h.8M159.2 184.1h.8M161.8 194.1h.8M161 188h.8M160.7 182.8h.8M151 192.6h.8M165.8 189.1h.8M163.1 178.7h.8M161.4 195.3h.8M163.7 185.3h.8M158.7 195.9h.8M160 191.6h.8M163.2 193.7h.8M150.3 198.2h.8M157.1 177.1h.8M157.8 180.5h.8M159.3 172.7h.8M158.1 190.7h.8M157 185.2h.8M161.9 177.1h.8M164.5 189.2h.8M162.9 199.7h.8M165.7 192.3h.8M163.2 194.8h.8M167.9 176.9h.8M168.4 184.9h.8M158.5 185.3h.8M156.8 187.1h.8M157.8 199.6h.8M159 191.4h.8M164.2 185.9h.8M163.2 202.3h.8M161.8 200.8h.8M157.5 180.7h.8M158.7 182.6h.8M159.8 175.9h.8M161.8 191.7h.8M146.1 182.9h.8M161.9 177.3h.8M163.1 199.7h.8M157.2 197.6h.8M167.6 180.2h.8M164.5 171.3h.8M164.1 190.5h.8M153 204.2h.8M164.6 202.9h.8M161.5 198.4h.8M161.7 189.1h.8M149.6 199.4h.8M153.2 200.2h.8M159.2 176.6h.8M154.2 204h.8M167.1 204.1h.8M155.3 201.6h.8M164.3 204.4h.8M162.5 188.1h.8M174.5 203.8h.8M161 183.9h.8M168 199.3h.8M158.6 174.3h.8M155.2 191.9h.8M162.5 194.8h.8M167 202.7h.8M158.1 201.4h.8M165.8 179.9h.8M163.6 193.7h.8M160.9 178.1h.8M161.8 189.4h.8M161.5 190.1h.8M157.8 180.6h.8M161.5 185.1h.8M162.8 199.3h.8M157.2 183.3h.8M148.1 174h.8M163.9 200.9h.8M157.5 182.7h.8M163.5 198h.8M156.6 191.6h.8M162.7 175.8h.8M159.7 176.4h.8M159.2 194.6h.8M160.6 183.1h.8M162.5 203.7h.8M152.3 194.8h.8M166.9 171.8h.8M165.8 176.6h.8M162.4 197.5h.8M152.8 192h.8M164.9 179.7h.8M160.8 183.1h.8M168.8 175.9h.8M158.6 182.5h.8M159.9 176.4h.8M165.6 190.3h.8M150.4 172.8h.8M158.9 175.7h.8M160 179.4h.8M149.5 194.1h.8M156.2 181h.8M162 171.4h.8M162.5 172.5h.8M168.9 190.1h.8M165.5 173.7h.8M154.3 201.6h.8M164.7 177.8h.8M162.7 186.8h.8M161.3 178.1h.8M155.3 191.2h.8M169.9 196.8h.8M169.4 192.8h.8M162.3 180.3h.8M156.9 183.3h.8M155.3 196.1h.8M155.4 194.6h.8M165.2 177.2h.8M152.5 174.4h.8M166.4 180.7h.8M160 192.7h.8M162.6 187h.8M164.6 203.5h.8M172.6 188.9h.8M164.5 186.2h.8M160 180.3h.8M162.7 180.7h.8M161.5 194.3h.8M161 181.5h.8M161.4 175.1h.8M156 195.6h.8M162.4 181.3h.8M154.2 171.6h.8M166.4 203.1h.8M159 198.6h.8M155.2 205h.8M164.1 194.6h.8M164.2 182.6h.8M161.4 199h.8M153.5 199.1h.8M154.5 184.3h.8M163.5 189.9h.8M171.9 182.6h.8M162.2 193h.8M162.3 190.6h.8M163.8 175.5h.8M156.7 172h.8M166.3 187.5h.8M157.8 187.5h.8M161.1 191h.8M156.9 183.9h.8M155 194.1h.8M157.2 192.8h.8M156.4 187h.8M158.9 187.5h.8M168.5 187.6h.8M162.4 195.3h.8M158.2 178.7h.8M162.9 202.8h.8M158.1 199.6h.8M166.5 198.3h.8M164.8 178.2h.8M159.2 181.3h.8M160.7 176.3h.8M161.3 187.1h.8M156 180.9h.8M155.3 185.3h.8M160.3 189.5h.8M156.5 189.7h.8M160.8 200.9h.8M165.1 184.4h.8M159.9 179.7h.8M163.8 188.3h.8M169.6 186.6h.8M158.9 191.2h.8M168 175.3h.8M156.9 171.4h.8M155.4 201.1h.8M161.9 190.5h.8M160.2 174h.8M153.8 171.5h.8M167.3 192.8h.8M165.2 200.2h.8M156.2 174.6h.8M160 202.6h.8M160.6 198.3h.8M154.9 187h.8M162.6 173h.8M154.4 181.8h.8M152.5 199.7h.8M168.1 199.9h.8M157.9 175.8h.8M157.3 187.6h.8M159.9 201.4h.8M157.5 183.6h.8M171.5 189.2h.8M163.2 175.2h.8M165.1 187.2h.8M165.4 172.8h.8M171.4 201.2h.8M150.1 186.2h.8M164.8 173.4h.8M161.9 178.9h.8M161.4 197.8h.8M166.7 202.2h.8M164.1 202.7h.8M152.5 195.4h.8M162.2 172.7h.8M160.2 194.2h.8M166.5 187h.8M150.8 189.8h.8M164.1 179.3h.8M161.7 171.3h.8M164.2 195.9h.8M162.9 187.2h.8M150.8 192.2h.8M164.4 195h.8M160.8 177.7h.8M157.1 190.7h.8M165.6 202.9h.8M160.8 185.6h.8M169.1 189.7h.8M166.3 181.8h.8M155.6 190.6h.8M164.8 201h.8M161 182.1h.8M160.9 186.2h.8M160.3 184h.8M166 200.2h.8M157.1 175.8h.8M163.1 180.4h.8M153.5 189.1h.8M162.6 181.7h.8M154.8 176h.8M154.8 182.8h.8M160.8 180.9h.8M155.5 193.5h.8M166.4 202.2h.8M155.6 177.7h.8M168.9 171.9h.8M165 190.8h.8M161.5 173.8h.8M164.1 187.9h.8M162 178.9h.8M172.6 181.7h.8M163.5 195.2h.8M158.1 191.8h.8M162.9 202.8h.8M159.3 196.5h.8M160.7 189.2h.8M158.1 180.2h.8M158.4 188.9h.8M165.2 195.9h.8M160.8 173.3h.8M164.8 203.7h.8M159.5 202.7h.8M160.6 186.5h.8M158.7 188.6h.8M167.3 171.4h.8M169.1 171.4h.8M160.6 179.2h.8M165.4 193.2h.8M154 175.3h.8M154.8 204.1h.8M164.7 202.4h.8M152.5 193.1h.8M174.7 179.7h.8M166 204.6h.8M169.6 179.4h.8M160.6 187.5h.8M154.4 203.1h.8M156.7 182.3h.8M156.8 182.9h.8M165.2 204.2h.8M156 195.4h.8M157.1 181.1h.8M168.8 175.6h.8M155.1 173.8h.8M157.9 178.5h.8M167.8 186.2h.8M173.4 195.5h.8M153 175.1h.8M149.1 183.9h.8M157.6 204.6h.8M162.1 171.2h.8M160.9 201.8h.8M158.3 187.4h.8M154.7 195.1h.8M165.3 178.1h.8M158.5 191.3h.8M157.8 184.4h.8M161.3 176.3h.8M168.3 192.8h.8M162 182.4h.8M174 175.7h.8M159.5 189.3h.8M164.2 188.6h.8M150.5 174.7h.8M157.9 172.7h.8M161 203.6h.8M157.6 174.4h.8M157.2 181.2h.8M158.4 189.3h.8M156.3 190.1h.8M158.4 203.1h.8M161.5 192.9h.8M163 178.2h.8M155.8 177h.8M160.1 184.5h.8M157.1 173.5h.8M165.7 204.5h.8M169.8 200.4h.8M162.1 199.7h.8M163.2 171.7h.8M159.8 199.6h.8M163.6 176.7h.8M160.1 178h.8M154.8 203.6h.8M167.4 183h.8M172.4 194.1h.8M164.3 179.8h.8M161.2 180h.8M163.6 199h.8M169.6 202.7h.8M158.9 186.3h.8M164.9 192.1h.8M162.1 171h.8M150.4 171h.8M159.4 197.9h.8M164.1 173.9h.8M163 202.8h.8M160.6 201h.8M155 198.4h.8M162.5 202.6h.8M162.1 195.3h.8M164 182.2h.8M170.2 172.2h.8M161.5 196.6h.8M166.7 171.2h.8M163.7 203.6h.8M175.1 180.9h.8M163.8 184.7h.8M174.5 178.3h.8M156.3 197.9h.8M155.2 203.4h.8M163.7 203.3h.8M160.6 192.6h.8M167.9 187.4h.8M165.4 199.7h.8M165.5 189h.8M157.4 201h.8M161.2 192h.8M165.6 200h.8M158.6 199h.8M161.5 184.6h.8M167.5 175.8h.8M161.2 186.9h.8M162.6 173h.8M167.6 186.5h.8M163.7 187h.8M154.1 201.7h.8M162.1 192h.8M161.6 188.1h.8M163.2 186.3h.8M173 202h.8M167.2 171.2h.8M162.2 199.7h.8M158.2 187.4h.8M165.7 187.4h.8M162.4 179.8h.8M168.1 187.1h.8M163.1 173.9h.8M166.5 200.4h.8M157.5 193h.8M160.6 203.9h.8M161.8 196.8h.8M157.4 180.7h.8M163.4 176.1h.8M159.6 203.7h.8M159.6 195.3h.8M158 184.1h.8M161 201.4h.8M153.3 180.4h.8M166 178.9h.8M163.5 177.6h.8M164.3 190.7h.8M167.7 202.1h.8M162.8 182.8h.8M159.9 176.5h.8M168.1 201.9h.8M159.5 200.6h.8M162.2 183.5h.8M150.6 186.6h.8M158.7 178.5h.8M161.3 185.1h.8M164.7 189.4h.8M164 188.3h.8M166.2 202.1h.8M158.6 180h.8M158.5 202.8h.8M162.4 193.8h.8M157.3 204.4h.8M159.3 203.1h.8M161.6 201.6h.8M151.3 174.8h.8M153.3 204.3h.8M163.3 200.5h.8M157.7 179.9h.8M165 173.4h.8M158.8 185.1h.8M156 197.5h.8M164.3 180.4h.8M159.9 177.5h.8M163 178.6h.8M157.8 184.3h.8M157.2 182.2h.8M159.5 204.8h.8M157.2 180.5h.8M160.2 176.9h.8M156.1 185h.8M162.8 202.3h.8M165 177.4h.8M163.4 179h.8M154.8 178.8h.8M167.2 191.2h.8M152.4 178.7h.8M162.1 194.5h.8M161.6 193.8h.8M164.9 177.1h.8M157.7 183.5h.8M158.6 204.7h.8M166.9 179.4h.8M166.7 176h.8M156 199.5h.8M159.7 201.5h.8M157.2 184.7h.8M148.1 181.9h.8M166.7 200.9h.8M157.8 173.5h.8M161.4 190.9h.8M162.3 180.8h.8M154.6 203.1h.8M165.6 189.9h.8M157.7 183.9h.8M153.8 188.2h.8M162.7 187.4h.8M161.9 202.8h.8M158.4 172.9h.8M160.8 191.6h.8M169.5 196h.8M164.5 180.8h.8M161.1 186.7h.8M159.3 181.6h.8M170.2 181.5h.8M158.9 176.4h.8M151.3 197.4h.8M167.2 175.9h.8M158.6 198.5h.8M150.2 179.6h.8M154.1 188.4h.8M154.3 174.6h.8M150.1 181.2h.8M157.3 198.6h.8M158.1 182.7h.8M169.2 196.9h.8M160.6 197.9h.8M158.1 203.9h.8M160.2 182.8h.8M162 203.6h.8M166 202.6h.8M167.6 179.7h.8M151.3 176h.8M153.7 174.6h.8M161 191.5h.8M170.6 202.5h.8M158.6 192.6h.8M166.5 183.4h.8M158.3 194.9h.8M158.2 202.5h.8M159.8 198.4h.8M168 191.9h.8M158.7 174.7h.8M161.4 202.1h.8M162.7 194.9h.8M165.7 172.5h.8M161.4 201.3h.8M165.5 194h.8M169.6 190.1h.8M165.1 180.6h.8M159.2 178.4h.8M160.4 184.1h.8M162.5 192.2h.8M159.8 176.1h.8M155.5 185.2h.8M156.4 177.2h.8M158.3 176.1h.8M151.3 184.3h.8M175.7 172h.8M165.4 183.6h.8M158.3 197.7h.8M157.4 173.8h.8M167.3 175h.8M154.1 184.1h.8M156 204.4h.8M166.3 194.8h.8M160.7 189.5h.8M165 174.4h.8M161.7 171.8h.8M161.1 203.6h.8M157.9 191h.8M163.5 177.4h.8M162.3 188.3h.8M162.3 178.4h.8M159 180.1h.8M167.1 197.1h.8M161.5 197.3h.8M164.1 194.3h.8M155.3 203.6h.8M152.8 173.6h.8M164.8 187.1h.8M157.9 193.8h.8M156.9 181.1h.8M163 196.6h.8M167.8 187.8h.8M159.7 190.4h.8M159.7 172.4h.8M163.3 201.8h.8M163.9 202.9h.8M161.5 183h.8M152.1 183.9h.8M165 201.9h.8M157.3 190.4h.8M171.6 190.9h.8M157.7 200h.8M162.2 193.8h.8M160.9 191h.8M162.1 201.2h.8M173.7 201.3h.8M159.9 202h.8M166.3 203.1h.8M161.2 194.5h.8M159.4 178.1h.8M165 199.5h.8M162.9 171.9h.8M160.2 202.4h.8M156.3 171.2h.8M163.3 181.4h.8M178.2 175h.8M160.5 177.3h.8M164.3 196.9h.8M158.3 187.1h.8M178.6 174.5h.8M154 196.1h.8M158.2 176.4h.8M151.8 171.6h.8M164.6 176h.8M162 190.7h.8M163.3 194.3h.8M161.1 184.1h.8M169 174h.8M168.1 177.7h.8M167.1 175.4h.8M147.7 186h.8M156.6 191.9h.8M161.7 179.4h.8M165.6 172.4h.8M147.4 194.3h.8M169.2 183.2h.8M162.9 194.9h.8M169.2 180.6h.8M155.3 199h.8M157.3 202.7h.8M155.9 196h.8M158 177.5h.8M157.3 175.5h.8M152.4 188.6h.8M167.7 191.1h.8M163.9 200.2h.8M157 179.2h.8M150.8 197.6h.8M167 180.3h.8M149.7 201.1h.8M155.6 204.8h.8M154.8 172.9h.8M157.4 201.8h.8M163.4 192.3h.8M165.4 171.9h.8M162.7 182.4h.8M155.2 202h.8M167.6 199.8h.8M167.1 175.5h.8M165 203.7h.8M173 203.4h.8M155.7 200h.8M157.2 191.8h.8M157.2 191.9h.8M158 187.5h.8M164.3 171.3h.8M162.1 190.1h.8M159 204.9h.8M166.9 197.9h.8M160.7 188.6h.8M158.2 172.5h.8M157.9 202.3h.8M154.5 176.4h.8M159.9 192.8h.8M156.7 192.7h.8M160.5 189.5h.8M162.9 180h.8M163.3 189.7h.8M158.7 189.5h.8M170.6 194.4h.8M155.2 192.9h.8M164.6 190.3h.8M161.1 171.3h.8M162.4 196.7h.8M157.6 196.3h.8M157.1 178.1h.8M164.2 204.2h.8M152.3 179.3h.8M161.7 201.4h.8M153.6 175.2h.8M151.8 175.9h.8M161.3 201.4h.8M158.1 187.2h.8M170.7 200.4h.8M162.6 216.6h.8M169.6 219.4h.8M162.6 213.6h.8M164.3 210.8h.8M160.9 205.7h.8M152.2 210.9h.8M168.1 208.5h.8M160.6 205.9h.8M165.2 218.3h.8M162.5 215.3h.8M174.1 215.7h.8M165.2 212.6h.8M165 208.2h.8M161.8 206.7h.8M157.4 220.4h.8M164.8 212.2h.8M168.9 206.1h.8M162.4 216.9h.8M149.3 212.7h.8M157.7 218.3h.8M174 217h.8M159 217.3h.8M163.5 212h.8M150.9 210.9h.8M158.9 207.2h.8M157.2 206.8h.8M167.1 216.6h.8M166.1 221.2h.8M165.7 217.5h.8M168.5 212h.8M159.4 214.3h.8M172.6 205.8h.8M160.9 219.1h.8M167.9 205.4h.8M175.1 208.7h.8M159.2 221.7h.8M164.6 213.5h.8M161.6 211.4h.8M163.1 219.2h.8M164.2 216.7h.8M161.9 211.2h.8M162.4 215.9h.8M166.6 212.3h.8M154.4 217.2h.8M157.9 206h.8M159.4 216.8h.8M154.1 207.1h.8M164.4 208.3h.8M159.6 208.7h.8M157.2 217.2h.8M154.1 220.5h.8M157 213h.8M165 217.1h.8M154.7 215h.8M167.8 212.9h.8M166.1 220.7h.8M164.1 218h.8M152.2 212.9h.8M157.7 219.9h.8M168.6 206.4h.8M160 216.9h.8M157.7 209.2h.8M158 210.2h.8M164.6 212.6h.8M151.3 207.1h.8M168.5 212.2h.8M163.7 206.2h.8M156.1 218.3h.8M166 211.2h.8M146 211h.8M154.9 206.9h.8M164.1 216.2h.8M171.3 211.6h.8M155.1 206.4h.8M153.7 220.7h.8M161.9 208.7h.8M162.8 205.6h.8M157.7 210.1h.8M157.5 216.4h.8M171.6 220.6h.8M156.6 220.5h.8M152.5 212.3h.8M159.7 211h.8M170.1 205.5h.8M166.4 213.9h.8M162 219h.8M154.4 217.5h.8M161.7 217.9h.8M179.4 209.3h.8M165.8 209.9h.8M168.5 211.2h.8M152.6 214.1h.8M159.7 211.1h.8M158.8 221h.8M172.6 210.1h.8M160.4 206.7h.8M161.8 212.8h.8M159.3 205.1h.8M145 205.7h.8M169 212.2h.8M150.8 216.7h.8M158.7 215.1h.8M152.7 209.3h.8M158.5 212.1h.8M159.4 209.5h.8M159.1 206.3h.8M170.9 212.2h.8M154.9 214.8h.8M160.3 210.8h.8M165.4 213.1h.8M159.7 217.5h.8M159 206h.8M173.8 205.4h.8M166.8 212.5h.8M157.1 212.3h.8M163.7 220h.8M156.7 218.3h.8M164.9 209.5h.8M153.5 218.9h.8M167 212.9h.8M164.4 216h.8M164.2 208.4h.8M162.1 210.1h.8M163.5 219.8h.8M156.9 207.8h.8M162.5 205.7h.8M165.7 206.3h.8M164.7 215.1h.8M156.5 212.7h.8M165.5 215.6h.8M154.9 210.9h.8M157.7 206.9h.8M157 208.2h.8M158.4 221.5h.8M161.3 218.1h.8M166.2 216.3h.8M168.5 221.9h.8M164.8 216.7h.8M157.6 206.6h.8M166.6 210.7h.8M168 217h.8M157.5 219.1h.8M154.9 217.3h.8M161.1 219.5h.8M173.8 213.5h.8M160.2 208h.8M161 214.5h.8M166.3 217.3h.8M155 218.4h.8M155.5 206.5h.8M161.3 208.2h.8M167.1 220.8h.8M160.2 217.9h.8M158.1 210.3h.8M152 206.3h.8M171.6 215.4h.8M154.5 216.4h.8M170 206.4h.8M157.7 221.7h.8M169 209.3h.8M172.3 216.1h.8M156.8 211h.8M165.6 206.1h.8M166.5 208.2h.8M169.6 215h.8M160.2 219.3h.8M169.5 220.5h.8M162.7 213.3h.8M156 210.9h.8M168.1 208.9h.8M169.7 205.3h.8M162 219.6h.8M161.3 207.2h.8M166.7 211.4h.8M172.2 215.5h.8M154.6 217h.8M168.5 221.2h.8M174.3 210.1h.8M156.7 210.4h.8M165.5 212.3h.8M162.4 218.8h.8M164.2 218.4h.8M169.6 220.9h.8M152.4 208.7h.8M159 215.9h.8M153.7 214.7h.8M160.1 205.5h.8M173.3 208.2h.8M155.7 215.2h.8M159.2 206.2h.8M158.4 217h.8M164.5 210.5h.8M160.1 205.3h.8M157.3 221.2h.8M157.4 221.4h.8M161.1 211.3h.8M154.6 213.1h.8M147.5 215.4h.8M169.1 219.3h.8M162.8 209.1h.8M158.4 216.6h.8M161 214.7h.8M166.4 213.7h.8M156.8 210.8h.8M162.2 213.2h.8M158.8 207.8h.8M169.4 218.4h.8M147.3 213.6h.8M153.5 215.2h.8M170.5 216.8h.8M154.8 214.4h.8M157.2 212.2h.8M154.6 211h.8M147.9 210.6h.8M161.4 212h.8M166.1 213.5h.8M163.8 218.4h.8M154.5 220.7h.8M158.8 217.7h.8M171.9 221.1h.8M160.8 221h.8M156.3 219.5h.8M167.3 220.6h.8M160.2 211.6h.8M150.7 213.6h.8M156.8 216.9h.8M167.5 221h.8M160.9 206.1h.8M161.4 214.9h.8M165.8 212.6h.8M157.3 205.5h.8M152.9 216.3h.8M161.8 207h.8M158.1 215.8h.8M161.9 206.4h.8M157.5 209.5h.8M157.4 220.2h.8M153.4 214.9h.8M163.7 210h.8M173.7 208.3h.8M154.5 207.7h.8M168.9 220.1h.8M166.1 215.9h.8M158.1 207.7h.8M155.8 215.1h.8M165.2 207.2h.8M159.8 209.7h.8M160.2 216.1h.8M159.2 219.3h.8M173.5 221.1h.8M152.2 220.6h.8M164.6 212.8h.8M173.4 211.2h.8M163 217.4h.8M174.9 214.9h.8M162 205.8h.8M163 212h.8M166.8 212.5h.8M157.7 211.6h.8M162.2 209.9h.8M165.5 206.9h.8M158 219.8h.8M164.9 217.6h.8M168.7 207.6h.8M155 221h.8M161.3 210.9h.8M164.5 217.5h.8M157.7 208.5h.8M168.2 220.9h.8M169.5 217.6h.8M158.7 217h.8M163.6 219.8h.8M158.3 216.9h.8M161.4 219.4h.8M164.9 210.4h.8M161.2 218.5h.8M163.2 215.4h.8M159.4 214.1h.8M169.3 220.8h.8M167.8 212h.8M158.4 214.6h.8M165.5 207.2h.8M178.1 209.3h.8M159.4 216.3h.8M170.5 207.9h.8M178.3 207.5h.8M161 219.1h.8M167.1 206.9h.8M149 221.2h.8M170.5 211.2h.8M166.2 220.3h.8M167.3 212.6h.8M163.4 209.4h.8M168.1 213.6h.8M169 218h.8M166.6 217.6h.8M160.6 222h.8M161.3 208.1h.8M162.5 207.7h.8M161 214.3h.8M150 223.8h.8M149.2 219.1h.8M148.6 222.4h.8M147.5 223h.8M147.8 222.8h.8M148 221.5h.8M151.1 222h.8M149.2 224h.8M146.3 221.7h.8M146.5 221.7h.8M145.9 223.8h.8M148.1 219.6h.8M148.9 220h.8M145.4 222.9h.8M148.1 220.6h.8M149.3 223h.8M148.4 224.1h.8M148.6 224.6h.8M148.7 222.7h.8M142.9 221.4h.8M151.5 220.9h.8M147.8 221.2h.8M144.8 223.3h.8M151.5 225.4h.8M147.6 220.3h.8M147.1 223.1h.8M147.3 223.6h.8M148.6 219.6h.8M146 223.8h.8M149.6 222.1h.8" stroke="#000" stroke-opacity="0.3" stroke-width="0.75" fill="none"/>
<path d="M165 223.5h.8M159.2 224.4h.8M167.1 220.7h.8M164.1 226.6h.8M175.2 219.4h.8M169.1 222.3h.8M175.1 224.4h.8M160.5 223.2h.8M168.8 225.8h.8M165.8 223.4h.8M167.6 224.7h.8M159.7 223.7h.8M177.9 221.6h.8M156.5 224.2h.8M166.4 223h.8M157.2 224.1h.8M167.1 225h.8M160.9 217.8h.8M166.7 228.4h.8M168.2 222.5h.8M161.6 226.6h.8M158.3 221.6h.8M166.5 219.4h.8M159.2 227.3h.8M166.7 223.1h.8M171.7 222.7h.8M163.7 225.5h.8M165.7 221.1h.8M175.7 222.6h.8M158.7 222.3h.8M163.6 222.7h.8M164.4 222.3h.8M168.6 223.3h.8M176.5 223.9h.8M176.2 223.4h.8M176.6 222.8h.8M173.5 223.5h.8M175.9 221.2h.8M160.6 226.7h.8M165.2 224.4h.8M172.4 224.6h.8M161.9 219.8h.8M156.4 220.9h.8M161.8 221.2h.8M169 219.8h.8M156.7 223.6h.8M172.7 225.2h.8M163.6 225.4h.8M177 217.7h.8M157.8 219.8h.8M166.9 227.4h.8M174.6 223.8h.8M165.4 224.7h.8M168.7 221.9h.8M170.3 221.8h.8M165.6 222.7h.8M162.7 221.5h.8M176.2 227.1h.8M173.1 222.8h.8M160.5 220.6h.8M155.9 222.2h.8M167.7 221.7h.8M162.9 222.9h.8M169.4 222.2h.8M176.1 220.8h.8M162.4 221.8h.8M164.9 223.6h.8M167.6 223.1h.8M158 219.5h.8M166.6 225.8h.8M164.1 221.8h.8M163.6 224.5h.8M172.2 224.3h.8M161.9 224.4h.8M171.9 218.5h.8M167.8 221.6h.8M159.7 222.7h.8M162.6 221.7h.8M160.7 224h.8M172.1 220.6h.8M167.4 221.9h.8M159.7 225.7h.8M169.2 222.5h.8M158.4 227.1h.8M168.9 228h.8M161.2 221.8h.8M157.1 223.1h.8M171.4 223.2h.8M170.3 222.6h.8M158.4 224.1h.8M165.4 221h.8M159.4 225.9h.8M168.2 170.9h.8M157 171.4h.8M160.7 170.8h.8M170.5 170.6h.8M163.7 170.5h.8M162 170.9h.8M163 171.5h.8M165.3 171h.8M158 171.2h.8M164 171h.8M171.8 171.4h.8M171.5 171.1h.8M161.3 170.7h.8M159.7 171.6h.8M161 171h.8M171.3 171.3h.8M167 171.3h.8M168.1 171.5h.8M158.5 171.4h.8M158.6 171.9h.8M171.3 171.3h.8" stroke="#000" stroke-opacity="0.6" stroke-width="0.8" fill="none"/>
<path d="M170.4 221.8h.8M166.6 222.8h.8M162.6 221.9h.8M160.9 221.9h.8M170.3 221.2h.8M165.6 223.2h.8M172.6 223.5h.8M162 223.3h.8M175.1 221.1h.8M170.5 223.5h.8M172 222.7h.8M158.4 221h.8M172.2 222.4h.8M159.6 223.3h.8M160.8 220.6h.8M157.6 223h.8M167.6 221.6h.8M170.6 221.7h.8M174.2 223.5h.8M159.9 223.4h.8M163 223.4h.8M171.4 223.1h.8M158.5 221.5h.8M163.9 222.2h.8M169.3 222.9h.8M163.1 222.9h.8M173.8 222.4h.8M165.5 223.4h.8M168.7 222.9h.8M174.6 222.9h.8M169.3 223h.8M164.6 219.7h.8M168.6 222.2h.8M168.4 222.3h.8M159.9 222.5h.8M160.9 219.5h.8M160.5 221.6h.8M166.5 219.5h.8M170.4 223.1h.8M172.8 223.1h.8M166.2 223.3h.8M164 221.5h.8M174.7 222.7h.8M173.3 222h.8M172.7 222.3h.8M159.6 223.5h.8M162.3 223.4h.8M162.7 221.4h.8M157.9 221.8h.8M173.4 221.7h.8M158 221.7h.8M176.6 223h.8M172.7 221.9h.8M158.3 223.1h.8M162 219.6h.8M168.3 221.9h.8M160.2 220.7h.8M171.4 223.1h.8M169.4 221.7h.8M159.4 220.3h.8M165.8 222.9h.8M173.5 221.7h.8M159.9 221.3h.8M157.5 222.3h.8M175.3 222.7h.8M156.2 222.1h.8M156.3 219h.8M163.1 221.1h.8M176.9 219.7h.8M175.4 221.8h.8M164.9 222.9h.8M171.5 222.9h.8M168.8 223.3h.8M161.2 222.1h.8M172 222.9h.8M162.9 223.2h.8M162.4 222.3h.8M159 223.5h.8M156.8 223.3h.8M165.9 222.3h.8M167.7 221.8h.8M162.3 219.7h.8M168.5 221h.8M159.1 221.7h.8M159.4 222.7h.8M162.3 221.1h.8M169.6 223.3h.8M172.2 222.3h.8M164.6 222.6h.8M162.5 222.9h.8M158.3 223.1h.8M172.8 219.6h.8M167.6 221.5h.8M161.2 220.9h.8M174.4 222.9h.8M175 221.3h.8M168.5 220.1h.8M156.4 221.6h.8M163.2 223.5h.8M169.3 221.3h.8M173.6 221.7h.8M170.2 222.9h.8M156.8 223.4h.8M167.3 218.1h.8M165.4 221.5h.8M164 221.8h.8M169.3 222.8h.8M167.7 223.4h.8M166.6 222.8h.8M174.2 222.9h.8M158.3 221.7h.8M169.5 222.4h.8M166.6 223.4h.8M162.7 222.2h.8M170.9 222.6h.8M161.3 218.5h.8M162.6 221.2h.8M169.6 220h.8M175 222.4h.8M167.9 223.1h.8M161.4 223.1h.8M174.6 222.6h.8M161.9 221.8h.8M165.2 218.5h.8M162.3 221.2h.8M163.5 222.4h.8M172.9 222.9h.8M163.9 221.6h.8M166.4 221.9h.8M167.7 221.7h.8M165.3 221.7h.8M167.9 223.4h.8M156.8 223.1h.8M173.2 222.6h.8M173.1 223h.8M169 222.7h.8M175.6 222.6h.8M156.2 223h.8M165.1 222.8h.8M168.7 223h.8M175.2 222.8h.8M169.6 223.2h.8M161.8 222.5h.8M167.3 222.2h.8M169.4 221.3h.8M158.4 222.9h.8M158.4 222h.8M163.1 222.7h.8M158 221.2h.8M174.9 221.6h.8M157 221.4h.8M157 223.2h.8M171 221.7h.8M160.5 222.3h.8M162.4 222.6h.8M168.7 223h.8M166.2 220.9h.8M170.3 223.4h.8M171.2 223.1h.8M163.5 220.6h.8M171.4 223.4h.8M173.3 223.4h.8M174.2 220.8h.8M168.6 223.4h.8M176.4 222h.8M160.7 222.4h.8M155.7 222.5h.8M156.5 222.5h.8M165.4 222.9h.8M157.3 220.1h.8M156.4 221.9h.8M173.5 221.1h.8M159.8 221.5h.8M159.1 223.5h.8M167.3 222.9h.8M173.9 220.1h.8M172 222.4h.8M170.4 223.2h.8M168.3 223.3h.8M169.8 223.4h.8M175.5 223.2h.8M173 222.2h.8M160 222.8h.8M163.4 221.4h.8M168 223.3h.8M164.6 223h.8M162 221.3h.8M164.8 222.2h.8M162.4 222.8h.8M172.1 222.6h.8M173.2 221.4h.8M167.1 222.9h.8M157.7 222.9h.8M168.3 223h.8M163.2 221.7h.8M164.2 222.3h.8M167.4 222.7h.8M164.5 222.8h.8M159.2 222.9h.8M165 220.9h.8M171.7 223.3h.8M157.2 222.9h.8M168.2 223.4h.8M161.9 220.3h.8M175.3 221.3h.8M160.7 219.6h.8M158.2 223.1h.8M171.3 221.1h.8M157.6 222.9h.8M157.9 222.4h.8M160.2 220.9h.8" stroke="#000" stroke-opacity="0.9" stroke-width="0.8" fill="none"/>
<rect x="156.3" y="222.8" width="20.5" height="8.3" rx="3" fill="#000" fill-opacity=".95" filter="url(#soft2)"/>
</g>
<rect x="134.3" y="169.4" width="70.7" height="62" fill="none" stroke="#6a6a6a" stroke-width="1"/>
<line x1="198.6" y1="174.7" x2="198.6" y2="222.8" stroke="#7a7a7a" stroke-width=".9"/>
<line x1="134.3" y1="205.3" x2="205" y2="205.3" stroke="#7a7a7a" stroke-width=".9"/>
<text transform="translate(135.9 174.4) scale(1 0.64)" font-size="7.6" text-anchor="start" stroke="#000" stroke-width="0.6">14.13</text>
<text transform="translate(204.4 174.4) scale(1 0.64)" font-size="7.6" text-anchor="end" stroke="#000" stroke-width="0.6">0.00</text>
<text transform="translate(135.9 230.6) scale(1 0.64)" font-size="7.6" text-anchor="start" stroke="#000" stroke-width="0.6">85.87</text>
<text transform="translate(204.4 230.6) scale(1 0.64)" font-size="7.6" text-anchor="end" stroke="#000" stroke-width="0.6">0.00</text>
<g filter="url(#soft)">
<path d="M79.4 292.5h.8M74.4 305.3h.8M87.1 294.2h.8M72.8 294.1h.8M73.8 298.7h.8M88 288.8h.8M82.4 295.6h.8M76.7 299.6h.8M72.8 292h.8M78.1 292.6h.8M74.7 299.7h.8M68.6 301.7h.8M89.9 294.5h.8M84.3 291.2h.8M76.9 294h.8M72.5 300.5h.8M82.1 300.6h.8M66.8 295.6h.8M75.8 289.1h.8M87.9 296.6h.8M82.3 303.2h.8M75.1 303.5h.8M64.8 302.7h.8M85.9 290.9h.8M69.3 308.1h.8M74.8 301.9h.8M82.8 296.9h.8M78.4 290.6h.8M70.3 292.6h.8M87 287.4h.8M70.9 298.2h.8M78.6 294h.8M71.4 288.1h.8M73.1 290.8h.8M75.1 291.7h.8M66.9 302.3h.8M62.4 299.7h.8M75.6 293.3h.8M69.1 291.6h.8M75.3 286.3h.8M87 296.6h.8M78.6 295.6h.8M87.6 295.8h.8M84.9 292.8h.8M92.7 292.8h.8M70.2 292.7h.8M86.1 303.2h.8M81.7 305.7h.8M70.5 292.4h.8M74.9 301.9h.8M71.2 295.8h.8M69.2 296.7h.8M85 293.4h.8M85.5 295.6h.8M73.7 298.2h.8M66.7 302.7h.8M88.8 290.6h.8M77.6 287h.8M83.1 297.2h.8M80.5 293.3h.8M78.2 292.6h.8M76.8 292.7h.8M73.4 292.6h.8M58 292.1h.8M85.7 302.5h.8M74 296h.8M89 288.3h.8M81.7 287.8h.8M81.8 294.7h.8M77.7 294.7h.8M94.2 283.4h.8M67 296.8h.8M80.6 292.3h.8M81.4 295.7h.8M79.4 301.1h.8M71.5 296.8h.8M86.1 293.2h.8M88.7 291.8h.8M65.1 290.6h.8M79.3 300.5h.8M75.4 295.5h.8M78.3 298.6h.8M70.5 295.1h.8M71 297.8h.8M85.3 285.1h.8M80.2 294.8h.8M84.4 292.2h.8M78.7 290h.8M84.9 306.4h.8M80.6 303h.8M91.2 294.5h.8M79.3 296.5h.8M87.1 292.6h.8M84.6 291.8h.8M83.9 295.6h.8M64.6 293.9h.8M82.5 295h.8M80.6 306.3h.8M68.1 292.4h.8M72.3 295.8h.8M74.7 294.7h.8M71.8 292.2h.8M94.2 307.6h.8M77.3 296.2h.8M65 293.9h.8M84.7 297.7h.8M76.9 304.3h.8M102.8 294.9h.8M70.2 298.7h.8M85.8 291.8h.8M78.2 300.9h.8M81.9 291.8h.8M86 291.9h.8M91.3 295.8h.8M63.3 291.8h.8M85.2 304.4h.8M81.7 294.5h.8M97.5 289.7h.8M87.2 288.6h.8M64.4 290.7h.8M85.4 297h.8M77.1 297.8h.8M72.9 303h.8M79.6 298.4h.8M68 295.5h.8M68.8 299h.8M65.4 299.3h.8M87.3 298.5h.8M89.1 303.1h.8M76.3 293.6h.8M74.9 295.8h.8M77 294.8h.8M92.8 296.2h.8M75.1 302.8h.8M69.5 295.5h.8M83.2 298.9h.8M68.4 289.4h.8M68.7 291.9h.8M88.2 295.4h.8M81.4 291.8h.8M74.3 298.8h.8M81.5 294.4h.8M86.5 293h.8M74.1 293.7h.8M73.7 299.5h.8M66.6 297.8h.8M63.5 287.6h.8M78.5 297.1h.8M77.4 286.2h.8M88.1 300.8h.8M71.7 301.8h.8M73.6 295.9h.8M72.2 291h.8M66.2 294.4h.8M83.9 294h.8M83.6 299.7h.8M90.7 300.5h.8M79 297h.8M77.6 291.9h.8M68.9 303.7h.8M71.5 298.4h.8M90.6 296.8h.8M74.2 297.6h.8M91.3 291.5h.8M71.5 293.5h.8M85 299.6h.8M74.2 296.2h.8M86 290.4h.8M77.7 297.8h.8M84.3 299h.8M67.4 295.5h.8M74.1 296.9h.8M82.2 295.4h.8M80.7 306h.8M93.6 300.3h.8M79.2 305.3h.8M73.7 287.7h.8M77.2 291.5h.8M60 290.8h.8M75.4 293.7h.8M81.7 298.7h.8M83.6 290.5h.8M84.6 303.3h.8M76.7 294.8h.8M82.5 298.6h.8M78.9 297.7h.8M71 287.5h.8M73.8 293.9h.8M77.9 293.2h.8M71 296.7h.8M82.5 294.5h.8M75.4 296h.8M74.1 298h.8M74.2 286.7h.8M93.1 297.6h.8M85.8 294.9h.8M77.4 296.1h.8M79.7 295.2h.8M71.8 298.6h.8M79.1 304.8h.8M72.3 294.1h.8M78.3 287h.8M71.8 286.7h.8M73.5 296.5h.8M79.7 300.7h.8M80.5 300.5h.8M83 285.6h.8M79.9 288.8h.8M83.9 301.7h.8M89.7 297.4h.8M78.9 289.6h.8M84.7 296.9h.8M76.6 289.8h.8M67.8 293.6h.8M85.3 295.7h.8M71.7 299.5h.8M87.4 297h.8M76.8 297.1h.8M77.7 298.4h.8M70 301.5h.8M79.1 306.5h.8M61.9 291.9h.8M66.7 296h.8M81.9 293.1h.8M80.2 296.8h.8M72.4 295.7h.8M69.4 293.8h.8M74 292.6h.8M70 297.3h.8M78.3 304.1h.8M61.7 295.3h.8M79.2 298.3h.8M80.6 306.5h.8M72.6 288.2h.8M83.1 291.9h.8M79.8 294.4h.8M95.2 291.2h.8M91.4 297.8h.8M80.2 296.3h.8M70.4 296h.8M79.7 294.1h.8M68.7 293.3h.8M76.7 295h.8M67.2 296.5h.8M87.8 295.1h.8M90.2 297.1h.8M75.1 291.1h.8M68.9 292.5h.8M77.1 290.8h.8M76.5 303.8h.8M63 297h.8M79.8 297.5h.8M81.3 295.7h.8M75.9 294.8h.8M71.5 292.6h.8M79.4 296.2h.8M80.1 292.5h.8M69.1 305.5h.8M82.7 299.9h.8M80.7 299.3h.8M86.9 302.2h.8M78.4 298.4h.8M85.7 288.8h.8M78.9 297.6h.8M71.6 293.2h.8M87.9 297.9h.8M78.4 293.5h.8M80 291.4h.8M65.7 300.9h.8M83 291.7h.8M90.1 301.9h.8M72.9 292.6h.8M82.2 295.8h.8M82.9 301h.8M74.2 297.3h.8M68.5 298.9h.8M87.5 283.2h.8M69.3 297.5h.8M66 296.1h.8M83.6 296.5h.8M84.5 295.5h.8M87.5 294.6h.8M75 291.6h.8M64.6 295.3h.8M79.1 295h.8M71 293.9h.8M86.6 296.8h.8M88.5 297.9h.8M75.4 306.1h.8M71.5 288.3h.8M73.8 297h.8M85.1 297.1h.8M74.4 302.4h.8M81.9 296.9h.8M75.1 303.8h.8M89.2 292.1h.8M88.8 297.3h.8M77 301.4h.8M74.1 296.5h.8M89.2 297h.8M68.2 293.1h.8M81.1 292.8h.8M79.3 299.3h.8M74.7 290.3h.8M81.9 303.8h.8M78.2 298.1h.8M83.6 297.7h.8M69.4 298.3h.8M83.8 292.6h.8M82.7 292.5h.8M70.7 292.2h.8M88.1 300.3h.8M80.6 303.8h.8M73.3 300.3h.8M75.7 286.6h.8M85.9 297.5h.8M67.8 294.4h.8M83.1 294.5h.8M85.4 289h.8M96.7 295.5h.8M73.3 293.6h.8M73.8 288.6h.8M70 296.9h.8M85.5 290.5h.8M82.2 294.1h.8M96.9 298.9h.8M85.2 297.7h.8M83 295.1h.8M72.8 303.7h.8M90.5 301.1h.8M70.8 296h.8M84.7 296.5h.8M65 295.9h.8M68.4 290.9h.8M83.4 281.5h.8M88.2 291.2h.8M75.1 295.2h.8M75.8 294.8h.8M72.8 296.6h.8M70.3 295.6h.8M79 294.8h.8M88.6 295.2h.8M74.5 305.9h.8M90.6 298.7h.8M76.8 303.1h.8M81.8 295.4h.8M78 300.3h.8M81.5 293.3h.8M61.9 299.5h.8M79.7 299.9h.8M81 300.6h.8M83.2 295.9h.8M77.7 287.3h.8M66.7 305.5h.8M72.1 292.9h.8M95.5 297.3h.8M63 284.2h.8M65.2 294h.8M85.6 298h.8M74.6 299.8h.8M67.5 294.3h.8M73.4 291.1h.8M80.7 297.1h.8M85.2 298.6h.8M92.2 304.9h.8M84.6 291.5h.8M77.1 296.9h.8M77.4 301.7h.8M84.7 297.4h.8M79.5 300.6h.8M73.2 290.6h.8M75.7 291.4h.8M75 284.7h.8M78.6 292.9h.8M85.1 300.6h.8M83.9 288.8h.8M80.7 297.4h.8M70.3 298.3h.8M72.4 289.1h.8M82.5 293.7h.8M96.1 297.1h.8M74.9 296.8h.8M79.2 295.4h.8M71.8 292.4h.8M91.6 292.4h.8M92.4 292.4h.8M85.7 296.1h.8M90.3 296.6h.8M79.6 293.7h.8M81.1 298.9h.8M86.4 295.2h.8M78.9 295.4h.8M62.6 297.1h.8M69.4 296.2h.8M74.5 293.8h.8M78.5 290.3h.8M79.2 303.3h.8" stroke="#000" stroke-opacity="0.3" stroke-width="0.75" fill="none"/>
<path d="M78.6 300.1h.8M72.8 295.7h.8M71.6 299.8h.8M81 297.6h.8M65 294.9h.8M64.6 295.3h.8M73.1 293.3h.8M73.9 299h.8M64.3 296.2h.8M63.4 299.6h.8M71.4 300.3h.8M81.2 302.4h.8M73 299.9h.8M72.4 299.5h.8M74.9 301.6h.8M66.6 296.1h.8M72.4 299.7h.8M76.6 300.7h.8M74 295.8h.8M66.9 293.8h.8M77.1 304.7h.8M71 294h.8M71.6 302.1h.8M62.3 302.3h.8M73.3 303.9h.8M73.9 298.1h.8M73.3 300.3h.8M67.9 301.1h.8M64 295.8h.8M71.2 298.3h.8M66.1 294.8h.8M65.2 298.1h.8M78 298.2h.8M75.2 305h.8M64 291.5h.8M83.7 297.3h.8M89.3 304.1h.8M59 299.6h.8M72.2 298.9h.8M78.2 297.5h.8M71.1 298.9h.8M63.1 296.3h.8M73.9 298.9h.8M62.1 294.1h.8M61.5 295.8h.8M77.6 301.2h.8M77.2 302.3h.8M66.8 298.8h.8M75.6 295.8h.8M69.9 298h.8M84.2 304.2h.8M73.4 299.2h.8M79.5 298.5h.8M75.8 304.1h.8M72.4 293.7h.8M72.9 298.4h.8M89.3 301.1h.8M72.3 302.3h.8M69.2 297.3h.8M75.5 299.9h.8M59.1 300.7h.8M70.4 300.9h.8M73.6 301.1h.8M70.6 299.9h.8M72 304.9h.8M85.5 298.6h.8M78.4 297.8h.8M81.9 299.1h.8M76.3 303.7h.8M73.5 305.5h.8M82 306.4h.8M73.7 300.7h.8M77.5 297.4h.8M74.6 295.8h.8M70.3 294.6h.8M71.7 299.1h.8M87.1 303.2h.8M78.7 301.9h.8M68.7 294h.8M72.9 303.1h.8M77 302.3h.8M78.1 302.7h.8M68.2 294.8h.8M73.8 303h.8M74 296.8h.8M70.9 297.3h.8M83.2 301.4h.8M64 298.5h.8M76.5 302.7h.8M68.8 292.2h.8M88.1 297.1h.8M65.4 298.7h.8M79.9 303.7h.8M68.9 298.7h.8M68.5 307.2h.8M81 299.8h.8M72.3 303.9h.8M84.3 298.7h.8M67 294.4h.8M70.8 294.1h.8M66.8 295.4h.8M76.6 300.6h.8M68.1 301.2h.8M73.7 298.6h.8M71.5 299.5h.8M73.9 295.1h.8M70.8 294.8h.8M68 295.9h.8M78.3 305.9h.8M75.5 295.8h.8M65.1 299h.8M78.5 303.4h.8M73.5 304h.8M78.3 295.9h.8M67.1 302.5h.8M77.7 301.2h.8M81.3 300.1h.8M80.8 297.3h.8M73.1 304.7h.8M77.8 297.1h.8M76.6 301.4h.8M71.2 297.8h.8M79.3 302.8h.8M72.3 299.4h.8M74.1 296.7h.8M77.1 293h.8M74.1 299.1h.8M72.1 308.3h.8M63.6 301h.8M67.3 292.6h.8M70.9 298.7h.8M68.1 297h.8M77 297.7h.8M79.9 297.8h.8M85.1 301.1h.8M65.6 300.7h.8M76.2 294.6h.8M85.9 299.8h.8M70.3 296.4h.8M78 291.8h.8M81 297.5h.8M82 305h.8M68 294h.8M82.2 296.5h.8M79.3 300.5h.8M67 303.9h.8M77.4 299h.8M77.8 299.8h.8M63.3 295.6h.8M75.8 297.1h.8M68 297.1h.8M75.2 299.3h.8M70.8 296.9h.8M72.6 297.2h.8M82.4 298.3h.8M68.1 300.1h.8M66.3 301h.8M67.7 298.3h.8M72.9 295.2h.8M78.7 301.4h.8M72.9 300.3h.8M67 297.3h.8M75.5 302.1h.8M62.6 299.3h.8M68.6 291.2h.8M78.2 303.9h.8M73.9 302.2h.8M75.5 295.7h.8M76.6 306.3h.8M81.6 296.1h.8M72.4 293h.8M73.6 307.5h.8M73.7 301.4h.8M70.1 296.1h.8M77.5 303.5h.8M69.9 300.4h.8M80 301.8h.8M70.5 306.5h.8M73.9 295.1h.8M71.4 299.3h.8M67.7 302.3h.8M65.7 304.1h.8M72.1 296.5h.8M72.1 301.1h.8M81 296.8h.8M78.3 298.6h.8M82.1 296h.8M74.8 300.2h.8M64.1 296.4h.8M65.9 298.4h.8M79.9 298.2h.8M64.9 297.3h.8M65.2 303.9h.8M82.9 297h.8M73 297.6h.8M85.2 302.8h.8M74.7 303.5h.8M70 296.7h.8M87.2 291.5h.8M78 297.4h.8M80 297.6h.8M81 297.9h.8M66.7 286.9h.8M62.3 300.2h.8M66.8 293.6h.8M74 298.8h.8M74.7 298.4h.8M69.8 297.8h.8M76.4 305h.8M73.6 302.2h.8M69.1 303.6h.8M73.6 300.2h.8M77.5 304.4h.8M69.5 289.1h.8M86.9 301.9h.8M72.2 300.5h.8M81.2 301.6h.8M75.3 295.8h.8M62.6 295.8h.8M80 291.6h.8M87.5 302.2h.8M79.1 302.3h.8M63.2 299.9h.8M68.1 297.7h.8M78.7 300.3h.8M80.6 301.5h.8M70.2 300.4h.8M70.8 301.8h.8M71.7 297.9h.8M80.8 294h.8M77.8 302.2h.8M67.8 300.1h.8M84 299.5h.8M62.3 296.9h.8M85.3 300.6h.8M73.6 295.6h.8M56.6 299.5h.8M77.9 296.4h.8M61.9 298.5h.8M82.6 302.2h.8M76.2 305.9h.8M70.8 298.3h.8M79.9 298.8h.8M69.5 297.2h.8M78.3 297.3h.8M71.5 300.1h.8M68.8 296.6h.8M69.3 296.7h.8M79.6 298.6h.8M69.4 301.2h.8M73 293h.8M83.9 300h.8M71.7 295.1h.8M68.3 296.4h.8M78 298.8h.8M77.8 291.6h.8M72.5 298h.8M67.6 297.7h.8M64.1 301h.8M66.8 299.7h.8M71.4 305.1h.8M76.9 303.2h.8M70 301.4h.8M65.4 300.3h.8M76.5 298.3h.8M71.8 299.8h.8M76.2 300.2h.8M77 296.2h.8M64.6 299.4h.8M60 291.4h.8M65.1 300.5h.8M72 297.8h.8M80.1 297h.8M68.7 299.1h.8M70.3 300.4h.8M77.7 302.5h.8M74.1 295.4h.8M65.2 292.4h.8M80.4 295.3h.8M84 295.8h.8M76.6 298h.8M68.3 291h.8M68.2 295h.8M73.3 302.1h.8M76.2 298.7h.8M84.3 298.6h.8M74.1 298.1h.8M73.2 301.3h.8M75.8 297.3h.8M79.7 298.4h.8M69.5 301.2h.8M88.8 304.6h.8M70.9 297h.8M79.6 301.5h.8M68 300.8h.8M63.5 302.3h.8M80.6 306.2h.8M65.7 300.3h.8M85.6 302.7h.8M72.2 303.8h.8M65.4 297.8h.8M76.8 298.3h.8M73.8 302.6h.8M68.7 296.8h.8M72.8 298.8h.8M78.4 295.6h.8M70.1 300.9h.8M70 299.6h.8M82.1 304.5h.8M78.5 298.7h.8M66.9 301.8h.8M73.2 295.4h.8M70.4 297.7h.8M74.1 300.9h.8M66.2 298.7h.8M81.3 298.2h.8M82.5 303.3h.8M70.7 301.1h.8M61.5 297.8h.8M67 305.5h.8M87.3 308.2h.8M80.2 297.9h.8M71.7 302.5h.8M76.6 297.7h.8M73 296.5h.8M76.3 299.6h.8M81.2 303.1h.8M71.1 303.8h.8M61 292.6h.8M70.1 300.7h.8M84.8 303.9h.8M75.7 299.7h.8M63.7 295.9h.8M80.2 301.5h.8M71 292.4h.8M72.9 297.1h.8M66.7 297.7h.8M72 299.7h.8M73.9 300h.8M72.9 296.7h.8M73.3 299.3h.8M79.6 300.4h.8M69.4 301.5h.8M73.3 302.1h.8M86.2 304h.8M66.8 295.1h.8M77.8 294.3h.8M70.9 299.7h.8M71.3 296h.8M73.7 298h.8M70.4 300.6h.8M70 298h.8M80.8 303.4h.8M75.3 300.4h.8M66.6 295.6h.8M80.9 297.1h.8M83.3 303.2h.8M73.9 297.8h.8M74.2 302.2h.8M76 304.3h.8M73.9 296.4h.8M79.4 294.1h.8M67.6 298.8h.8M79 302.4h.8M67.1 301h.8M80.3 298h.8M78 298h.8M65.5 302.3h.8M81.2 297.4h.8M57.8 300.5h.8M70.1 300.2h.8M65.8 299.9h.8M80.3 300.9h.8M78.6 301.2h.8M80 298.5h.8M71.5 292.3h.8M71.4 298h.8M66.6 301.8h.8M77.9 297.2h.8M73.5 301.9h.8M79.6 305.5h.8M70.7 302.4h.8M73.2 302.6h.8M73.2 299.2h.8M76.3 297.6h.8M63.4 296.1h.8M70.6 302.4h.8M69.4 300.3h.8M71.6 302.5h.8M72.3 299.1h.8M77.3 301.6h.8M64.6 298.7h.8M66.2 301.5h.8M76.2 298.2h.8M82.4 298.8h.8M83 299.4h.8M70.8 300h.8M71.9 302.7h.8M72.9 299.3h.8M84.2 300.9h.8M80.1 300.3h.8M69.9 293.2h.8M75.1 301.3h.8M78.2 297h.8M81.2 296.9h.8M73.8 295h.8M78.7 305.1h.8M66.3 295.2h.8M70.7 292.4h.8M73.2 298.3h.8M64.7 298.7h.8M64.5 297.8h.8M74.6 301.7h.8M73 299.8h.8M82.6 298.5h.8M73 303.5h.8M66.3 300.3h.8M58.9 291.4h.8M64.2 297.1h.8M74.7 291.4h.8M83.6 308h.8M81.3 299.7h.8M70.8 296.2h.8M75.8 297.8h.8M70.1 304.9h.8M71.5 301.1h.8M76.4 298.2h.8M70.4 301.2h.8M71.5 297.7h.8M83.6 294.9h.8M70 296.7h.8M76.7 297.4h.8M74.1 301.7h.8M85 304.4h.8M74.3 296.1h.8M75.7 296.2h.8M71.9 295.9h.8M72.1 290.5h.8M81.3 300.6h.8M78.5 301.4h.8M72.5 303.7h.8M81.7 299.2h.8M78.7 298.8h.8M70.6 300.3h.8M62.1 294.6h.8M73.9 301.7h.8M77.9 298h.8M77.1 295.5h.8M75.4 305.9h.8M72.8 295.6h.8M80 299.8h.8M73.4 301.1h.8M75.2 301h.8M74.7 301.7h.8M73.7 297h.8M77.3 294.4h.8M73.2 302.5h.8M76.4 303.6h.8M74.5 302.8h.8M72.7 304.5h.8M77.6 292.9h.8M77.9 298.3h.8" stroke="#000" stroke-opacity="0.6" stroke-width="0.8" fill="none"/>
<path d="M65 304.9h.8M74.5 303.2h.8M69.9 299.7h.8M73 303h.8M68 298.7h.8M72.7 303.7h.8M70.8 300.7h.8M69.1 304.5h.8M73.7 302.5h.8M75.4 302.3h.8M76.2 303.6h.8M70.1 297.9h.8M71.3 301.8h.8M68.4 301.7h.8M65.9 300.5h.8M77.8 305.1h.8M69 303.4h.8M72.2 300.4h.8M67.9 298.5h.8M77.7 300.6h.8M67.8 302.2h.8M69.6 302.7h.8M76.4 302.1h.8M73.8 305.6h.8M72.3 303.9h.8M70.7 296.9h.8M74.3 298.7h.8M66.3 300.3h.8M70.2 300.6h.8M76.4 304.4h.8M69.6 303.4h.8M72.5 300.7h.8M65.9 298.6h.8M78.4 302.6h.8M72.3 306.3h.8M67.6 303.9h.8M61.4 297.1h.8M72.2 303h.8M67.7 298.7h.8M70.3 300.4h.8M69.2 301.7h.8M78 302.7h.8M70.9 296.1h.8M68 299.2h.8M61.8 301.2h.8M68.7 302.3h.8M73.2 301.2h.8M76.4 301.8h.8M71.8 305.4h.8M62.1 296.3h.8M76.5 300.9h.8M68.1 299.6h.8M71.4 299.2h.8M73.1 299.7h.8M72 306h.8M73.2 299.9h.8M70 301.7h.8M76.5 302.5h.8M69.8 299.8h.8M68.8 304.2h.8M68.6 296h.8M60.9 304.2h.8M74.1 307.6h.8M74.3 301.7h.8M67.2 303.4h.8M63.6 302.9h.8M70.5 301.2h.8M74.9 303.5h.8M77.7 300.3h.8M64.9 305h.8M76.5 306.1h.8M77.1 305.7h.8M67.5 303.1h.8M66.8 302.2h.8M75.5 298.9h.8M73.3 303.6h.8M73.9 300.1h.8M66.7 302.9h.8M77.3 307.9h.8M70 299.8h.8M66.3 301h.8M71.4 301.1h.8M67 300.7h.8M73.1 306.3h.8M71.8 299.9h.8M75.4 301.4h.8M73.6 298.3h.8M71.2 301.2h.8M68.3 305.6h.8M71.4 301.9h.8M77.4 296.4h.8M69.8 298.7h.8M71.9 302.3h.8M71 303.1h.8M70 299.8h.8M67.4 299.6h.8M73.7 301.3h.8M74.1 303.5h.8M71.8 305.4h.8M69.2 301.5h.8M78.3 299.4h.8M72.1 302.9h.8M67.7 301.5h.8M70.4 302.5h.8M73.4 305.6h.8M68.6 297.1h.8M65.3 302.8h.8M71.2 303.8h.8M69.9 299.2h.8M68.9 303.4h.8M72.4 298.2h.8M71.9 300.5h.8M74.5 299h.8M71.1 303.5h.8M69.2 298.7h.8M65.1 300.7h.8M68.8 300.1h.8M75 293.7h.8M73.4 308h.8M70.8 300.3h.8M70.1 303.7h.8M59 300.4h.8M70.6 300.9h.8M70.9 295.3h.8M72.4 299.6h.8M72.2 300.2h.8M68.1 295.9h.8M76.2 301.9h.8M71.6 305.7h.8M72.7 302.3h.8M61.5 303.1h.8M74.7 298.8h.8M64.8 301.5h.8M69.6 305.2h.8M68.2 306.8h.8M67.9 303.2h.8M69.9 301.2h.8M67.2 298.6h.8M68 299.2h.8M68.2 300h.8M77.8 301.5h.8M62.1 300.8h.8M64.8 303.4h.8M76.5 300.8h.8M66.6 303.7h.8M67.5 300.6h.8M71.5 301.5h.8M72.9 301.8h.8M68.8 299.4h.8M68.8 300.7h.8M73.4 306.5h.8M69.6 302.4h.8M68.6 297h.8M70 299h.8M71.1 304.5h.8M68.6 302.2h.8M66.9 299.6h.8M70.2 301.2h.8M69.2 302.1h.8M78.7 299.9h.8M69.3 298h.8M65.7 301.9h.8M65.4 301.7h.8M71 301.6h.8M71.5 301.4h.8M74.5 301.6h.8M65.6 300.9h.8M76 305.7h.8M67 302.8h.8M73.8 308h.8M74.7 300.7h.8M68.5 301.9h.8M75.3 302h.8M70.2 304.1h.8M69.5 302.6h.8M73.9 301.4h.8M68.1 304.9h.8M73.5 301.1h.8M72.5 301h.8M65.6 299.1h.8M69.4 300.5h.8M71.6 302.3h.8M74.4 307.6h.8M74.7 296h.8M64 299.8h.8M72.4 301h.8M73.3 306h.8M78 303.7h.8M71.3 303.1h.8M68.8 301.8h.8M72.3 299.2h.8M67.7 306.4h.8M70.3 303.1h.8M69.4 301h.8M73.8 305h.8M74.6 301.1h.8M74.4 301.4h.8M74.1 302.7h.8M59.6 303.7h.8M72.1 299.7h.8M69.6 299.2h.8M72.4 303.3h.8M66.8 295.9h.8M76 303.5h.8M75.6 303.7h.8M73.4 300.6h.8M59.5 302h.8M67.3 306.7h.8M68.3 307.2h.8M72.1 296.3h.8M74.8 305.5h.8M68 301.5h.8M71.5 299.6h.8M72.2 297.4h.8M72.2 304.6h.8M67.5 303h.8M74 303.7h.8M76.9 302.5h.8M74.1 296h.8M69.6 301.7h.8M77 303.7h.8M68.7 299.7h.8M82.2 300.6h.8M68.5 304h.8M65.4 296.2h.8M68.3 299h.8M75.6 302.3h.8M66.7 297.2h.8M73.2 305.3h.8M70.5 304.8h.8M67.7 302h.8M69.5 302.7h.8M75.2 302.7h.8M75 305.8h.8M69.8 306.9h.8M77.2 301.7h.8M70.8 300.2h.8M70.5 302.5h.8M72.3 300.7h.8M78.2 298.4h.8M74.4 302.3h.8M69.1 298.6h.8M67.6 297.6h.8M70.4 306.1h.8M68.2 301.1h.8M75.2 300.8h.8M73.1 301.4h.8M65.5 297.1h.8M69.8 297.1h.8M70.1 299.5h.8M66.9 298.2h.8M73.5 299.5h.8M70.1 300.8h.8M67.6 300.7h.8M78.1 300.3h.8M72.9 306.9h.8M76.4 302.8h.8M61.1 300.6h.8M74.8 306.3h.8M68.9 305.9h.8M69.3 303h.8M71.2 299.4h.8M70.1 300.2h.8M71.7 301.2h.8M74.4 301.2h.8M71.4 306.1h.8M71.4 302.5h.8M74.1 301.9h.8M70.5 300.4h.8M66.8 297.7h.8M76.5 303.1h.8M75.1 301.5h.8M72.7 299.5h.8M65.4 302.3h.8M73.8 303.4h.8M75.5 299.9h.8M69.1 301.3h.8M67.5 300.1h.8M76.4 305h.8M73.4 303.5h.8M77.6 301.2h.8M71.2 298.5h.8M73.4 307.1h.8M69.2 301.9h.8M67 298.6h.8M73.2 301.1h.8M77.5 303.9h.8M71.5 298.3h.8M72 294.9h.8M76 305.3h.8M63.3 301.3h.8M70.7 303.2h.8M75.3 296.7h.8M73.7 302.9h.8M70.5 301.1h.8M79 304.7h.8M71.2 298.2h.8M61.4 299.9h.8M67.9 302.1h.8M66.4 302.9h.8M72.4 300.4h.8M71.2 299.5h.8M73.5 297.2h.8M70.4 303h.8M74.2 303.5h.8M64 294.4h.8M63.6 300.3h.8M70.9 303.9h.8M65.9 297.9h.8M75.9 306.6h.8M68.9 303.6h.8M75.4 299.6h.8M68.1 297.1h.8M70.2 300.8h.8M65.7 299.8h.8M76.7 305.3h.8M72.4 305h.8M73.8 302.8h.8M80.5 303.5h.8M73 302.2h.8M69.6 303.7h.8M77.2 302h.8M69 306.9h.8M75.4 299.3h.8M63.1 300.5h.8M68.6 299.6h.8M71 295.3h.8M74.5 301.3h.8M80.9 297.1h.8M74.1 304.9h.8M59.6 301.5h.8M70.8 301.3h.8M70 299.5h.8M75 302.2h.8M68.4 300.9h.8M77.6 303.9h.8M74.7 307.5h.8M68.3 302.4h.8M66.4 305.5h.8M72.5 300.5h.8M72.8 302.5h.8M75.1 304.3h.8M69.2 298.8h.8M69 297h.8M65 301.5h.8M66.7 305.6h.8M76.6 303.4h.8M63.6 299.9h.8M71.2 302.7h.8M73.9 300.8h.8M73.9 298.6h.8M75.3 303.2h.8M72.9 302h.8M68 297.1h.8M75.4 306.2h.8M70 301.1h.8M70.4 302.7h.8M65.3 297.8h.8M71.7 301.6h.8M68.7 301.8h.8M70.8 304.3h.8M70.2 296.4h.8M71.3 297.2h.8M71.1 302.1h.8M73.6 300.1h.8M74 300h.8M67.6 298.7h.8M67.2 305.6h.8M74.2 303.7h.8M63.1 300h.8M75.2 299h.8M70.8 302.1h.8M70.5 301.3h.8M73 305.1h.8M71.3 302.1h.8M70.6 293h.8M80.2 299.9h.8M72.4 303.2h.8M68.5 299.5h.8M73.6 302.6h.8M68.8 300.8h.8M73.7 301.3h.8M67.9 302.1h.8M70.2 297.3h.8M68.2 301.7h.8M72.1 305.1h.8M66.5 303h.8M73 298.9h.8M82.6 303h.8M75.8 302.1h.8M71.3 301.6h.8M80.7 303.9h.8M64.6 296.5h.8M73.6 299.1h.8M64.9 303.9h.8M74.8 298.9h.8M74.5 299.2h.8M73.6 307.9h.8M68.4 303.8h.8M71.7 299.5h.8M72.2 302.8h.8M75 300.1h.8M75.4 307.8h.8M68 301.5h.8M76.6 303.3h.8M77.7 302.8h.8M72.7 304.7h.8M64.4 301.4h.8M80.4 304.3h.8M71 307.5h.8M68.1 300.8h.8M76.8 298.7h.8M66.5 302.9h.8M65.8 302.6h.8M83 299.7h.8M72.2 302.2h.8M74.7 304.9h.8M74.2 300.5h.8M71.1 299.2h.8M78.7 298.3h.8M74.5 304.4h.8M69 302h.8M73.3 304.6h.8M77.9 303.1h.8M69.7 299.7h.8M66.7 303.1h.8M78.8 306.9h.8M73 300.6h.8M74.7 304h.8M70.4 300h.8M74.8 303.8h.8M75.5 301.6h.8M70.3 301.7h.8M71.6 301.3h.8M72.4 302.5h.8M71.7 301.3h.8M74.1 305h.8M72.8 303.7h.8M74.1 300.4h.8M73.9 304.3h.8M70.8 302.8h.8M69.2 297.8h.8M67.3 300.9h.8M72.4 299.9h.8M72.4 301h.8M75.2 305.5h.8M64.9 300.1h.8M74 303.4h.8M70.5 301.2h.8M67.1 297.6h.8M68.1 299.3h.8M69.7 305.7h.8M70.6 297.4h.8M72.1 302.7h.8M64.8 297.2h.8M65.6 304.8h.8M71.1 298.8h.8M66.1 300.7h.8M79.1 294.8h.8M69.4 301.3h.8M72.3 296.8h.8M72.4 298.3h.8" stroke="#000" stroke-opacity="0.9" stroke-width="0.8" fill="none"/>
</g>
<rect x="36.5" y="243" width="73.8" height="66.3" fill="none" stroke="#6a6a6a" stroke-width="1"/>
<line x1="103.3" y1="248.3" x2="103.3" y2="300.7" stroke="#7a7a7a" stroke-width=".9"/>
<line x1="36.5" y1="280.5" x2="110.3" y2="280.5" stroke="#7a7a7a" stroke-width=".9"/>
<text transform="translate(38.1 248) scale(1 0.64)" font-size="7.6" text-anchor="start" stroke="#000" stroke-width="0.6">0.02</text>
<text transform="translate(109.7 248) scale(1 0.64)" font-size="7.6" text-anchor="end" stroke="#000" stroke-width="0.6">0.00</text>
<text transform="translate(38.1 308.5) scale(1 0.64)" font-size="7.6" text-anchor="start" stroke="#000" stroke-width="0.6">99.98</text>
<text transform="translate(109.7 308.5) scale(1 0.64)" font-size="7.6" text-anchor="end" stroke="#000" stroke-width="0.6">0.00</text>
<g filter="url(#soft)">
<path d="M157.1 286.5h.8M150.1 265.7h.8M155.7 296h.8M155.2 284.7h.8M158.9 255.2h.8M158.7 257.2h.8M162.4 291.6h.8M164.5 249.8h.8M164.2 266.2h.8M161.7 263.3h.8M156.4 265h.8M162.4 250.7h.8M162.9 255.7h.8M181.8 255.8h.8M159.7 276.1h.8M163.6 258h.8M165.8 270.3h.8M166.2 261.7h.8M149.7 248.3h.8M160.4 263.3h.8M152.9 282h.8M166.9 271.2h.8M152.7 281.9h.8M150.2 253.3h.8M156.1 290.6h.8M172.6 284.4h.8M167.4 250.2h.8M167.7 267.1h.8M158.1 279.3h.8M163.7 293h.8M156 279.4h.8M160.5 295.5h.8M168.3 255.7h.8M168.1 272h.8M161 249.9h.8M156.5 272h.8M158.8 246h.8M152 246.5h.8M151.6 253.4h.8M159.2 264.2h.8M164.2 263.2h.8M168.7 297.8h.8M171.7 251.6h.8M161.3 255.8h.8M165.9 290h.8M150.5 285.7h.8M165.1 281.9h.8M176.3 246.9h.8M165.9 253.7h.8M170.9 287.5h.8M166.8 249.4h.8M167 277.3h.8M168.8 263.5h.8M154.9 265.6h.8M159.2 272.2h.8M170.2 287.8h.8M157.8 297.9h.8M169.4 288.4h.8M157.5 280.1h.8M160.3 289.9h.8M157.3 252.2h.8M167.7 269.9h.8M163.9 297h.8M149 265.4h.8M154.9 251.3h.8M155.1 280.2h.8M164.9 258h.8M164 294.2h.8M150.8 259.8h.8M165 282.4h.8M168.8 290.3h.8M162.6 250h.8M165.4 296.7h.8M184.3 269.3h.8M161.7 274.1h.8M159.5 266.4h.8M165 246.8h.8M161.4 294.2h.8M155 254.5h.8M159.9 270.1h.8M154.9 265.9h.8M172 271.2h.8M154.8 272.9h.8M172.6 297.7h.8M157.8 254h.8M153.5 266.3h.8M160.1 290.9h.8M171.7 284.9h.8M162.7 288.9h.8M171.5 270.4h.8M167 267.5h.8M163.9 262.8h.8M158.1 263.7h.8M167 250.7h.8M162.7 286.9h.8M158.8 262.1h.8M161.3 265.5h.8M166.1 258.7h.8M163.8 282.6h.8M169.5 261.6h.8M175.5 270.1h.8M165.9 260.9h.8M166.9 287.5h.8M166.4 262h.8M165.3 275.8h.8M161.3 272.9h.8M158.3 247.2h.8M159.2 296.3h.8M156.4 290.7h.8M166.3 284.7h.8M154.1 254.8h.8M161.3 290.5h.8M156.8 296.4h.8M157.1 291.1h.8M166.2 278.8h.8M163 288.6h.8M167.7 259.7h.8M156.6 285.6h.8M158.7 263.2h.8M162.7 264.5h.8M166.1 288.7h.8M165.3 250.8h.8M170 247.9h.8M154.4 280.7h.8M160.9 291.2h.8M158 276.1h.8M172 277.2h.8M152.8 250.4h.8M156.5 273.3h.8M168.1 295.2h.8M156.4 270.3h.8M151.1 275h.8M170.4 258.1h.8M166.6 253.3h.8M158.4 292.7h.8M156 256.1h.8M160.6 295.6h.8M157.2 292.5h.8M157.8 251.1h.8M166.3 288.3h.8M157 247.7h.8M160.4 293.9h.8M157.6 288.9h.8M166.4 246.2h.8M161 284.2h.8M168.6 267.6h.8M154.3 254.7h.8M158 267.7h.8M160.2 267.9h.8M162.3 293.2h.8M159.1 274h.8M174.2 292.9h.8M158.3 276.6h.8M159.6 267.2h.8M153.7 256.1h.8M159.3 284.9h.8M174.9 276.7h.8M163.5 247.3h.8M156.4 257.6h.8M167.7 267.6h.8M159.7 258.1h.8M165.1 246.6h.8M154.7 297.6h.8M158.2 285.4h.8M170.6 281.9h.8M162.2 276.2h.8M163.1 278.9h.8M164.5 255.9h.8M167.5 263.7h.8M158.2 271.2h.8M155.4 291.1h.8M160.9 262.1h.8M167.4 284.9h.8M159.6 249.9h.8M168.2 281.5h.8M152 248.8h.8M157.7 269.1h.8M155.5 251h.8M149.8 262.8h.8M174.5 292.9h.8M161.2 285.4h.8M174.3 294.8h.8M164.9 284.2h.8M155.3 271h.8M169.8 258.1h.8M165.6 289.3h.8M174.1 255.8h.8M166.6 259.8h.8M160.7 276.3h.8M164.7 257h.8M160.6 284.2h.8M155.4 250.3h.8M159.6 250.9h.8M168.2 260.3h.8M155.8 267.4h.8M167.9 257.3h.8M169.6 251.8h.8M162.8 269.8h.8M159.7 296.9h.8M166.7 291.8h.8M158.7 290.2h.8M166.7 281.9h.8M165.5 262.3h.8M161.4 267.7h.8M158.9 286.4h.8M156.2 278.2h.8M161 254.2h.8M155 260.3h.8M161.1 284.1h.8M162.9 283.2h.8M159.7 262.9h.8M164.7 281.9h.8M167.8 250.1h.8M153.8 267h.8M161.5 248.4h.8M156.5 248.8h.8M157.6 297.5h.8M160.3 259.1h.8M168.1 278.1h.8M168.9 285.9h.8M158.1 255.2h.8M161.5 275.4h.8M160.4 292.4h.8M160.3 274.5h.8M171.7 290.4h.8M167.4 285.4h.8M150.7 264.3h.8M164.2 262.8h.8M165.9 295.2h.8M154.8 269.7h.8M170.8 294.8h.8M167 254.3h.8M171.8 258.8h.8M154 256.8h.8M159.9 285.6h.8M157.2 264.1h.8M157.5 252.1h.8M157.6 295.4h.8M153.6 285.7h.8M162.2 273.8h.8M152.5 249.3h.8M167.8 261.8h.8M166.1 270.5h.8M147.9 273.8h.8M156.7 266.8h.8M163.3 288.4h.8M177.3 250.2h.8M159.6 266.3h.8M170.3 281.2h.8M174.6 261.1h.8M162.5 250.2h.8M154.6 272.9h.8M154.3 286.2h.8M151.1 280.5h.8M162.9 284.6h.8M162.9 247.4h.8M157.3 286.6h.8M170.8 280h.8M158.1 275.1h.8M162.7 288.3h.8M167.6 250.9h.8M167.1 268.5h.8M165.4 283.8h.8M165.2 290.8h.8M163.8 266.2h.8M169.1 247h.8M168.1 274.4h.8M156.2 278.4h.8M164.9 260.7h.8M162.1 296.7h.8M160.2 270.9h.8M170.8 272.2h.8M162.9 291.6h.8M163.8 259h.8M168.9 250.6h.8M156.1 262.8h.8M158.6 288.6h.8M160.2 282.4h.8M155.8 285.9h.8M163.5 267.5h.8M156.2 253.7h.8M163.6 265.8h.8M162.2 269h.8M162.2 253h.8M165 273.2h.8M160 279.4h.8M166.3 260.9h.8M159.8 281.2h.8M162.1 253.9h.8M161.5 280.3h.8M166.7 248.1h.8M163.3 276.2h.8M156.7 256.5h.8M173.5 284.2h.8M169.4 293.9h.8M162.7 263.9h.8M166.1 254.8h.8M156.9 274.9h.8M167 247.8h.8M158.6 280.2h.8M166.2 250.9h.8M162.8 282.1h.8M155.6 287.5h.8M164.7 270.1h.8M161.7 277.3h.8M159.3 285.9h.8M161.4 287.1h.8M167.1 249.7h.8M163.4 259.6h.8M159.3 284h.8M159.3 270.5h.8M161 283.7h.8M152.5 274.6h.8M157.2 275.3h.8M159.1 276h.8M150.2 260.9h.8M173.3 282.7h.8M161.3 282.2h.8M170.3 286.3h.8M160.6 281.7h.8M161.9 260.3h.8M161.5 277.1h.8M151.8 262h.8M155.2 268.7h.8M164.9 285.1h.8M159.6 261.5h.8M163.9 295.6h.8M163.4 288.2h.8M153.9 284.7h.8M155 255.2h.8M156.1 279.1h.8M151.5 257.1h.8M154.7 248.6h.8M161.7 267.9h.8M168.3 255.7h.8M169.7 285h.8M165.5 282.9h.8M158 284.2h.8M155.9 295.8h.8M171.3 251.2h.8M163.3 275.9h.8M157 267.8h.8M155.6 247.8h.8M175.2 253.4h.8M165.9 297.3h.8M163.4 296.1h.8M162.7 249.4h.8M160.6 259.3h.8M167.4 253.8h.8M166 248h.8M170.6 250.4h.8M151.5 246.1h.8M166.1 248.3h.8M163.3 288.4h.8M167.2 272.4h.8M165.3 286.1h.8M150.1 247.1h.8M161.8 263h.8M170.9 253.3h.8M166.3 256h.8M156.4 288.8h.8M151 286.9h.8M169.1 278.1h.8M162.5 285.9h.8M164.8 279.6h.8M156.9 256.3h.8M168.3 250.5h.8M160.5 294.8h.8M160.6 285.9h.8M154.7 280.6h.8M162.7 275.6h.8M163.9 274.5h.8M156.1 295.7h.8M158.6 264.3h.8M164.8 294.6h.8M154.4 273.8h.8M164 273.5h.8M167.3 289.3h.8M161.9 264.2h.8M153.5 276.6h.8M161.4 286h.8M168.6 266.1h.8M162.1 281h.8M154 255.7h.8M166.7 260.2h.8M164.1 278.1h.8M170.2 254.7h.8M170.6 280.4h.8M166.3 281.8h.8M160.4 275.7h.8M149.6 247.8h.8M149.7 255.4h.8M160.9 272.9h.8M157.9 268.8h.8M161.7 252.7h.8M155.8 285.3h.8M155.8 255h.8M167.9 282h.8M163.4 260.3h.8M162.1 252.3h.8M171.5 298h.8M157.5 263.4h.8M164.4 273.6h.8M156.1 280.3h.8M159.2 275.4h.8M162.3 297.5h.8M160.4 266.4h.8M157.4 260.5h.8M159.8 281.2h.8M167.4 266.7h.8M156.7 261.5h.8M154 274.2h.8M170.9 280.4h.8M153.6 275.5h.8M159.8 278.6h.8M154.1 274.1h.8M156.1 251.7h.8M167.8 268h.8M166 248.9h.8M159.8 296.5h.8M170.7 286.9h.8M158.8 252.6h.8M168.2 271.8h.8M164 268.8h.8M168 272.5h.8M161.7 290.5h.8M164.1 273.4h.8M161.2 291.2h.8M146.6 258.6h.8M175 258.9h.8M165.1 273.5h.8M162.2 263.7h.8M161.1 255.9h.8M157.8 283.3h.8M158 247.4h.8M161.9 265.7h.8M167.1 267.3h.8M163.4 291.8h.8M162.9 270.2h.8M166.4 269h.8M157.5 277.1h.8M167.8 257.2h.8M159.3 292.9h.8M165.3 259.5h.8M158 296.5h.8M167.3 279.6h.8M155 254h.8M172.7 280.6h.8M159 285.3h.8M159.1 268.5h.8M157.2 280.1h.8M155.4 286.8h.8M160.1 297.4h.8M152.8 254.3h.8M167.6 274.7h.8M160.9 257.7h.8M149.2 284.5h.8M161.8 277.5h.8M164.7 279.3h.8M162.9 286.4h.8M158.3 246.3h.8M160.6 262.1h.8M146.5 295.3h.8M153.6 289.2h.8M148.4 252.1h.8M153.2 256.3h.8M165.5 258.5h.8M168.8 246.8h.8M170.3 249.7h.8M157.8 266.6h.8M164 262.9h.8M159.5 291.5h.8M163.7 276.1h.8M162.6 273.4h.8M156.6 279.6h.8M168.3 275.9h.8M158.7 282.2h.8M157.9 287.2h.8M159.9 297h.8M157.6 255.6h.8M151.2 253.1h.8M160.8 297.7h.8M163.9 247.6h.8M165.9 252.6h.8M159.7 296.4h.8M171.4 272.3h.8M158 258.9h.8M158.2 252.9h.8M147.5 269.6h.8M171.5 268.4h.8M168.4 264.6h.8M169.6 249.9h.8M152.3 264.8h.8M165.9 268.7h.8M151.9 291.5h.8M168.7 282.4h.8M160.8 297.3h.8M159.2 277.5h.8M161.9 288.8h.8M160.2 288.5h.8M171 262.2h.8M168.5 279.1h.8M152.9 288.7h.8M167 283.1h.8M147.1 249.7h.8M172.8 268.3h.8M158.6 249.1h.8M160 283h.8M161.3 295.5h.8M175.4 297.3h.8M166 289.7h.8M161.5 286.6h.8M165.2 290.2h.8M159.4 271.4h.8M167.5 276.9h.8M158.1 275.8h.8M159.3 266.5h.8M159.8 264.7h.8M168.7 296.7h.8M162.7 289.7h.8M160.3 249.1h.8M152.6 255.4h.8M167.3 294.4h.8M159.4 266h.8M163.3 287.2h.8M160.1 269.7h.8M163.5 266.9h.8M163.1 262.5h.8M151.7 249.3h.8M151.2 288.4h.8M160.2 259.9h.8M151.5 257h.8M165.6 296.6h.8M161.8 273.8h.8M168.3 294.5h.8M165.9 269.4h.8M165.4 255.8h.8M157.7 287h.8M163.3 261.3h.8M167 291.1h.8M167.6 264.8h.8M163.2 262.5h.8M160.9 266.5h.8M157.5 272.8h.8M159.6 272.1h.8M158.7 267.6h.8M168.2 278.6h.8M168.6 254.9h.8M160.5 296.5h.8M158.1 265.2h.8M166.2 278.7h.8M169.2 294h.8M165.5 264.1h.8M154.4 251.5h.8M152.1 247.2h.8M171.2 296.8h.8M167.1 259.5h.8M158.9 282.5h.8M161.4 286.6h.8M161.1 250.4h.8M162 250.2h.8M155.9 282.3h.8M167 268.3h.8M157.7 263.8h.8M155 250.4h.8M168.5 290.4h.8M162.1 272.4h.8M168.8 270.6h.8M163.5 292.2h.8M167.3 288.2h.8M171.6 268.7h.8M163.4 264.3h.8M168 262.1h.8M158.3 274.1h.8M164.3 261.1h.8M147.3 260.5h.8M161 251.3h.8M156.7 264.4h.8M151.5 289.4h.8M165.5 251.2h.8M161.8 285.7h.8M164.4 281.1h.8M153.2 294.4h.8M163.3 251.5h.8M174.5 285.1h.8M165.5 259.9h.8M154.1 279.3h.8M165.8 284.5h.8M162.7 248.7h.8M157.8 257.3h.8M156.8 253.3h.8M162.8 253.2h.8M149.1 278.3h.8M167.9 258.7h.8M166 278.7h.8M164.9 250.6h.8M166.1 251.7h.8M169.2 256.9h.8M153.3 297.5h.8M162.8 291.6h.8M165.2 255.5h.8M166 266.4h.8M159.3 276.5h.8M161.3 260.4h.8M166 264.2h.8M165.4 272.8h.8M172.5 279.6h.8M151.3 270.2h.8M162.1 254.3h.8M160.3 272.3h.8M163.5 291.5h.8M162.2 262.3h.8M158 260.3h.8M163.3 253.3h.8M154.1 275.7h.8M155.5 255.1h.8M155.6 293.6h.8M163 286.5h.8M166.3 282.2h.8M168.9 255.8h.8M153.8 255.3h.8M160.2 294h.8M168.5 248.3h.8M161.9 261.5h.8M169.9 286.4h.8M170.6 268h.8M158.8 286h.8M159 262.4h.8M162.3 293.4h.8M157.5 260.2h.8M161.6 261.7h.8M160.1 251.7h.8M172.6 247.5h.8M161.9 262.5h.8M158.2 248.1h.8M161.8 287.5h.8M163.2 298h.8M149.1 265.8h.8M155.1 286.4h.8M153.3 280.4h.8M160.6 250h.8M164.6 249.6h.8M156.4 275.8h.8M152.1 250.3h.8M165.7 284.2h.8M159 290.7h.8M161.3 296.4h.8M164.8 252.7h.8M167.3 279.7h.8M158.7 289.7h.8M155.8 280.3h.8M154.6 253.7h.8M156.1 260.7h.8M162.5 257.1h.8M177.7 284.3h.8M164.5 285.3h.8M158.2 264.3h.8M160.7 263.3h.8M159.5 295.1h.8M153.1 296h.8M161.5 289.1h.8M163.8 267h.8M162.6 278.6h.8M157 249.6h.8M161.6 286h.8M157.6 262.9h.8M159.7 251.4h.8M151 274.5h.8M166 267.8h.8M159.9 251.5h.8M146 252.5h.8M160.3 291.9h.8M165.6 271.7h.8M179.4 257.9h.8M156.4 258.4h.8M171 280.2h.8M156 284.2h.8M167.7 249.2h.8M166.1 249.1h.8M160.6 265h.8M155.1 268.7h.8M155.6 263.7h.8M168.2 290.3h.8M170.7 249.9h.8M160.3 270.6h.8M160.5 284.1h.8M157.9 246.2h.8M162.3 277.2h.8M158.8 274.2h.8M168.1 255.7h.8M167 277.6h.8M164.6 257.5h.8M156 291h.8M153.2 284.9h.8M158.6 260h.8M169.8 285h.8M166.3 290.6h.8M161 252h.8M167.2 282.4h.8M165.3 269.9h.8M156.5 292.6h.8M170.8 287.1h.8M168.4 291h.8M154.8 253.5h.8M160 264.3h.8M166.8 285.8h.8M171.7 282h.8M169.7 256.2h.8M156.1 262.8h.8M158.8 250.8h.8M169.3 258.6h.8M157.7 267.7h.8M163.6 265h.8M159.9 250.9h.8M165.4 260h.8M153.8 280h.8M154.1 257.1h.8M156.1 279.2h.8M173.7 294.5h.8M173.6 280.6h.8M172.7 283.6h.8M158.3 296.6h.8M156.3 290.8h.8M164.3 267.4h.8M160 256.1h.8M155.1 292.1h.8M165 260.3h.8M155.6 266.9h.8M168.7 261.6h.8M163.4 269.9h.8M159.7 288.3h.8M153.9 270.8h.8M161.6 293h.8M161.8 275.2h.8M165.6 269.7h.8M162.4 283.2h.8M161.6 251.9h.8M153.9 291.8h.8M158.2 282.6h.8M162 296h.8M164.4 256.8h.8M160.2 249.2h.8M153.1 263.5h.8M155.1 247.6h.8M158.9 274.1h.8M165.2 252h.8M159.9 271h.8M155.1 247.5h.8M161 278.3h.8M160.7 273.2h.8M170 280.2h.8M161.6 282.2h.8M158.4 291.9h.8M161.5 288.6h.8M164.6 293.7h.8M150.5 268.4h.8M159.3 282.9h.8M155.4 265.4h.8M157.9 285.3h.8M159.4 247.3h.8M169.9 273.8h.8M166 261.3h.8M163.4 257.3h.8M155.4 289.3h.8M163.4 271.2h.8M165 252.5h.8M152.3 257.6h.8M151.5 286.4h.8M169.4 297.7h.8M167.9 274.2h.8M162.1 290.4h.8M167.8 290.3h.8M167.3 293.9h.8M175.9 297.8h.8M145.3 275.6h.8M163.8 257.6h.8M168.7 263.2h.8M163.7 290.1h.8M157.7 275.1h.8M153.8 270.9h.8M169.7 272.3h.8M174 288.5h.8M150 255.6h.8M155.2 280.2h.8M165.5 254.3h.8M166.7 271.2h.8M158.3 290h.8M153.1 285h.8M168.3 280.5h.8M169.8 255.5h.8M150.5 276.5h.8M161.9 282.6h.8M164.6 291.7h.8M161.3 247.5h.8M169.8 254.9h.8M163.6 249.7h.8M164.9 260h.8M163.3 262.9h.8M153.3 268.6h.8M175.2 274.6h.8" stroke="#000" stroke-opacity="0.3" stroke-width="0.75" fill="none"/>
<path d="M168.3 299.1h.8M164.3 297.8h.8M165.5 299.9h.8M163.4 296.9h.8M176.1 300.3h.8M158.4 299.1h.8M171 301.4h.8M167.7 296.9h.8M163.3 300h.8M174.8 298.1h.8M171.2 299.6h.8M166.7 298.2h.8M167.2 295.9h.8M161.3 299.8h.8M165.7 298.2h.8M167.3 294.1h.8M158.1 302.5h.8M161.7 297.9h.8M170.9 298.2h.8M167.1 294h.8M160.6 299.5h.8M168.8 301.6h.8M168.4 297.3h.8M171.6 297.1h.8M170.6 300h.8M176.1 296.6h.8M167.8 295.5h.8M173.7 298.4h.8M163.2 298.1h.8M165.9 302.4h.8M155.8 297.4h.8M179.7 303.2h.8M154.5 302.9h.8M166.5 295.7h.8M171.4 300.9h.8M172.2 300.1h.8M177.1 298.7h.8M168.7 295.1h.8M176.8 299.3h.8M161 303.3h.8M169.6 294.5h.8M160.4 302.9h.8M169.1 294.4h.8M166.4 299.1h.8M175.6 294.5h.8M165.9 295.4h.8M166.3 298.8h.8M166.4 299.4h.8M167.9 302h.8M159.6 297.1h.8M165.1 298.1h.8M172.1 301.6h.8M165 296.3h.8M157.5 297.1h.8M158.1 296.9h.8M174.5 299.9h.8M159 300.1h.8M164.2 299.9h.8M174.7 296h.8M171.4 298.5h.8M166 294.8h.8M167 298.6h.8M168 298.3h.8M160.9 302.5h.8M165.7 296.8h.8M175 301.7h.8M165.1 299.2h.8M164.5 293.7h.8M173.2 294h.8M166.9 298.2h.8M164.4 300h.8M169.2 296h.8M165.6 298.9h.8M172.3 301.8h.8M161.5 297.2h.8M172.3 301.9h.8M170.4 297.2h.8M177.7 295.4h.8M169.1 301.8h.8M174.2 298.8h.8M170.4 300.7h.8M169.5 300.4h.8M163.5 303.6h.8M166.7 297.9h.8M174.6 300.1h.8M165.6 301.6h.8M162.8 302.2h.8M167.7 301.8h.8M161.1 294.5h.8M156.4 299.4h.8M159.6 297.2h.8M162.5 246.4h.8M159.4 246.7h.8M174.5 246.9h.8M163.5 247h.8M162.9 246.1h.8M174.8 246.6h.8M164.3 246.9h.8M157.8 245.9h.8M161.7 246h.8M164.7 246.1h.8M175 246.1h.8M173.9 247h.8M171.5 246.5h.8M167.8 246.6h.8M161.6 246.6h.8M173.5 246.3h.8M162 245.9h.8M161.9 245.8h.8M170.1 246h.8M165.9 246.2h.8M158.2 246.1h.8M165.2 245.9h.8" stroke="#000" stroke-opacity="0.6" stroke-width="0.8" fill="none"/>
<path d="M164.5 299.2h.8M160.9 298.2h.8M159.3 298.7h.8M173.1 299.8h.8M163.2 299.6h.8M170.2 299.2h.8M177.7 299.6h.8M169 297.6h.8M165.7 299.2h.8M175.6 298.3h.8M163.7 298.7h.8M157 299.4h.8M169.9 297.8h.8M163.2 298.3h.8M176.2 298h.8M170.8 295.7h.8M178.3 297.4h.8M157.7 299.8h.8M164.7 298.7h.8M174.3 300h.8M174.4 299.3h.8M163.5 300h.8M177.3 298.7h.8M173.8 298.8h.8M175 299h.8M172.9 297.4h.8M167.1 297.8h.8M157.7 299.5h.8M161.6 296.9h.8M167 296.8h.8M178.1 298.4h.8M164.6 299.6h.8M169.4 299.7h.8M168.6 299.6h.8M158 297.8h.8M171.7 296.7h.8M162.3 299.7h.8M178.2 298.6h.8M158.9 299.7h.8M174.2 294.5h.8M169.8 299.9h.8M161.4 298.5h.8M163.5 295.3h.8M171.7 299.3h.8M179.1 298.1h.8M175.6 299.7h.8M167.2 297.7h.8M164.4 299h.8M157.4 299h.8M170.7 295.9h.8M165.6 299h.8M166.6 297.5h.8M163.3 298.5h.8M162.6 297.6h.8M160 298.2h.8M162.6 299.8h.8M166.5 298.8h.8M157.9 297.6h.8M161.4 296.2h.8M169.9 298.8h.8M174.2 299.4h.8M174.5 299.7h.8M161.1 299.9h.8M173.6 298.2h.8M167.6 299.8h.8M161.9 297.1h.8M164.4 297.8h.8M177.5 294.8h.8M159.6 298.6h.8M171 300h.8M168.5 297.8h.8M176.4 299.4h.8M175.4 299.5h.8M171.1 299.6h.8M167.5 299h.8M176.1 298.8h.8M172.3 299.5h.8M176 299.4h.8M167.2 299.8h.8M173.5 297.4h.8M168.9 298h.8M173.1 298.7h.8M160.6 296.3h.8M170.8 298.8h.8M159.4 299.3h.8M175.8 299.7h.8M175.6 297h.8M177.8 299.1h.8M177.5 298.2h.8M169.1 299.3h.8M170.3 296h.8M161.9 296.2h.8M160.5 299.1h.8M175.8 298h.8M176.1 296.4h.8M160.8 297.5h.8M177.8 299.9h.8M158.1 298.7h.8M169.8 298.1h.8M169.1 300h.8M171 298.7h.8M175.4 299.4h.8M167.8 298.2h.8M167.8 299.3h.8M160 298.7h.8M158.9 299.2h.8M161.6 297.3h.8M175.5 298.1h.8M173.2 297.7h.8M158.7 298.7h.8M175.5 298.6h.8M173.2 298.9h.8M161 299h.8M169.8 298.7h.8M171.6 297.9h.8M171.9 299.2h.8M158.6 298.2h.8M157.7 298.9h.8M164.1 296.7h.8M172.9 297.4h.8M162 298.3h.8M170.8 298.6h.8M170.5 299.8h.8M164.3 299.3h.8M178.6 298.7h.8M166.7 296.6h.8M175.2 300h.8M165.2 297h.8M173.1 299h.8M158.1 299h.8M168.7 294.8h.8M175.8 299h.8M175.3 298h.8M171.6 299.3h.8M161.8 297.8h.8M175.4 297.3h.8M172.6 298.3h.8M158.3 298.5h.8M165.2 297.3h.8M168.2 298.9h.8M174.9 297.2h.8M162 298.1h.8M171.7 296.3h.8M176.2 298.4h.8M171.7 299.9h.8M175.5 296.7h.8M164.5 296.1h.8M170.2 299.6h.8M161.3 297.4h.8M167.8 297.4h.8M168.2 298h.8M175.8 299.4h.8M160.5 298.7h.8M159.8 299.1h.8M164.4 297.2h.8M157.4 297.7h.8M164.6 299.5h.8M174.5 298.4h.8M161.4 299.4h.8M162.7 297.4h.8M177.1 295.4h.8M170.7 297.2h.8M161.6 295.8h.8M166.6 298.4h.8M168.3 299.6h.8M158.2 297.9h.8M168 297h.8M174.6 299.9h.8M159.6 295.4h.8M170.8 299.5h.8M176.7 295.2h.8M162.3 300h.8M175.6 298.2h.8M166.4 299h.8M176.1 298.4h.8M174.4 298.1h.8M162.2 299.6h.8M176 299.8h.8M170.8 299.3h.8M164.6 298.6h.8M175.1 299h.8M162.4 296.8h.8M161.2 299.4h.8M170.4 299.8h.8M176 297.1h.8M164.7 297.2h.8M173.3 298.7h.8M173.2 299.5h.8M162 298.5h.8M161.8 299.3h.8M159 298.7h.8M175.1 299.8h.8M162.6 299.2h.8M173 297.3h.8M165.8 299.8h.8M171.7 300h.8M171.7 299.5h.8M156.1 299.9h.8M170.6 297.2h.8M160.2 298.4h.8M167.5 299.9h.8M172.7 296.1h.8M168.5 299.3h.8M161.6 298.1h.8M156.6 297.1h.8M168.5 299.4h.8M164 298.9h.8M172.6 299.6h.8M167.4 299.6h.8M174.1 299.1h.8M173.3 298.4h.8M161.6 297.6h.8M161.8 299.4h.8M172.3 297.1h.8M161.2 295.7h.8M163.7 297.7h.8M169.7 297.4h.8M172.7 299.5h.8M160.1 296.8h.8M162.3 297.2h.8M176.3 299.8h.8M167.8 297.3h.8M177.7 297.7h.8M172.9 298.3h.8M158.5 299h.8M169 296.6h.8" stroke="#000" stroke-opacity="0.9" stroke-width="0.8" fill="none"/>
<rect x="157.3" y="299" width="21.5" height="10" rx="3" fill="#000" fill-opacity=".95" filter="url(#soft2)"/>
</g>
<rect x="134.6" y="245" width="70.4" height="64.7" fill="none" stroke="#6a6a6a" stroke-width="1"/>
<line x1="199.3" y1="250.3" x2="199.3" y2="301.1" stroke="#7a7a7a" stroke-width=".9"/>
<line x1="134.6" y1="281.6" x2="205" y2="281.6" stroke="#7a7a7a" stroke-width=".9"/>
<text transform="translate(136.2 250) scale(1 0.64)" font-size="7.6" text-anchor="start" stroke="#000" stroke-width="0.6">12.75</text>
<text transform="translate(204.4 250) scale(1 0.64)" font-size="7.6" text-anchor="end" stroke="#000" stroke-width="0.6">0.00</text>
<text transform="translate(136.2 308.9) scale(1 0.64)" font-size="7.6" text-anchor="start" stroke="#000" stroke-width="0.6">87.25</text>
<text transform="translate(204.4 308.9) scale(1 0.64)" font-size="7.6" text-anchor="end" stroke="#000" stroke-width="0.6">0.00</text>
<clipPath id="cb0"><rect x="291.5" y="11.2" width="62.5" height="62.4"/></clipPath>
<g clip-path="url(#cb0)">
<path d="M291.8 36L292 34.1L292.3 33.4L292.6 33.5L293 33.9L293.4 34.4L294 34.5L294.7 34.3L295.5 34.1L296.3 34L297.2 33.9L298.1 33.8L299 33.8L299.9 33.8L300.7 33.9L301.6 34.1L302.4 34.2L303.3 34.5L304 34.8L304.7 35.2L305.4 35.6L306 36L306.6 36.6L307.1 37.2L307.5 38L307.8 38.9L308 39.9L308.1 41.1L308.2 42.3L308.3 43.6L308.3 45L308.3 46.5L308.3 48.2L308.2 49.9L308.1 51.7L308.1 53.4L308 55L308 56.5L308 58L307.9 59.5L307.9 60.8L307.8 62L307.6 63L307.3 63.7L307.1 64.3L306.7 64.6L306.3 64.9L305.7 65.1L305 65.3L304.1 65.5L303 65.6L301.7 65.6L300.4 65.6L299.2 65.6L298 65.6L296.8 65.9L295.6 66.6L294.5 67.3L293.4 67.6L292.5 67L291.8 65.3L291.4 61.8L291.3 56.7L291.3 50.7L291.4 44.8L291.6 39.6Z" fill="#000" fill-opacity="0.1" stroke="#999" stroke-opacity="1" stroke-width="0.6" stroke-linejoin="round"/>
<path d="M292.7 37.7L292.8 36L293.1 35.4L293.4 35.4L293.7 35.8L294.1 36.3L294.6 36.4L295.2 36.2L295.9 36L296.6 35.9L297.4 35.8L298.2 35.8L299 35.7L299.7 35.8L300.5 35.9L301.3 36L302 36.1L302.7 36.3L303.4 36.6L304 36.9L304.6 37.3L305.2 37.7L305.7 38.2L306.1 38.8L306.5 39.4L306.7 40.2L306.9 41.1L307 42.1L307.1 43.2L307.2 44.4L307.2 45.6L307.2 46.9L307.2 48.4L307.1 49.9L307.1 51.5L307 53L306.9 54.4L306.9 55.7L306.9 57.1L306.9 58.3L306.8 59.5L306.7 60.6L306.6 61.4L306.3 62.1L306.1 62.6L305.8 62.9L305.4 63.1L304.9 63.3L304.3 63.5L303.5 63.6L302.5 63.7L301.4 63.7L300.3 63.7L299.2 63.7L298.1 63.7L297.1 64L296 64.6L295 65.2L294.1 65.5L293.2 65L292.7 63.5L292.3 60.4L292.2 55.9L292.2 50.6L292.3 45.4L292.5 40.9Z" fill="#000" fill-opacity="0.07" stroke="#888" stroke-opacity="1" stroke-width="0.55" stroke-linejoin="round"/>
<ellipse cx="298" cy="44.2" rx="4.6" ry="5.6" fill="none" stroke="#222" stroke-opacity=".55" stroke-width="2.6" filter="url(#soft3)"/>
<ellipse cx="298" cy="44" rx="6.3" ry="7.2" fill="none" stroke="#777" stroke-opacity=".6" stroke-width=".7"/>
<path d="M293.2 54Q293.5 61 296.5 64.5M304.5 54.5Q304 61 300.5 64.5" stroke="#333" stroke-opacity=".7" stroke-width="1.3" fill="none" filter="url(#soft3)"/>
<path d="M296 54Q296.5 60 298.5 64M301.5 54Q301 60 299.5 64M298.7 54v9" stroke="#777" stroke-opacity=".7" stroke-width=".6" fill="none"/>
</g>
<rect x="291.5" y="11.2" width="62.5" height="62.4" fill="none" stroke="#6a6a6a" stroke-width="1"/>
<line x1="309.5" y1="11.2" x2="309.5" y2="73.6" stroke="#7a7a7a" stroke-width=".9"/>
<line x1="291.5" y1="53" x2="354" y2="53" stroke="#7a7a7a" stroke-width=".9"/>
<text transform="translate(292.4 16.7) scale(1 0.78)" font-size="6.9" text-anchor="start" stroke="#000" stroke-width="0.4">49.39</text>
<text transform="translate(353.4 16.7) scale(1 0.78)" font-size="6.9" text-anchor="end" stroke="#000" stroke-width="0.4">0.76</text>
<text transform="translate(292.4 72.7) scale(1 0.78)" font-size="6.9" text-anchor="start" stroke="#000" stroke-width="0.4">49.00</text>
<text transform="translate(353.4 72.7) scale(1 0.78)" font-size="6.9" text-anchor="end" stroke="#000" stroke-width="0.4">0.85</text>
<clipPath id="cb1"><rect x="373.8" y="11.2" width="63.2" height="63"/></clipPath>
<g clip-path="url(#cb1)">
<path d="M374.1 40.5L374.5 38.2L375.1 37.2L375.8 37.1L376.6 37.5L377.3 37.9L378 38L378.7 37.7L379.4 37.5L380.1 37.3L380.7 37.2L381.4 37.2L382 37.2L382.6 37.3L383.1 37.5L383.5 37.8L384 38.1L384.5 38.5L385 39L385.6 39.6L386.1 40.3L386.7 41.1L387.3 42L387.9 42.8L388.5 43.5L389.1 44.2L389.7 44.9L390.2 45.5L390.8 46.2L391.4 46.7L392 47.2L392.6 47.6L393.2 48L393.8 48.2L394.4 48.4L394.9 48.5L395.5 48.5L396 48.3L396.5 47.9L397 47.5L397.5 47L398 46.5L398.5 46L399 45.6L399.6 45.1L400.1 44.6L400.7 44.2L401.3 43.8L402 43.5L402.7 43.3L403.6 43.1L404.4 43L405.3 42.9L406.1 42.8L407 42.8L407.8 42.8L408.7 42.9L409.5 42.9L410.4 43.1L411.2 43.3L412 43.5L412.8 43.8L413.6 44.1L414.4 44.5L415.2 45L415.9 45.5L416.5 46L417.1 46.5L417.6 47.1L418 47.7L418.4 48.4L418.7 49.1L418.8 50L418.8 51L418.7 52.1L418.5 53.2L418.2 54.5L417.8 55.7L417.5 57L417.2 58.3L416.8 59.6L416.4 61L416 62.4L415.5 63.7L415 65L414.5 66.3L413.9 67.5L413.4 68.8L412.8 69.9L412.2 71L411.5 72L411.1 72.9L411.1 73.7L411.1 74.4L410.6 75.1L409.4 75.6L407 76L402.8 76.6L396.9 77.6L390.2 78.5L383.6 78.8L377.9 78.1L374 76L372.1 71.8L371.4 65.6L371.7 58.4L372.6 51.2L373.5 44.9Z" fill="#000" fill-opacity="0.11" stroke="#999" stroke-opacity="1" stroke-width="0.6" stroke-linejoin="round"/>
<path d="M374.2 42.5L374.6 42.2L375 41.8L375.6 41.3L376.2 40.8L376.9 40.3L377.5 40L378.1 39.8L378.8 39.6L379.5 39.4L380.2 39.4L380.9 39.4L381.5 39.5L382.1 39.7L382.7 40.1L383.3 40.5L383.9 40.9L384.4 41.5L385 42L385.6 42.6L386.2 43.2L386.8 43.9L387.4 44.6L387.9 45.3L388.5 46L389 46.6L389.6 47.2L390.1 47.8L390.6 48.4L391.1 48.9L391.5 49.5L391.9 50.1L392.3 50.8L392.7 51.5L393 52.1L393.3 52.6L393.5 53" fill="none" fill-opacity="1" stroke="#8a8a8a" stroke-opacity="1" stroke-width="0.5" stroke-linejoin="round"/>
<path d="M374.2 44.3L374.6 44L375 43.6L375.6 43.2L376.2 42.7L376.9 42.3L377.5 42L378.1 41.8L378.8 41.7L379.5 41.6L380.2 41.5L380.9 41.6L381.5 41.7L382.1 41.9L382.7 42.2L383.3 42.6L383.9 43L384.4 43.5L385 44L385.6 44.6L386.2 45.2L386.8 45.8L387.4 46.5L387.9 47.2L388.5 47.8L389 48.4L389.6 48.9L390.1 49.5L390.6 50L391.1 50.6L391.5 51.1L391.9 51.7L392.3 52.3L392.7 52.9L393 53.5L393.3 54L393.5 54.3" fill="none" fill-opacity="1" stroke="#8a8a8a" stroke-opacity="1" stroke-width="0.5" stroke-linejoin="round"/>
<path d="M374.2 46.1L374.6 45.8L375 45.5L375.6 45.1L376.2 44.6L376.9 44.3L377.5 44L378.1 43.8L378.8 43.7L379.5 43.7L380.2 43.7L380.9 43.8L381.5 43.9L382.1 44.1L382.7 44.4L383.3 44.7L383.9 45.1L384.4 45.5L385 46L385.6 46.5L386.2 47.1L386.8 47.7L387.4 48.4L387.9 49L388.5 49.6L389 50.1L389.6 50.7L390.1 51.2L390.6 51.7L391.1 52.2L391.5 52.7L391.9 53.2L392.3 53.8L392.7 54.3L393 54.9L393.3 55.3L393.5 55.6" fill="none" fill-opacity="1" stroke="#8a8a8a" stroke-opacity="1" stroke-width="0.5" stroke-linejoin="round"/>
<path d="M374.2 47.9L374.6 47.7L375 47.3L375.6 46.9L376.2 46.6L376.9 46.2L377.5 46L378.1 45.9L378.8 45.8L379.5 45.8L380.2 45.9L380.9 46L381.5 46.1L382.1 46.3L382.7 46.5L383.3 46.8L383.9 47.2L384.4 47.6L385 48L385.6 48.5L386.2 49L386.8 49.6L387.4 50.2L387.9 50.8L388.5 51.4L389 51.9L389.6 52.4L390.1 52.9L390.6 53.4L391.1 53.8L391.5 54.3L391.9 54.8L392.3 55.3L392.7 55.8L393 56.2L393.3 56.6L393.5 56.9" fill="none" fill-opacity="1" stroke="#8a8a8a" stroke-opacity="1" stroke-width="0.5" stroke-linejoin="round"/>
<path d="M374.2 49.7L374.6 49.5L375 49.2L375.6 48.8L376.2 48.5L376.9 48.2L377.5 48L378.1 47.9L378.8 47.9L379.5 47.9L380.2 48L380.9 48.1L381.5 48.3L382.1 48.5L382.7 48.7L383.3 49L383.9 49.3L384.4 49.6L385 50L385.6 50.5L386.2 51L386.8 51.5L387.4 52.1L387.9 52.7L388.5 53.2L389 53.7L389.6 54.2L390.1 54.6L390.6 55L391.1 55.5L391.5 55.9L391.9 56.3L392.3 56.8L392.7 57.2L393 57.6L393.3 58L393.5 58.2" fill="none" fill-opacity="1" stroke="#8a8a8a" stroke-opacity="1" stroke-width="0.5" stroke-linejoin="round"/>
<path d="M397.5 53L397.8 52.4L398.2 51.6L398.7 50.7L399.3 49.7L399.9 48.7L400.5 48L401.2 47.4L401.9 46.9L402.6 46.4L403.4 46.1L404.2 45.7L405 45.5L405.8 45.3L406.6 45.2L407.5 45.2L408.4 45.3L409.2 45.4L410 45.5L410.8 45.7L411.6 46L412.4 46.3L413.2 46.6L413.9 47.1L414.5 47.5L415.1 48L415.6 48.7L416 49.4L416.4 50L416.8 50.6L417 51" fill="none" fill-opacity="1" stroke="#8a8a8a" stroke-opacity="1" stroke-width="0.5" stroke-linejoin="round"/>
<path d="M397.5 54.2L397.8 53.7L398.2 52.9L398.7 52.1L399.3 51.1L399.9 50.3L400.5 49.6L401.2 49L401.9 48.5L402.6 48.1L403.4 47.7L404.2 47.4L405 47.2L405.8 47.1L406.6 47L407.5 47L408.4 47L409.2 47.2L410 47.3L410.8 47.5L411.6 47.7L412.4 48L413.2 48.3L413.9 48.7L414.5 49.1L415.1 49.6L415.6 50.2L416 50.8L416.4 51.4L416.8 51.9L417 52.3" fill="none" fill-opacity="1" stroke="#8a8a8a" stroke-opacity="1" stroke-width="0.5" stroke-linejoin="round"/>
<path d="M397.5 55.4L397.8 54.9L398.2 54.2L398.7 53.4L399.3 52.6L399.9 51.8L400.5 51.2L401.2 50.7L401.9 50.2L402.6 49.8L403.4 49.4L404.2 49.1L405 48.9L405.8 48.8L406.6 48.7L407.5 48.8L408.4 48.8L409.2 49L410 49.1L410.8 49.3L411.6 49.5L412.4 49.7L413.2 50L413.9 50.3L414.5 50.7L415.1 51.1L415.6 51.7L416 52.3L416.4 52.8L416.8 53.3L417 53.6" fill="none" fill-opacity="1" stroke="#8a8a8a" stroke-opacity="1" stroke-width="0.5" stroke-linejoin="round"/>
<path d="M397.5 56.6L397.8 56.2L398.2 55.6L398.7 54.8L399.3 54.1L399.9 53.4L400.5 52.8L401.2 52.3L401.9 51.9L402.6 51.4L403.4 51.1L404.2 50.8L405 50.6L405.8 50.5L406.6 50.5L407.5 50.5L408.4 50.6L409.2 50.8L410 50.9L410.8 51.1L411.6 51.2L412.4 51.5L413.2 51.7L413.9 52L414.5 52.3L415.1 52.7L415.6 53.2L416 53.7L416.4 54.2L416.8 54.6L417 54.9" fill="none" fill-opacity="1" stroke="#8a8a8a" stroke-opacity="1" stroke-width="0.5" stroke-linejoin="round"/>
<path d="M397 60Q403 55 409 60T416 62M398 66Q405 62 410 67M402 70Q407 66 413 69" stroke="#8a8a8a" stroke-width=".5" fill="none"/>
<path d="M374.5 58.5H392M374.5 61H392" stroke="#999" stroke-width=".6"/>
<rect x="374.3" y="57.5" width="18" height="8" fill="#000" fill-opacity=".06"/>
<path d="M374.5 65L392 65.5" stroke="#444" stroke-width="1.1" stroke-opacity=".8"/>
</g>
<rect x="373.8" y="11.2" width="63.2" height="63" fill="none" stroke="#6a6a6a" stroke-width="1"/>
<line x1="395.5" y1="11.2" x2="395.5" y2="74.2" stroke="#7a7a7a" stroke-width=".9"/>
<line x1="373.8" y1="57.3" x2="437" y2="57.3" stroke="#7a7a7a" stroke-width=".9"/>
<text transform="translate(374.7 16.7) scale(1 0.78)" font-size="6.9" text-anchor="start" stroke="#000" stroke-width="0.4">8.65</text>
<text transform="translate(436.4 16.7) scale(1 0.78)" font-size="6.9" text-anchor="end" stroke="#000" stroke-width="0.4">5.68</text>
<text transform="translate(374.7 73.3) scale(1 0.78)" font-size="6.9" text-anchor="start" stroke="#000" stroke-width="0.4">79.37</text>
<text transform="translate(436.4 73.3) scale(1 0.78)" font-size="6.9" text-anchor="end" stroke="#000" stroke-width="0.4">6.30</text>
<clipPath id="cb2"><rect x="454.7" y="12" width="63.8" height="62.6"/></clipPath>
<g clip-path="url(#cb2)">
<path d="M455 51L455.3 49.2L455.7 48.3L456.2 48.1L456.8 48.1L457.4 48.2L458 48L458.6 47.6L459.3 47.2L459.9 46.8L460.6 46.5L461.3 46.2L462 46L462.7 45.8L463.3 45.7L464 45.7L464.7 45.6L465.3 45.6L466 45.5L466.7 45.4L467.3 45.3L468 45.2L468.7 45L469.3 44.9L470 44.8L470.7 44.7L471.4 44.6L472.1 44.5L472.8 44.4L473.4 44.2L474 44L474.5 43.7L475 43.4L475.4 43.1L475.8 42.7L476.2 42.4L476.5 42L476.8 41.6L477 41.2L477.2 40.7L477.4 40.3L477.6 39.9L478 39.5L478.5 39.1L479.1 38.8L479.8 38.5L480.6 38.2L481.3 37.9L482 37.8L482.7 37.7L483.4 37.7L484 37.8L484.7 37.9L485.4 38.1L486 38.3L486.6 38.6L487.3 39L487.9 39.4L488.5 39.8L489 40.4L489.5 41L489.9 41.7L490.3 42.5L490.6 43.3L490.9 44.2L491.2 45.1L491.5 46L491.8 46.9L492 47.9L492.2 48.9L492.4 50L492.7 51L493 52L493.4 53L493.8 54L494.2 55L494.7 56L495.1 57L495.5 58L495.9 59L496.3 60L496.7 61L497 62L497.3 63L497.5 64L497.6 65L497.7 66L497.7 67L497.6 68L497.5 69L497.3 70L497.5 71.1L498.1 72.2L498.6 73.4L498.6 74.4L497.6 75.3L495 76L490.1 76.6L483 77.4L474.9 77.9L466.8 78.1L459.8 77.5L455 76L452.7 73L451.9 68.7L452.3 63.7L453.3 58.6L454.4 54.2Z" fill="#000" fill-opacity="0.07" stroke="#999" stroke-opacity="1" stroke-width="0.6" stroke-linejoin="round"/>
<path d="M455 52.5L455.4 52.2L456 51.7L456.8 51.1L457.5 50.5L458.3 50L459 49.5L459.7 49.1L460.3 48.7L461 48.3L461.7 48L462.3 47.7L463 47.5L463.7 47.3L464.3 47.2L465 47.2L465.7 47.1L466.3 47.1L467 47L467.7 46.9L468.3 46.9L468.9 46.8L469.6 46.7L470.3 46.6L471 46.5L471.8 46.4L472.8 46.2L473.8 46L474.7 45.8L475.4 45.6L476 45.5" fill="none" fill-opacity="1" stroke="#8a8a8a" stroke-opacity="1" stroke-width="0.5" stroke-linejoin="round"/>
<path d="M455 54.1L455.4 53.8L456 53.3L456.8 52.8L457.5 52.2L458.3 51.7L459 51.2L459.7 50.8L460.3 50.4L461 50.1L461.7 49.8L462.3 49.5L463 49.3L463.7 49.1L464.3 49.1L465 49L465.7 49L466.3 48.9L467 48.9L467.7 48.8L468.3 48.8L468.9 48.7L469.6 48.7L470.3 48.6L471 48.5L471.8 48.4L472.8 48.2L473.8 48L474.7 47.9L475.4 47.7L476 47.6" fill="none" fill-opacity="1" stroke="#8a8a8a" stroke-opacity="1" stroke-width="0.5" stroke-linejoin="round"/>
<path d="M455 55.7L455.4 55.4L456 54.9L456.8 54.4L457.5 53.9L458.3 53.3L459 52.9L459.7 52.5L460.3 52.2L461 51.8L461.7 51.6L462.3 51.3L463 51.1L463.7 51L464.3 50.9L465 50.9L465.7 50.8L466.3 50.8L467 50.8L467.7 50.8L468.3 50.7L468.9 50.7L469.6 50.6L470.3 50.6L471 50.5L471.8 50.4L472.8 50.2L473.8 50.1L474.7 49.9L475.4 49.8L476 49.7" fill="none" fill-opacity="1" stroke="#8a8a8a" stroke-opacity="1" stroke-width="0.5" stroke-linejoin="round"/>
<path d="M455 57.3L455.4 57L456 56.6L456.8 56.1L457.5 55.5L458.3 55L459 54.6L459.7 54.2L460.3 53.9L461 53.6L461.7 53.3L462.3 53.1L463 52.9L463.7 52.8L464.3 52.7L465 52.7L465.7 52.7L466.3 52.7L467 52.7L467.7 52.7L468.3 52.7L468.9 52.6L469.6 52.6L470.3 52.6L471 52.5L471.8 52.4L472.8 52.3L473.8 52.1L474.7 52L475.4 51.9L476 51.8" fill="none" fill-opacity="1" stroke="#8a8a8a" stroke-opacity="1" stroke-width="0.5" stroke-linejoin="round"/>
<path d="M455 58.9L455.4 58.6L456 58.2L456.8 57.7L457.5 57.2L458.3 56.7L459 56.3L459.7 56L460.3 55.6L461 55.3L461.7 55.1L462.3 54.9L463 54.7L463.7 54.6L464.3 54.6L465 54.6L465.7 54.6L466.3 54.6L467 54.6L467.7 54.6L468.3 54.6L468.9 54.6L469.6 54.6L470.3 54.5L471 54.5L471.8 54.4L472.8 54.3L473.8 54.2L474.7 54.1L475.4 54L476 53.9" fill="none" fill-opacity="1" stroke="#8a8a8a" stroke-opacity="1" stroke-width="0.5" stroke-linejoin="round"/>
<path d="M477.6 45L477.8 43.9L478 43.1L478.2 42.6L478.5 42.3L478.8 42L479.2 41.7L479.6 41.4L480 41.1L480.5 41L481 40.8L481.6 40.8L482.1 40.7L482.6 40.7L483.2 40.7L483.8 40.8L484.3 40.9L484.9 41L485.4 41.3L485.9 41.6L486.3 42L486.8 42.5L487.2 43L487.5 43.6L487.9 44.2L488.2 44.9L488.5 45.7L488.8 46.5L489.1 47.4L489.3 48.3L489.6 49.2L489.8 50.1L490 51L490.2 52L490.4 53L490.6 54L490.8 55L491 55.9L491.3 56.9L491.6 57.9L491.8 58.9L492 59.8L492 60.8L492 61.8L491.9 62.9L491.7 64L491.4 65L490.9 65.9L490.4 66.6L489.7 67.1L488.8 67.6L487.7 67.8L486.7 68L485.6 68.2L484.6 68.3L483.6 68.4L482.5 68.5L481.4 68.5L480.4 68.4L479.5 68.1L478.8 67.4L478.3 66.4L478 65.2L477.8 63.6L477.7 62L477.7 60.2L477.6 58.3L477.5 56.2L477.5 53.8L477.4 51.3L477.4 48.9L477.5 46.7Z" fill="#000" fill-opacity="0.04" stroke="#8a8a8a" stroke-opacity="1" stroke-width="0.5" stroke-linejoin="round"/>
<path d="M478.6 46L478.7 45.1L478.9 44.5L479.1 44.1L479.3 43.8L479.6 43.6L479.9 43.4L480.2 43.1L480.5 43L480.9 42.8L481.3 42.7L481.8 42.6L482.2 42.6L482.6 42.6L483.1 42.6L483.5 42.6L484 42.7L484.4 42.9L484.8 43.1L485.2 43.3L485.5 43.6L485.9 44L486.2 44.4L486.5 44.9L486.8 45.4L487.1 45.9L487.3 46.6L487.5 47.2L487.7 47.9L487.9 48.6L488.1 49.3L488.3 50.1L488.5 50.8L488.6 51.6L488.8 52.4L488.9 53.2L489.1 54L489.3 54.7L489.5 55.5L489.7 56.3L489.9 57L490.1 57.8L490.1 58.6L490 59.4L489.9 60.2L489.8 61.1L489.5 61.9L489.2 62.6L488.8 63.2L488.2 63.6L487.5 64L486.7 64.2L485.8 64.3L485 64.5L484.1 64.5L483.3 64.6L482.5 64.7L481.6 64.7L480.8 64.6L480.1 64.4L479.5 63.9L479.2 63.1L478.9 62.1L478.8 60.8L478.7 59.5L478.7 58.1L478.6 56.6L478.5 54.9L478.5 53L478.5 51L478.5 49.1L478.5 47.4Z" fill="#000" fill-opacity="0.04" stroke="#8a8a8a" stroke-opacity="1" stroke-width="0.5" stroke-linejoin="round"/>
<path d="M479.6 47.1L479.7 46.4L479.8 45.9L480 45.6L480.1 45.4L480.3 45.3L480.5 45.1L480.8 44.9L481 44.8L481.3 44.7L481.6 44.6L481.9 44.5L482.3 44.5L482.6 44.5L482.9 44.5L483.3 44.5L483.6 44.6L483.9 44.7L484.2 44.9L484.5 45L484.8 45.3L485 45.6L485.2 45.9L485.5 46.2L485.7 46.6L485.9 47L486.1 47.4L486.2 47.9L486.4 48.4L486.5 49L486.7 49.5L486.8 50.1L486.9 50.6L487 51.2L487.2 51.8L487.3 52.4L487.4 52.9L487.5 53.5L487.7 54.1L487.9 54.7L488 55.2L488.1 55.8L488.1 56.4L488.1 57L488 57.6L487.9 58.2L487.7 58.8L487.5 59.4L487.2 59.8L486.7 60.1L486.2 60.4L485.6 60.5L485 60.7L484.3 60.7L483.7 60.8L483.1 60.8L482.5 60.9L481.8 60.9L481.2 60.9L480.7 60.7L480.3 60.3L480 59.7L479.8 58.9L479.7 58.1L479.7 57.1L479.7 56L479.6 54.9L479.6 53.7L479.5 52.3L479.5 50.8L479.5 49.3L479.5 48.1Z" fill="#000" fill-opacity="0.04" stroke="#8a8a8a" stroke-opacity="1" stroke-width="0.5" stroke-linejoin="round"/>
<path d="M480.6 48.1L480.7 47.6L480.8 47.3L480.8 47.1L481 47L481.1 46.9L481.2 46.8L481.4 46.7L481.5 46.6L481.7 46.5L481.9 46.5L482.1 46.4L482.3 46.4L482.5 46.4L482.8 46.4L483 46.4L483.2 46.5L483.4 46.5L483.6 46.6L483.8 46.8L484 46.9L484.1 47.1L484.3 47.3L484.4 47.5L484.6 47.8L484.7 48L484.8 48.3L484.9 48.6L485 49L485.1 49.3L485.2 49.7L485.3 50L485.4 50.4L485.5 50.8L485.5 51.2L485.6 51.5L485.7 51.9L485.8 52.3L485.9 52.7L486 53L486.1 53.4L486.2 53.8L486.2 54.2L486.2 54.6L486.1 55L486 55.4L485.9 55.8L485.8 56.1L485.5 56.4L485.3 56.6L484.9 56.8L484.5 56.9L484.1 57L483.7 57L483.3 57L482.9 57.1L482.5 57.1L482.1 57.1L481.7 57.1L481.3 57L481.1 56.7L480.9 56.3L480.8 55.8L480.7 55.3L480.7 54.6L480.6 53.9L480.6 53.2L480.6 52.4L480.6 51.5L480.5 50.5L480.6 49.6L480.6 48.7Z" fill="#000" fill-opacity="0.04" stroke="#8a8a8a" stroke-opacity="1" stroke-width="0.5" stroke-linejoin="round"/>
<ellipse cx="482.5" cy="51" rx="2.3" ry="4.2" fill="#000" fill-opacity=".12" stroke="#777" stroke-width=".6"/>
<rect x="477" y="44" width="10" height="16" fill="#000" fill-opacity=".07" filter="url(#soft3)"/>
<path d="M455.5 61.8Q463 61 468 62.8T474.5 63.8" stroke="#222" stroke-width="1.6" fill="none" stroke-opacity=".85"/>
<path d="M455.5 65.5Q465 65 474 66.5M455.5 59.5Q465 59 475 60.5M477 61Q485 60 490 62M478 65Q486 64 492 66.5M479 69Q487 68 494 70" stroke="#8a8a8a" stroke-width=".55" fill="none"/>
</g>
<rect x="454.7" y="12" width="63.8" height="62.6" fill="none" stroke="#6a6a6a" stroke-width="1"/>
<line x1="476.3" y1="12" x2="476.3" y2="74.6" stroke="#7a7a7a" stroke-width=".9"/>
<line x1="454.7" y1="58.2" x2="518.5" y2="58.2" stroke="#7a7a7a" stroke-width=".9"/>
<text transform="translate(455.6 17.5) scale(1 0.78)" font-size="6.9" text-anchor="start" stroke="#000" stroke-width="0.4">8.00</text>
<text transform="translate(517.9 17.5) scale(1 0.78)" font-size="6.9" text-anchor="end" stroke="#000" stroke-width="0.4">17.15</text>
<text transform="translate(455.6 73.7) scale(1 0.78)" font-size="6.9" text-anchor="start" stroke="#000" stroke-width="0.4">48.09</text>
<text transform="translate(517.9 73.7) scale(1 0.78)" font-size="6.9" text-anchor="end" stroke="#000" stroke-width="0.4">26.77</text>
<clipPath id="cb3"><rect x="291.2" y="98" width="62.8" height="61.8"/></clipPath>
<g clip-path="url(#cb3)">
<path d="M291.6 137.5L291.6 136.6L291.5 135.3L291.5 133.8L291.4 132.3L291.5 131L291.6 130L291.9 129.4L292.2 129.1L292.6 129L293.1 129L293.5 128.8L294 128.5L294.5 127.9L295 127.2L295.5 126.5L296 125.7L296.5 125L297 124.5L297.5 124.1L297.9 123.8L298.3 123.6L298.7 123.5L299.1 123.4L299.5 123.5L299.8 123.7L300.1 124L300.4 124.5L300.7 125L301.1 125.5L301.5 126L302 126.5L302.5 127.1L303.1 127.7L303.7 128.3L304.4 128.9L305 129.5L305.6 130L306.3 130.6L307 131.1L307.7 131.6L308.4 132.1L309 132.5L309.6 132.9L310.3 133.3L310.9 133.6L311.5 133.9L311.9 134.1L312.3 134.3" fill="none" fill-opacity="1" stroke="#8a8a8a" stroke-opacity="1" stroke-width="0.6" stroke-linejoin="round"/>
<path d="M291.6 132.5L291.9 132.4L292.2 132.2L292.6 132L293.1 131.7L293.5 131.4L294 131L294.5 130.5L295 129.9L295.5 129.2L296 128.6L296.5 128L297 127.5L297.4 127.1L297.9 126.9L298.3 126.6L298.7 126.5L299.1 126.4L299.5 126.5L299.9 126.7L300.3 127.1L300.7 127.5L301.1 128L301.5 128.5L302 129L302.6 129.4L303.2 129.8L303.9 130.2L304.6 130.7L305.3 131.1L306 131.5L306.7 131.9L307.4 132.4L308.1 132.8L308.8 133.3L309.4 133.7L310 134L310.5 134.3L311 134.6L311.4 134.8L311.8 135L312.1 135.1L312.3 135.2" fill="none" fill-opacity="1" stroke="#8a8a8a" stroke-opacity="1" stroke-width="0.5" stroke-linejoin="round"/>
<path d="M291.6 135L291.9 134.9L292.2 134.7L292.6 134.5L293.1 134.2L293.5 133.9L294 133.5L294.5 133L295 132.4L295.5 131.7L296 131.1L296.5 130.5L297 130L297.4 129.6L297.9 129.4L298.3 129.1L298.7 129L299.1 128.9L299.5 129L299.9 129.2L300.3 129.6L300.7 130.1L301.1 130.6L301.5 131.1L302 131.5L302.6 131.8L303.2 132.1L303.9 132.3L304.6 132.5L305.3 132.7L306 133L306.7 133.3L307.4 133.7L308.1 134L308.8 134.4L309.4 134.7L310 135L310.5 135.2L311 135.4L311.4 135.6L311.8 135.8L312.1 135.9L312.3 136" fill="none" fill-opacity="1" stroke="#8a8a8a" stroke-opacity="1" stroke-width="0.5" stroke-linejoin="round"/>
<path d="M291.6 137.3L291.9 137.2L292.2 137L292.6 136.9L293.1 136.6L293.5 136.4L294 136L294.5 135.5L295 134.9L295.5 134.2L296 133.6L296.5 133L297 132.5L297.4 132.1L297.9 131.9L298.3 131.6L298.7 131.5L299.1 131.4L299.5 131.5L299.9 131.7L300.3 132.1L300.7 132.7L301.1 133.2L301.5 133.7L302 134L302.6 134.2L303.2 134.3L303.9 134.3L304.6 134.3L305.3 134.4L306 134.5L306.7 134.7L307.4 135L308.1 135.2L308.8 135.5L309.4 135.8L310 136L310.5 136.2L311 136.3L311.4 136.5L311.8 136.6L312.1 136.7L312.3 136.8" fill="none" fill-opacity="1" stroke="#8a8a8a" stroke-opacity="1" stroke-width="0.5" stroke-linejoin="round"/>
<defs><linearGradient id="g4" x1="0" y1="0" x2="1" y2="0"><stop offset="0" stop-color="#333"/><stop offset=".55" stop-color="#777"/><stop offset="1" stop-color="#bbb"/></linearGradient></defs>
<rect x="291.7" y="137.8" width="20.5" height="15.5" fill="url(#g4)" fill-opacity=".7" filter="url(#soft3)"/>
<ellipse cx="294.5" cy="148.5" rx="2.6" ry="3.6" fill="#000" fill-opacity="1" filter="url(#soft5)"/>
<ellipse cx="302.5" cy="143.5" rx="2.4" ry="2.2" fill="#000" fill-opacity=".9" filter="url(#soft5)"/>
<ellipse cx="299" cy="151.5" rx="2" ry="1.5" fill="#111" fill-opacity=".8" filter="url(#soft5)"/>
<ellipse cx="307.5" cy="149" rx="2.6" ry="2.6" fill="#fff" fill-opacity=".5" filter="url(#soft5)"/>
<path d="M313 141L313.3 140.2L313.7 139.8L314.2 139.6L314.7 139.5L315.3 139.5L316 139.5L316.7 139.5L317.5 139.6L318.4 139.8L319.3 140L320.1 140.3L321 140.5L321.8 140.8L322.7 141.1L323.6 141.4L324.4 141.7L325.2 141.9L326 142L326.7 141.9L327.4 141.5L328 141.1L328.6 140.7L329.3 140.3L330 140L330.8 139.8L331.6 139.7L332.4 139.6L333.3 139.5L334.2 139.5L335 139.5L335.8 139.6L336.7 139.7L337.5 139.9L338.4 140.1L339.2 140.3L340 140.5L340.8 140.6L341.7 140.7L342.5 140.8L343.3 141L344 141.2L344.5 141.5L344.9 141.9L345.1 142.5L345.2 143.1L345.2 143.7L345.2 144.4L345 145L344.7 145.7L344.3 146.4L343.8 147.1L343.2 147.8L342.6 148.4L342 149L341.4 149.5L340.8 150L340.1 150.5L339.4 150.9L338.7 151.2L338 151.5L337.2 151.7L336.4 151.9L335.6 152L334.8 152.1L333.9 152.1L333 152L332 151.8L331 151.4L330 150.9L329 150.4L328 150.1L327 150L326.1 150.2L325.3 150.6L324.5 151.1L323.7 151.6L322.9 152.1L322 152.5L321 152.7L320 152.9L318.9 153L317.8 153.1L316.8 153.1L316 153L315.3 152.9L314.7 152.8L314.1 152.7L313.7 152.4L313.3 151.8L313 151L312.8 149.7L312.7 147.9L312.6 146L312.7 144L312.8 142.3Z" fill="none" fill-opacity="1" stroke="#8a8a8a" stroke-opacity="1" stroke-width="0.6" stroke-linejoin="round"/>
<path d="M315 142.5Q321 141 326 146.5Q321 152 315 150.5Q317.5 146.5 315 142.5Z" fill="none" stroke="#8a8a8a" stroke-width=".6"/>
<path d="M317.5 144.5Q321 144 323.5 146.5Q321 149.5 317.5 148.5Q319 146.5 317.5 144.5Z" fill="none" stroke="#8a8a8a" stroke-width=".6"/>
<ellipse cx="332" cy="146.3" rx="5" ry="4.3" fill="none" stroke="#8a8a8a" stroke-width=".6"/>
<ellipse cx="332" cy="146.3" rx="2.6" ry="2.4" fill="none" stroke="#8a8a8a" stroke-width=".6"/>
<path d="M338 142Q343 141.5 344 144Q342 148 338 149.5" fill="none" stroke="#8a8a8a" stroke-width=".6"/>
</g>
<rect x="291.2" y="98" width="62.8" height="61.8" fill="none" stroke="#6a6a6a" stroke-width="1"/>
<line x1="312.5" y1="98" x2="312.5" y2="159.8" stroke="#7a7a7a" stroke-width=".9"/>
<line x1="291.2" y1="137.5" x2="354" y2="137.5" stroke="#7a7a7a" stroke-width=".9"/>
<text transform="translate(292.1 103.5) scale(1 0.78)" font-size="6.9" text-anchor="start" stroke="#000" stroke-width="0.4">2.67</text>
<text transform="translate(353.4 103.5) scale(1 0.78)" font-size="6.9" text-anchor="end" stroke="#000" stroke-width="0.4">0.14</text>
<text transform="translate(292.1 158.9) scale(1 0.78)" font-size="6.9" text-anchor="start" stroke="#000" stroke-width="0.4">90.69</text>
<text transform="translate(353.4 158.9) scale(1 0.78)" font-size="6.9" text-anchor="end" stroke="#000" stroke-width="0.4">6.51</text>
<clipPath id="cb4"><rect x="373.8" y="97.8" width="63.2" height="61.2"/></clipPath>
<g clip-path="url(#cb4)">
<path d="M397 158.5L395.7 156.4L395.4 153.5L395.6 150L396.1 146.4L396.6 142.9L396.8 140L396.8 137.6L396.8 135.3L396.7 133.3L396.7 131.4L396.8 129.6L397 128L397.3 126.5L397.6 125.1L398 123.9L398.4 122.8L398.9 121.9L399.5 121L400.1 120.3L400.8 119.7L401.5 119.2L402.3 118.8L403.1 118.5L404 118.2L404.9 118L406 117.9L407 117.8L408.1 117.8L409.1 117.9L410 118L410.8 118.2L411.5 118.4L412.2 118.6L412.9 119L413.4 119.4L414 120L414.5 120.7L415 121.6L415.4 122.6L415.8 123.6L416.2 124.8L416.5 126L416.8 127.3L417.1 128.7L417.4 130.2L417.6 131.8L417.8 133.4L418 135L418.2 136.6L418.3 138.1L418.4 139.7L418.4 141.4L418.5 143.1L418.5 145L418.7 147.2L419.2 149.7L419.7 152.4L419.9 154.9L419.5 157L418.2 158.5L415.6 159.5L411.9 160.2L407.6 160.5L403.3 160.4L399.6 159.7Z" fill="#000" fill-opacity="0.06" stroke="#8a8a8a" stroke-opacity="1" stroke-width="0.6" stroke-linejoin="round"/>
<path d="M398.5 156.6L397.4 154.8L397.1 152.3L397.2 149.3L397.7 146.2L398.1 143.2L398.3 140.7L398.3 138.6L398.3 136.7L398.2 134.9L398.3 133.3L398.3 131.8L398.5 130.4L398.7 129.1L399 127.9L399.3 126.9L399.7 125.9L400.1 125.1L400.6 124.4L401.2 123.7L401.7 123.2L402.4 122.8L403 122.5L403.8 122.2L404.5 122L405.3 121.8L406.2 121.7L407.1 121.6L408 121.6L408.9 121.7L409.6 121.8L410.3 121.9L411 122.1L411.6 122.3L412.1 122.6L412.6 123L413.1 123.5L413.5 124.1L413.9 124.9L414.3 125.7L414.6 126.6L414.9 127.6L415.2 128.7L415.5 129.8L415.8 131L416 132.3L416.2 133.7L416.4 135L416.5 136.4L416.7 137.7L416.8 139.1L416.8 140.5L416.9 141.9L416.9 143.4L417 145L417.2 146.9L417.6 149.1L418 151.3L418.1 153.5L417.8 155.3L416.7 156.6L414.5 157.5L411.3 158.1L407.6 158.3L403.9 158.2L400.7 157.7Z" fill="#000" fill-opacity="0.07" stroke="#8a8a8a" stroke-opacity="1" stroke-width="0.55" stroke-linejoin="round"/>
<ellipse cx="407.5" cy="140" rx="6.5" ry="13" fill="#000" fill-opacity=".35" filter="url(#soft4)"/>
<ellipse cx="407" cy="133" rx="4" ry="6" fill="#000" fill-opacity=".3" filter="url(#soft3)"/>
<path d="M399.9 154.7L399 153.2L398.8 151.1L398.9 148.6L399.3 146L399.6 143.5L399.8 141.4L399.8 139.6L399.8 138L399.7 136.6L399.8 135.2L399.8 133.9L399.9 132.8L400.1 131.7L400.4 130.7L400.6 129.8L401 129L401.3 128.3L401.7 127.7L402.2 127.2L402.7 126.8L403.2 126.4L403.8 126.1L404.4 125.9L405 125.7L405.7 125.6L406.4 125.5L407.2 125.4L407.9 125.4L408.7 125.5L409.3 125.6L409.9 125.7L410.4 125.8L410.9 126L411.4 126.2L411.8 126.6L412.2 127L412.6 127.5L412.9 128.1L413.2 128.8L413.5 129.6L413.7 130.4L414 131.3L414.2 132.3L414.4 133.3L414.6 134.4L414.8 135.5L414.9 136.7L415.1 137.8L415.2 138.9L415.3 140.1L415.3 141.2L415.4 142.4L415.4 143.6L415.4 145L415.6 146.6L415.9 148.4L416.3 150.3L416.4 152.1L416.1 153.6L415.2 154.7L413.4 155.4L410.7 155.9L407.6 156.2L404.5 156.1L401.8 155.6Z" fill="#000" fill-opacity="0.0" stroke="#777" stroke-opacity="1" stroke-width="0.5" stroke-linejoin="round"/>
<path d="M401.7 151.1L401 149.9L400.8 148.3L400.9 146.4L401.2 144.4L401.5 142.5L401.6 140.9L401.6 139.6L401.6 138.3L401.6 137.2L401.6 136.2L401.6 135.2L401.7 134.3L401.9 133.5L402 132.7L402.3 132.1L402.5 131.5L402.8 130.9L403.1 130.4L403.4 130L403.8 129.7L404.2 129.4L404.6 129.2L405.1 129.1L405.6 128.9L406.1 128.8L406.7 128.7L407.2 128.7L407.8 128.7L408.4 128.7L408.9 128.8L409.3 128.9L409.7 129L410.1 129.1L410.4 129.3L410.8 129.6L411.1 129.9L411.4 130.3L411.6 130.8L411.8 131.3L412.1 131.9L412.3 132.5L412.4 133.2L412.6 133.9L412.8 134.7L412.9 135.5L413.1 136.4L413.2 137.3L413.3 138.2L413.4 139L413.4 139.9L413.5 140.7L413.5 141.7L413.5 142.6L413.6 143.7L413.7 144.9L414 146.3L414.2 147.7L414.3 149.1L414.1 150.2L413.4 151.1L412 151.6L409.9 152L407.6 152.2L405.2 152.1L403.1 151.7Z" fill="#000" fill-opacity="0.0" stroke="#777" stroke-opacity="1" stroke-width="0.5" stroke-linejoin="round"/>
<path d="M407.6 136.8h.8M404.7 153.9h.8M406.9 134.4h.8M408.8 155.1h.8M403.5 126.1h.8M413.4 141h.8M411.8 147.5h.8M402.6 128.1h.8M412.1 136h.8M408.8 132h.8M410.4 134.3h.8M403.5 149.5h.8M410 139.6h.8M411.5 130.2h.8M411.3 152.4h.8M409.9 138.6h.8M404 141.8h.8M403.2 142.4h.8M406.2 139.3h.8M408.3 133.1h.8M407.4 141.6h.8M401.4 152.9h.8M406.5 139.3h.8M411.1 146.9h.8M400 155.9h.8M413.6 136.9h.8M409.5 145.1h.8M403.6 142.4h.8M408.6 153.3h.8M399 138h.8M403.4 151.7h.8M403.6 132.6h.8M404.1 141.7h.8M408.4 143.9h.8M405.9 139.9h.8M404.2 134.9h.8M404.8 131.8h.8M415.2 140.7h.8M407.4 137.7h.8M406.4 153.7h.8M414.2 137h.8M407 155.9h.8M403.1 141.4h.8M410.2 135.7h.8M411.1 129.3h.8M410.2 153h.8M403 145h.8M413.5 137.3h.8M407.6 140.1h.8M402.1 140.5h.8M414 140h.8M402.9 142.7h.8M412.8 137.2h.8M413.1 140.1h.8M406.5 128.8h.8M402.7 135h.8M406.9 154.9h.8M414.1 149.6h.8M407.8 144.6h.8M412.3 129.4h.8M406.9 147.4h.8M403.5 153.8h.8M409.3 143.7h.8M408.4 137.4h.8M409.2 137.5h.8M405.3 140h.8M412.5 132.5h.8M410.4 149.2h.8M406.8 137.6h.8M409.5 135.7h.8M401 152.5h.8M402.1 135.8h.8M404.5 139.4h.8M410.7 136.9h.8M406.2 143.1h.8M405 144.7h.8M412.1 144.6h.8M414.5 146h.8M405.3 148.6h.8M402.6 139h.8M410.5 149.7h.8M408.1 140.7h.8M408.9 124.4h.8M408.2 133.8h.8M406.2 129.3h.8M399.9 138.7h.8M409.1 143.7h.8M401.9 134.1h.8M403.3 143.6h.8M410.8 144.7h.8M409.3 153.9h.8M407 139.7h.8M411 129.6h.8M402.7 141.1h.8M414.5 133.2h.8M407.7 134.8h.8M410 144.1h.8M407.7 135.8h.8M405.9 127h.8M403.2 144.9h.8M403.6 144.3h.8M401.7 133.7h.8M407.3 149.6h.8M414.6 137.3h.8M412.7 139h.8M406 148.5h.8M404 130.2h.8M411.8 143.1h.8M407.5 142.8h.8M399.6 145.5h.8M414.5 140.8h.8M409.7 142.7h.8M412.2 146.1h.8M399 147.5h.8M411.3 125.1h.8" stroke="#000" stroke-opacity="0.3" stroke-width="1.0" fill="none"/>
<ellipse cx="408.5" cy="134.5" rx="1.3" ry="2.2" fill="#fff" fill-opacity=".95"/>
</g>
<rect x="373.8" y="97.8" width="63.2" height="61.2" fill="none" stroke="#6a6a6a" stroke-width="1"/>
<line x1="395.3" y1="97.8" x2="395.3" y2="159" stroke="#7a7a7a" stroke-width=".9"/>
<line x1="373.8" y1="142.3" x2="437" y2="142.3" stroke="#7a7a7a" stroke-width=".9"/>
<text transform="translate(374.7 103.3) scale(1 0.78)" font-size="6.9" text-anchor="start" stroke="#000" stroke-width="0.4">1.24</text>
<text transform="translate(436.4 103.3) scale(1 0.78)" font-size="6.9" text-anchor="end" stroke="#000" stroke-width="0.4">48.85</text>
<text transform="translate(374.7 158.1) scale(1 0.78)" font-size="6.9" text-anchor="start" stroke="#000" stroke-width="0.4">1.78</text>
<text transform="translate(436.4 158.1) scale(1 0.78)" font-size="6.9" text-anchor="end" stroke="#000" stroke-width="0.4">48.13</text>
<clipPath id="cb5"><rect x="457.5" y="98.5" width="61.2" height="61.5"/></clipPath>
<g clip-path="url(#cb5)">
<path d="M481 157.5L480.4 156.4L480.2 155L480.3 153.3L480.5 151.5L480.7 149.7L480.8 148L480.8 146.4L480.9 144.7L481 143L481.1 141.4L481.3 139.7L481.5 138L481.8 136.3L482.1 134.6L482.4 132.8L482.7 131.1L483.1 129.5L483.5 128L483.9 126.6L484.3 125.2L484.7 123.8L485.1 122.6L485.5 121.5L486 120.5L486.5 119.7L486.9 119L487.4 118.4L487.9 117.9L488.4 117.5L489 117.3L489.6 117.2L490.2 117.3L490.9 117.4L491.6 117.7L492.3 118.1L493 118.5L493.8 119L494.6 119.7L495.4 120.4L496.2 121.2L497.1 122.1L498 123L499 124L500 125L501 126.1L502 127.3L503 128.4L504 129.5L504.9 130.6L505.8 131.6L506.7 132.7L507.5 133.8L508.3 134.9L509 136L509.6 137.1L510.2 138.3L510.8 139.4L511.3 140.6L511.7 141.8L512 143L512.3 144.3L512.5 145.7L512.6 147.1L512.6 148.5L512.6 149.8L512.5 151L512.3 152.1L512 153.1L511.6 154.1L511.1 155L510.6 155.8L510 156.5L509.4 157.1L508.9 157.5L508.3 157.8L507.5 158.1L506.4 158.3L505 158.5L503 158.6L500.5 158.7L497.8 158.7L494.9 158.6L492.3 158.6L490 158.5L488.1 158.5L486.2 158.6L484.6 158.6L483.1 158.5L481.9 158.2Z" fill="#000" fill-opacity="0.05" stroke="#8a8a8a" stroke-opacity="1" stroke-width="0.6" stroke-linejoin="round"/>
<path d="M483 156.2L482.5 155.2L482.3 154L482.4 152.6L482.5 151L482.7 149.5L482.8 148L482.8 146.6L482.9 145.2L483 143.7L483.1 142.3L483.2 140.8L483.4 139.4L483.6 137.9L483.9 136.5L484.2 135L484.5 133.5L484.8 132.1L485.1 130.8L485.4 129.6L485.8 128.4L486.1 127.2L486.5 126.1L486.9 125.2L487.3 124.3L487.7 123.6L488.1 123L488.5 122.5L488.9 122.1L489.4 121.8L489.8 121.6L490.4 121.5L490.9 121.6L491.5 121.7L492 121.9L492.6 122.2L493.3 122.6L493.9 123.1L494.6 123.6L495.3 124.3L496.1 125L496.8 125.7L497.6 126.5L498.4 127.3L499.3 128.2L500.2 129.2L501.1 130.2L501.9 131.1L502.7 132.1L503.5 133L504.3 133.9L505.1 134.9L505.8 135.8L506.4 136.7L507 137.7L507.6 138.6L508.1 139.6L508.6 140.6L509 141.6L509.3 142.6L509.6 143.7L509.8 144.8L510 146L510.1 147.2L510.2 148.4L510.2 149.5L510.1 150.6L509.9 151.5L509.6 152.4L509.3 153.3L508.9 154L508.4 154.7L507.9 155.3L507.4 155.8L506.9 156.2L506.4 156.5L505.8 156.7L504.8 156.9L503.6 157L501.9 157.1L499.7 157.2L497.4 157.2L494.9 157.2L492.7 157.1L490.7 157L489 157L487.5 157.1L486 157.1L484.8 157L483.8 156.7Z" fill="#000" fill-opacity="0.06" stroke="#8a8a8a" stroke-opacity="1" stroke-width="0.55" stroke-linejoin="round"/>
<path d="M484.9 154.8L484.5 154.1L484.4 153L484.4 151.8L484.5 150.5L484.7 149.2L484.8 148L484.8 146.8L484.9 145.6L484.9 144.4L485 143.2L485.1 142L485.3 140.8L485.5 139.6L485.7 138.3L485.9 137.1L486.2 135.9L486.4 134.7L486.7 133.6L487 132.6L487.3 131.6L487.6 130.6L487.9 129.7L488.2 128.9L488.5 128.2L488.9 127.6L489.2 127.1L489.5 126.7L489.9 126.3L490.3 126.1L490.7 125.9L491.1 125.8L491.6 125.9L492 126L492.5 126.2L493 126.4L493.6 126.8L494.1 127.1L494.7 127.6L495.3 128.1L495.9 128.7L496.5 129.3L497.2 130L497.8 130.7L498.6 131.5L499.3 132.2L500.1 133.1L500.8 133.9L501.5 134.7L502.1 135.5L502.8 136.2L503.4 137L504 137.8L504.6 138.6L505.1 139.4L505.5 140.2L506 141L506.4 141.8L506.7 142.7L507 143.5L507.2 144.4L507.4 145.3L507.6 146.3L507.7 147.3L507.7 148.3L507.7 149.3L507.6 150.2L507.4 151L507.2 151.7L506.9 152.4L506.6 153.1L506.2 153.6L505.8 154.1L505.4 154.5L505 154.8L504.6 155.1L504 155.3L503.2 155.4L502.2 155.6L500.8 155.7L499 155.7L497 155.7L494.9 155.7L493 155.6L491.4 155.6L490 155.6L488.7 155.6L487.5 155.6L486.5 155.6L485.6 155.3Z" fill="#000" fill-opacity="0.0" stroke="#888" stroke-opacity="1" stroke-width="0.5" stroke-linejoin="round"/>
<path d="M487.2 153.3L486.9 152.7L486.7 151.9L486.8 151L486.9 150L487 149L487 148L487.1 147.1L487.1 146.2L487.2 145.2L487.2 144.3L487.3 143.3L487.4 142.4L487.6 141.5L487.7 140.5L487.9 139.5L488.1 138.6L488.3 137.7L488.6 136.8L488.8 136L489 135.2L489.2 134.5L489.5 133.8L489.7 133.1L490 132.6L490.2 132.1L490.5 131.7L490.7 131.4L491 131.1L491.3 130.9L491.6 130.8L492 130.8L492.3 130.8L492.7 130.9L493.1 131L493.5 131.2L493.9 131.5L494.3 131.8L494.8 132.1L495.2 132.6L495.7 133L496.2 133.5L496.7 134L497.2 134.5L497.8 135.1L498.4 135.8L498.9 136.4L499.5 137L500 137.6L500.6 138.2L501.1 138.8L501.5 139.4L502 140L502.4 140.7L502.8 141.3L503.2 141.9L503.5 142.5L503.8 143.2L504.1 143.8L504.3 144.5L504.5 145.2L504.7 145.9L504.8 146.7L504.9 147.5L504.9 148.3L504.9 149L504.8 149.7L504.7 150.3L504.5 150.9L504.3 151.4L504 151.9L503.7 152.4L503.4 152.8L503.1 153.1L502.8 153.3L502.4 153.5L502 153.7L501.4 153.8L500.6 153.9L499.5 154L498.1 154L496.5 154L495 154L493.5 153.9L492.2 153.9L491.1 153.9L490.1 153.9L489.2 153.9L488.4 153.9L487.7 153.7Z" fill="#000" fill-opacity="0.0" stroke="#888" stroke-opacity="1" stroke-width="0.5" stroke-linejoin="round"/>
<ellipse cx="494" cy="145" rx="9" ry="11" fill="#000" fill-opacity=".28" filter="url(#soft4)"/>
<ellipse cx="493" cy="140" rx="4" ry="6" fill="#000" fill-opacity=".22" filter="url(#soft3)"/>
<path d="M493.9 152.4h.8M501.4 141.6h.8M506.6 149.6h.8M495.6 149.5h.8M497.6 152.3h.8M490.6 150.7h.8M497.1 144.9h.8M492.2 147.6h.8M494.1 136.3h.8M489.4 144.4h.8M493.4 156.9h.8M499.4 146.7h.8M499.6 144.2h.8M490.2 134h.8M495.4 149.7h.8M499.7 127.9h.8M491 146h.8M494 131.2h.8M494.7 143.1h.8M499.2 138h.8M502.1 138.4h.8M502.7 145.7h.8M499.2 144.1h.8M489.6 155.1h.8M493.2 153.5h.8M491 139.6h.8M494.4 155.3h.8M488.6 143.9h.8M499.3 155.1h.8M490.7 148.4h.8M502.1 153.2h.8M496.9 154.4h.8M492.3 152.9h.8M489 139.7h.8M500.1 152.9h.8M494.4 139h.8M494.3 141.9h.8M491.4 149.2h.8M497.2 150.5h.8M497 152.7h.8M485.3 142.8h.8M492.4 143.7h.8M489.5 142.5h.8M493.3 149.8h.8M496.7 138.6h.8M489.7 134.8h.8M492.5 142h.8M492.6 151.4h.8M495.9 152.2h.8M496.5 149.2h.8M499.6 153.4h.8M506.6 146.1h.8M492.9 133.8h.8M495.4 144h.8M491 146.3h.8M483.9 151.6h.8M491.5 149.8h.8M503.1 134.1h.8M493.4 139.4h.8M490.5 152.7h.8M499.3 150.3h.8M497.3 143.5h.8M496.1 152h.8M499 143.6h.8M497.2 141.7h.8M495.4 146.2h.8M491.9 147.1h.8M492.8 151.4h.8M501.8 142.6h.8M491.4 145.8h.8M495.8 143.3h.8M488.7 148.5h.8M495.6 145.8h.8M492.4 146.4h.8M494.2 140.2h.8M495.6 144.7h.8M496.8 144.7h.8M497.2 135.3h.8M495 134.9h.8M502.3 145.7h.8M497.3 144.1h.8M496.2 147.7h.8M493.7 135.4h.8M491.3 148h.8M498 143.2h.8M491.8 145.5h.8M492.2 149.3h.8M485.9 137.4h.8M499 147.1h.8M505.5 138.8h.8M500.7 147.8h.8M502.8 156.9h.8M490.8 141.2h.8M498 138h.8M487.3 149.5h.8M496.5 143.1h.8M496.4 134.4h.8M495.8 148.9h.8M497 141.6h.8M496 143.3h.8M484.7 129.5h.8M498.9 138.7h.8M498.3 140.1h.8M497.4 155.9h.8M505.6 144.5h.8M502.8 149.3h.8M497.7 155.1h.8M494 145.7h.8M491.9 140.7h.8M500.4 144.7h.8M492.3 150.2h.8" stroke="#000" stroke-opacity="0.3" stroke-width="1.0" fill="none"/>
<path d="M495.5 145.5l1.8 9" stroke="#fff" stroke-width="1.4" stroke-opacity=".95"/>
</g>
<rect x="457.5" y="98.5" width="61.2" height="61.5" fill="none" stroke="#6a6a6a" stroke-width="1"/>
<line x1="478.3" y1="98.5" x2="478.3" y2="160" stroke="#7a7a7a" stroke-width=".9"/>
<line x1="457.5" y1="144.9" x2="518.7" y2="144.9" stroke="#7a7a7a" stroke-width=".9"/>
<text transform="translate(458.4 104) scale(1 0.78)" font-size="6.9" text-anchor="start" stroke="#000" stroke-width="0.4">0.27</text>
<text transform="translate(518.1 104) scale(1 0.78)" font-size="6.9" text-anchor="end" stroke="#000" stroke-width="0.4">44.66</text>
<text transform="translate(458.4 159.1) scale(1 0.78)" font-size="6.9" text-anchor="start" stroke="#000" stroke-width="0.4">0.58</text>
<text transform="translate(518.1 159.1) scale(1 0.78)" font-size="6.9" text-anchor="end" stroke="#000" stroke-width="0.4">54.49</text>
<g stroke="#000" stroke-width="0.25">
<text x="1" y="9.6" font-size="11.6">A</text>
<text x="48.3" y="6.5" font-size="9">Transposon</text>
<text x="48.3" y="17.5" font-size="9">alone</text>
<text x="142" y="6.5" font-size="9">Transposon+</text>
<text x="142" y="17.5" font-size="9">SB100X</text>
<text x="217.2" y="58.8" font-size="9">Day 1</text>
<text x="217.1" y="138.8" font-size="9">Day 7</text>
<text x="215.8" y="208.3" font-size="9">Day 14</text>
<text x="217.3" y="284.2" font-size="9">Day 21</text>
<text x="0.5" y="301.8" font-size="9.2">DsRed</text>
<text x="34" y="323.3" font-size="9">FSC</text>
<line x1="18" y1="51.5" x2="18" y2="287.6" stroke="#111" stroke-width="1.5"/>
<path d="M15.8 52.5L18 47.8L20.2 52.5Z" fill="#111"/>
<line x1="60.8" y1="320.6" x2="193.5" y2="320.6" stroke="#111" stroke-width="1.4"/>
<path d="M192.6 318.6L197.1 320.6L192.6 322.6Z" fill="#111"/>
<text x="272.5" y="8.9" font-size="10.4">B</text>
<text x="305.3" y="5.8" font-size="6.8">OP9-GFP</text>
<text x="387.5" y="5.8" font-size="6.8">OP9-DL1</text>
<text x="460" y="5.7" font-size="6.8">DsRed<tspan font-size="4.2" dy="-2.6">+</tspan><tspan dy="2.6"> cells</tspan></text>
<text transform="translate(277.9 72.8) rotate(-90)" font-size="6.8">CD4</text>
<text transform="translate(280 160.4) rotate(-90)" font-size="6.8">CD1a</text>
<text x="284.6" y="87.6" font-size="6.8">CD8</text>
<text x="284.2" y="176.8" font-size="6.8">CD7</text>
<line x1="276.6" y1="20" x2="276.6" y2="48" stroke="#111" stroke-width="1"/>
<path d="M275 21L276.6 17.6L278.2 21Z" fill="#111"/>
<line x1="278.6" y1="107" x2="278.6" y2="135.4" stroke="#111" stroke-width="1"/>
<path d="M277 108L278.6 104.6L280.2 108Z" fill="#111"/>
<line x1="304.2" y1="85.6" x2="490" y2="85.6" stroke="#222" stroke-width="1"/>
<path d="M489.5 84L493.2 85.6L489.5 87.2Z" fill="#111"/>
<line x1="308.1" y1="174.6" x2="493" y2="174.6" stroke="#222" stroke-width="1"/>
<path d="M492.6 173L496.3 174.6L492.6 176.2Z" fill="#111"/>
</g>
</g>
</svg>
</body></html>
